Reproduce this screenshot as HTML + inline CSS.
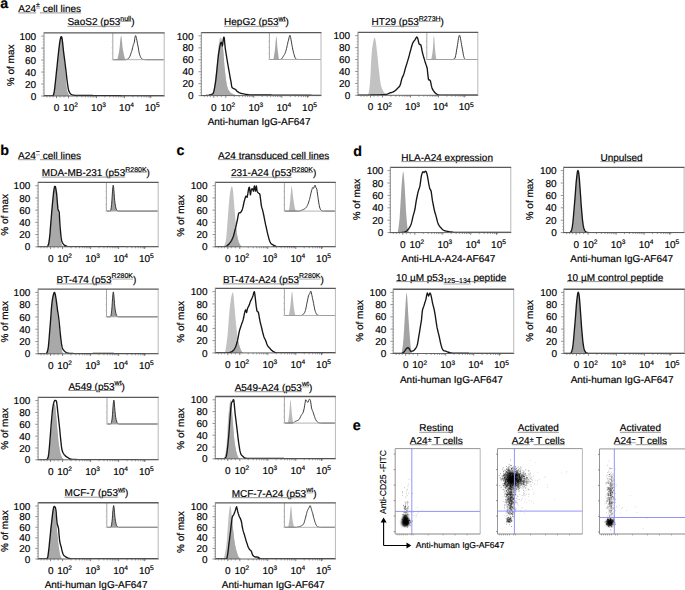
<!DOCTYPE html><html><head><meta charset="utf-8"><style>html,body{margin:0;padding:0;background:#fff;overflow:hidden}svg{display:block;} text{text-rendering:geometricPrecision;stroke:#000;stroke-width:0.18px}</style></head><body>
<svg width="685" height="590" viewBox="0 0 685 590" font-family='"Liberation Sans", sans-serif'>
<rect width="685" height="590" fill="#fff"/>
<line x1="41.20" y1="96.00" x2="44.00" y2="96.00" stroke="#777" stroke-width="0.8" />
<text x="36.20" y="99.60" font-size="10" text-anchor="end" font-weight="normal" fill="#000" >0</text>
<line x1="41.20" y1="84.02" x2="44.00" y2="84.02" stroke="#777" stroke-width="0.8" />
<text x="36.20" y="87.62" font-size="10" text-anchor="end" font-weight="normal" fill="#000" >20</text>
<line x1="41.20" y1="72.04" x2="44.00" y2="72.04" stroke="#777" stroke-width="0.8" />
<text x="36.20" y="75.64" font-size="10" text-anchor="end" font-weight="normal" fill="#000" >40</text>
<line x1="41.20" y1="60.06" x2="44.00" y2="60.06" stroke="#777" stroke-width="0.8" />
<text x="36.20" y="63.66" font-size="10" text-anchor="end" font-weight="normal" fill="#000" >60</text>
<line x1="41.20" y1="48.08" x2="44.00" y2="48.08" stroke="#777" stroke-width="0.8" />
<text x="36.20" y="51.68" font-size="10" text-anchor="end" font-weight="normal" fill="#000" >80</text>
<line x1="41.20" y1="36.10" x2="44.00" y2="36.10" stroke="#777" stroke-width="0.8" />
<text x="36.20" y="39.70" font-size="10" text-anchor="end" font-weight="normal" fill="#000" >100</text>
<line x1="42.50" y1="93.00" x2="44.00" y2="93.00" stroke="#999" stroke-width="0.6" />
<line x1="42.50" y1="90.01" x2="44.00" y2="90.01" stroke="#999" stroke-width="0.6" />
<line x1="42.50" y1="87.02" x2="44.00" y2="87.02" stroke="#999" stroke-width="0.6" />
<line x1="42.50" y1="81.03" x2="44.00" y2="81.03" stroke="#999" stroke-width="0.6" />
<line x1="42.50" y1="78.03" x2="44.00" y2="78.03" stroke="#999" stroke-width="0.6" />
<line x1="42.50" y1="75.03" x2="44.00" y2="75.03" stroke="#999" stroke-width="0.6" />
<line x1="42.50" y1="69.04" x2="44.00" y2="69.04" stroke="#999" stroke-width="0.6" />
<line x1="42.50" y1="66.05" x2="44.00" y2="66.05" stroke="#999" stroke-width="0.6" />
<line x1="42.50" y1="63.05" x2="44.00" y2="63.05" stroke="#999" stroke-width="0.6" />
<line x1="42.50" y1="57.06" x2="44.00" y2="57.06" stroke="#999" stroke-width="0.6" />
<line x1="42.50" y1="54.07" x2="44.00" y2="54.07" stroke="#999" stroke-width="0.6" />
<line x1="42.50" y1="51.08" x2="44.00" y2="51.08" stroke="#999" stroke-width="0.6" />
<line x1="42.50" y1="45.08" x2="44.00" y2="45.08" stroke="#999" stroke-width="0.6" />
<line x1="42.50" y1="42.09" x2="44.00" y2="42.09" stroke="#999" stroke-width="0.6" />
<line x1="42.50" y1="39.09" x2="44.00" y2="39.09" stroke="#999" stroke-width="0.6" />
<line x1="56.50" y1="96.00" x2="56.50" y2="98.20" stroke="#666" stroke-width="0.8" />
<line x1="68.50" y1="96.00" x2="68.50" y2="98.20" stroke="#666" stroke-width="0.8" />
<line x1="96.50" y1="96.00" x2="96.50" y2="98.20" stroke="#666" stroke-width="0.8" />
<line x1="124.50" y1="96.00" x2="124.50" y2="98.20" stroke="#666" stroke-width="0.8" />
<line x1="150.20" y1="96.00" x2="150.20" y2="98.20" stroke="#666" stroke-width="0.8" />
<line x1="76.93" y1="96.00" x2="76.93" y2="97.50" stroke="#666" stroke-width="0.6" />
<line x1="81.86" y1="96.00" x2="81.86" y2="97.50" stroke="#666" stroke-width="0.6" />
<line x1="85.36" y1="96.00" x2="85.36" y2="97.50" stroke="#666" stroke-width="0.6" />
<line x1="88.07" y1="96.00" x2="88.07" y2="97.50" stroke="#666" stroke-width="0.6" />
<line x1="90.29" y1="96.00" x2="90.29" y2="97.50" stroke="#666" stroke-width="0.6" />
<line x1="92.16" y1="96.00" x2="92.16" y2="97.50" stroke="#666" stroke-width="0.6" />
<line x1="93.79" y1="96.00" x2="93.79" y2="97.50" stroke="#666" stroke-width="0.6" />
<line x1="95.22" y1="96.00" x2="95.22" y2="97.50" stroke="#666" stroke-width="0.6" />
<line x1="104.93" y1="96.00" x2="104.93" y2="97.50" stroke="#666" stroke-width="0.6" />
<line x1="109.86" y1="96.00" x2="109.86" y2="97.50" stroke="#666" stroke-width="0.6" />
<line x1="113.36" y1="96.00" x2="113.36" y2="97.50" stroke="#666" stroke-width="0.6" />
<line x1="116.07" y1="96.00" x2="116.07" y2="97.50" stroke="#666" stroke-width="0.6" />
<line x1="118.29" y1="96.00" x2="118.29" y2="97.50" stroke="#666" stroke-width="0.6" />
<line x1="120.16" y1="96.00" x2="120.16" y2="97.50" stroke="#666" stroke-width="0.6" />
<line x1="121.79" y1="96.00" x2="121.79" y2="97.50" stroke="#666" stroke-width="0.6" />
<line x1="123.22" y1="96.00" x2="123.22" y2="97.50" stroke="#666" stroke-width="0.6" />
<line x1="132.93" y1="96.00" x2="132.93" y2="97.50" stroke="#666" stroke-width="0.6" />
<line x1="137.86" y1="96.00" x2="137.86" y2="97.50" stroke="#666" stroke-width="0.6" />
<line x1="141.36" y1="96.00" x2="141.36" y2="97.50" stroke="#666" stroke-width="0.6" />
<line x1="144.07" y1="96.00" x2="144.07" y2="97.50" stroke="#666" stroke-width="0.6" />
<line x1="146.29" y1="96.00" x2="146.29" y2="97.50" stroke="#666" stroke-width="0.6" />
<line x1="148.16" y1="96.00" x2="148.16" y2="97.50" stroke="#666" stroke-width="0.6" />
<line x1="149.79" y1="96.00" x2="149.79" y2="97.50" stroke="#666" stroke-width="0.6" />
<line x1="151.22" y1="96.00" x2="151.22" y2="97.50" stroke="#666" stroke-width="0.6" />
<line x1="47.00" y1="96.00" x2="47.00" y2="97.50" stroke="#666" stroke-width="0.6" />
<line x1="50.00" y1="96.00" x2="50.00" y2="97.50" stroke="#666" stroke-width="0.6" />
<line x1="53.00" y1="96.00" x2="53.00" y2="97.50" stroke="#666" stroke-width="0.6" />
<line x1="60.00" y1="96.00" x2="60.00" y2="97.50" stroke="#666" stroke-width="0.6" />
<line x1="64.00" y1="96.00" x2="64.00" y2="97.50" stroke="#666" stroke-width="0.6" />
<text x="56.60" y="110.90" font-size="10" text-anchor="middle" font-weight="normal" fill="#000" >0</text>
<text x="63.10" y="110.90" font-size="10" fill="#000">10<tspan font-size="6.6" dy="-3.6">2</tspan></text>
<text x="91.10" y="110.90" font-size="10" fill="#000">10<tspan font-size="6.6" dy="-3.6">3</tspan></text>
<text x="119.10" y="110.90" font-size="10" fill="#000">10<tspan font-size="6.6" dy="-3.6">4</tspan></text>
<text x="144.80" y="110.90" font-size="10" fill="#000">10<tspan font-size="6.6" dy="-3.6">5</tspan></text>
<clipPath id="ca1"><rect x="44" y="32.8" width="120.19999999999999" height="63.2"/></clipPath>
<g clip-path="url(#ca1)">
<polygon points="50,96 50,96 50.3,96 50.8,96 51.4,96 52,96 52.5,96 53.1,95.9 53.5,95.4 54.1,93.6 54.5,91 55,87 55.5,82.6 56,77.2 56.6,71.5 57.1,66 57.8,59.1 58.4,52.4 59,46.9 59.7,41.9 60.3,39.1 60.8,37.7 61.2,37.9 61.7,39.2 62.3,42.1 62.8,45.5 63.3,49.7 63.8,54.1 64.4,60.5 65,67.2 65.5,74.4 66,81 66.5,86.1 67,90 67.5,91.9 68,93.2 68.5,94.2 68.9,94.9 69.3,95.4 70,95.7 70.4,95.8 70.9,95.9 71.5,95.9 72.1,95.9 72.7,96 73.2,96 73.7,96 74,96 74,96" fill="#c2c2c2"/>
<polygon points="50,96 50,96 50.4,96 50.8,96 51.2,96 51.6,96 52,96 52.4,96 52.8,96 53.2,95.8 53.6,95.1 54,94 54.4,91.9 54.8,88.7 55.2,85.2 55.6,81.5 56,77.5 56.4,73.3 56.8,69.1 57.2,65.1 57.6,61.2 58,57.4 58.4,53.5 58.8,49.9 59.2,46.5 59.6,43.5 60,40.9 60.4,38.8 60.8,37.8 61.2,37.9 61.6,38.9 62,40.6 62.4,42.8 62.8,45.6 63.2,48.8 63.6,52.3 64,56.1 64.4,60.2 64.8,64.9 65.2,70 65.6,75.6 66,81 66.4,85.4 66.8,88.5 67.2,90.8 67.6,92.2 68,93.2 68.4,94 68.8,94.8 69.2,95.3 69.6,95.5 70,95.7 70.4,95.8 70.8,95.9 71.2,95.9 71.6,95.9 72,95.9 72.4,96 72.8,96 73.2,96 73.6,96 74,96 74,96" fill="#a9a9a9"/>
<polyline points="44,96 48,96 48.3,96 48.8,96 49.3,96 49.9,96 50.5,96 51.1,95.9 51.6,95.9 52.1,95.8 52.5,95.6 53.2,95.3 53.6,94.7 54,93 54.5,89.8 55,85.6 55.5,81 56,76.4 56.5,71.4 57.1,66 57.7,59.9 58.4,53.5 59,48.1 59.7,42.6 60.3,39.1 60.8,37.2 61.2,36.7 61.7,37 62.2,39.1 62.8,44.3 63.5,51.1 64.1,55.9 64.8,61 65.4,66 66,70.9 66.5,75.6 67,79.8 67.7,85 68.3,88.8 68.9,91.1 69.5,92.4 70,93.2 70.5,93.7 71,94.2 71.4,94.5 71.7,94.7 72.2,94.9 73,95.1 73.3,95.1 73.5,95.2 73.8,95.2 74,95.2 74.3,95.3 74.6,95.3 75,95.3 75.4,95.3 76.1,95.3 76.9,95.4 77.8,95.4 79,95.4 79.3,95.4 79.7,95.4 80,95.4 80.4,95.4 80.8,95.4 81.1,95.4 81.6,95.4 82,95.4 82.4,95.4 82.9,95.5 83.3,95.5 83.8,95.5 84.3,95.5 84.8,95.5 85.3,95.5 85.8,95.5 86.3,95.5 86.8,95.5 87.3,95.5 87.9,95.5 88.4,95.5 89,95.5 89.5,95.5 90.1,95.5 90.6,95.5 91.2,95.5 91.7,95.5 92.3,95.5 92.9,95.6 93.4,95.6 94,95.6 94.6,95.6 95.1,95.6 95.7,95.6 96.3,95.6 96.8,95.6 97.4,95.6 97.9,95.6 98.5,95.6 99,95.6 99.6,95.6 100.1,95.6 100.6,95.6 101.1,95.6 101.6,95.6 102.1,95.6 102.6,95.6 103.1,95.6 103.5,95.6 104,95.6 104.6,95.6 105.1,95.6 105.6,95.7 106.1,95.7 106.6,95.7 107.1,95.7 107.5,95.7 108,95.7 108.4,95.7 108.9,95.7 109.3,95.7 109.7,95.7 110.2,95.7 110.6,95.7 111,95.7 111.4,95.7 111.8,95.7 112.2,95.7 112.6,95.7 113.1,95.7 113.5,95.7 113.9,95.7 114.4,95.7 114.8,95.7 115.3,95.7 115.7,95.7 116.2,95.7 116.7,95.7 117.2,95.7 117.7,95.7 118.2,95.7 118.8,95.7 119.4,95.7 120,95.7 120.6,95.7 121.2,95.8 121.9,95.8 122.6,95.8 123.3,95.8 124,95.8 124.4,95.8 124.8,95.8 125.2,95.8 125.6,95.8 126,95.8 126.5,95.8 126.9,95.8 127.4,95.8 127.8,95.8 128.3,95.8 128.8,95.8 129.3,95.8 129.8,95.8 130.3,95.8 130.8,95.8 131.4,95.8 131.9,95.8 132.4,95.8 133,95.8 133.5,95.8 134.1,95.8 134.7,95.8 135.2,95.8 135.8,95.8 136.4,95.8 136.9,95.8 137.5,95.8 138.1,95.8 138.7,95.8 139.3,95.8 139.9,95.8 140.5,95.8 141.1,95.8 141.7,95.8 142.3,95.8 142.9,95.8 143.5,95.8 144.1,95.8 144.7,95.8 145.2,95.8 145.8,95.8 146.4,95.8 147,95.8 147.6,95.8 148.2,95.8 148.8,95.8 149.3,95.8 149.9,95.8 150.5,95.8 151.1,95.8 151.6,95.8 152.2,95.8 152.7,95.8 153.2,95.8 153.8,95.8 154.3,95.8 154.8,95.8 155.3,95.8 155.8,95.8 156.3,95.8 156.8,95.8 157.3,95.8 157.8,95.8 158.2,95.8 158.7,95.8 159.1,95.8 159.6,95.8 160,95.8 160.4,95.8 160.8,95.8 161.2,95.8 161.5,95.8 161.9,95.8 162.2,95.8 162.6,95.8 162.9,95.8 163.2,95.8 163.5,95.8 163.7,95.8 164,95.8 164.2,95.8" fill="none" stroke="#161616" stroke-width="1.35" stroke-linejoin="round"/>
</g>
<rect x="112.80" y="32.80" width="51.40" height="26.90" fill="white" stroke="none"/>
<polygon points="117.3,59.7 117.3,59.7 117.5,58.7 117.8,57.4 118.2,55.8 118.6,54 119,52.1 119.3,50.1 119.6,47.6 119.9,44.6 120.2,41.4 120.5,38.5 120.8,36.5 121.1,35.6 121.4,36.5 121.8,39 122.1,42.4 122.4,45.9 122.8,48.9 123.1,50.6 123.5,52.4 123.8,54.1 124.2,55.8 124.5,57.3 124.9,58.5 125.1,59.5 125.6,59.7 125.8,59.7 125.8,59.7" fill="#a6a6a6"/>
<polygon points="124.8,59.7 124.8,59.7 125.2,59.7 125.6,59.7 125.6,59.7" fill="#a0a0a0"/>
<polyline points="113.3,59.7 124.8,59.7 125,59.7 125.4,59.7 126,59.6 126.2,59.5 126.5,59.4 126.8,59.4 127.1,59.3 127.4,59.2 127.7,59.1 128.1,58.9 128.4,58.7 128.7,58.4 129,58 129.3,57.4 129.7,56.7 130,56 130.4,55.1 130.7,54.2 131,53.3 131.3,52.4 131.6,51.5 132,50.3 132.3,49 132.6,47.7 132.9,46.5 133.2,45.4 133.4,44.5 133.8,43.7 134.2,42.8 134.5,41 134.8,38.5 135.2,36.4 135.6,35.6 135.9,36.1 136.2,37.1 136.5,38.6 136.9,40.3 137.2,42 137.5,43.8 137.8,45.2 138.2,47.1 138.5,49.1 138.8,50.9 139.1,52.7 139.5,54.2 139.8,55.1 140.1,55.9 140.4,56.6 140.7,57.3 141,57.8 141.3,58.3 141.7,58.7 142,59 142.3,59.2 142.6,59.3 142.9,59.4 143.3,59.4 143.6,59.5 143.9,59.5 144.2,59.5 144.5,59.5 144.8,59.6 145.2,59.6 145.6,59.7 146,59.7 146.3,59.7 146.6,59.7 146.8,59.7 163.7,59.7" fill="none" stroke="#3a3a3a" stroke-width="1"/>
<line x1="112.80" y1="32.80" x2="112.80" y2="59.70" stroke="#8f8f8f" stroke-width="0.8" />
<line x1="112.80" y1="59.70" x2="164.20" y2="59.70" stroke="#aaaaaa" stroke-width="0.9" />
<line x1="111.60" y1="41.62" x2="112.80" y2="41.62" stroke="#aaa" stroke-width="0.5" />
<line x1="111.60" y1="47.65" x2="112.80" y2="47.65" stroke="#aaa" stroke-width="0.5" />
<line x1="111.60" y1="53.67" x2="112.80" y2="53.67" stroke="#aaa" stroke-width="0.5" />
<line x1="111.60" y1="59.70" x2="112.80" y2="59.70" stroke="#aaa" stroke-width="0.5" />
<line x1="164.20" y1="32.80" x2="164.20" y2="96.00" stroke="#b8b8b8" stroke-width="1" />
<line x1="44.00" y1="32.80" x2="164.60" y2="32.80" stroke="#5a5a5a" stroke-width="1.35" />
<line x1="44.00" y1="32.20" x2="44.00" y2="96.50" stroke="#858585" stroke-width="1" />
<line x1="43.50" y1="96.00" x2="164.70" y2="96.00" stroke="#555" stroke-width="0.9" />
<text x="13.70" y="65.40" font-size="10" text-anchor="middle" fill="#000" transform="rotate(-90 13.70 65.40)">% of max</text>
<line x1="198.50" y1="95.60" x2="201.30" y2="95.60" stroke="#777" stroke-width="0.8" />
<text x="193.50" y="99.20" font-size="10" text-anchor="end" font-weight="normal" fill="#000" >0</text>
<line x1="198.50" y1="83.66" x2="201.30" y2="83.66" stroke="#777" stroke-width="0.8" />
<text x="193.50" y="87.26" font-size="10" text-anchor="end" font-weight="normal" fill="#000" >20</text>
<line x1="198.50" y1="71.72" x2="201.30" y2="71.72" stroke="#777" stroke-width="0.8" />
<text x="193.50" y="75.32" font-size="10" text-anchor="end" font-weight="normal" fill="#000" >40</text>
<line x1="198.50" y1="59.78" x2="201.30" y2="59.78" stroke="#777" stroke-width="0.8" />
<text x="193.50" y="63.38" font-size="10" text-anchor="end" font-weight="normal" fill="#000" >60</text>
<line x1="198.50" y1="47.84" x2="201.30" y2="47.84" stroke="#777" stroke-width="0.8" />
<text x="193.50" y="51.44" font-size="10" text-anchor="end" font-weight="normal" fill="#000" >80</text>
<line x1="198.50" y1="35.90" x2="201.30" y2="35.90" stroke="#777" stroke-width="0.8" />
<text x="193.50" y="39.50" font-size="10" text-anchor="end" font-weight="normal" fill="#000" >100</text>
<line x1="199.80" y1="92.61" x2="201.30" y2="92.61" stroke="#999" stroke-width="0.6" />
<line x1="199.80" y1="89.63" x2="201.30" y2="89.63" stroke="#999" stroke-width="0.6" />
<line x1="199.80" y1="86.64" x2="201.30" y2="86.64" stroke="#999" stroke-width="0.6" />
<line x1="199.80" y1="80.67" x2="201.30" y2="80.67" stroke="#999" stroke-width="0.6" />
<line x1="199.80" y1="77.69" x2="201.30" y2="77.69" stroke="#999" stroke-width="0.6" />
<line x1="199.80" y1="74.70" x2="201.30" y2="74.70" stroke="#999" stroke-width="0.6" />
<line x1="199.80" y1="68.73" x2="201.30" y2="68.73" stroke="#999" stroke-width="0.6" />
<line x1="199.80" y1="65.75" x2="201.30" y2="65.75" stroke="#999" stroke-width="0.6" />
<line x1="199.80" y1="62.77" x2="201.30" y2="62.77" stroke="#999" stroke-width="0.6" />
<line x1="199.80" y1="56.80" x2="201.30" y2="56.80" stroke="#999" stroke-width="0.6" />
<line x1="199.80" y1="53.81" x2="201.30" y2="53.81" stroke="#999" stroke-width="0.6" />
<line x1="199.80" y1="50.82" x2="201.30" y2="50.82" stroke="#999" stroke-width="0.6" />
<line x1="199.80" y1="44.85" x2="201.30" y2="44.85" stroke="#999" stroke-width="0.6" />
<line x1="199.80" y1="41.87" x2="201.30" y2="41.87" stroke="#999" stroke-width="0.6" />
<line x1="199.80" y1="38.88" x2="201.30" y2="38.88" stroke="#999" stroke-width="0.6" />
<line x1="213.80" y1="95.60" x2="213.80" y2="97.80" stroke="#666" stroke-width="0.8" />
<line x1="225.80" y1="95.60" x2="225.80" y2="97.80" stroke="#666" stroke-width="0.8" />
<line x1="253.80" y1="95.60" x2="253.80" y2="97.80" stroke="#666" stroke-width="0.8" />
<line x1="281.80" y1="95.60" x2="281.80" y2="97.80" stroke="#666" stroke-width="0.8" />
<line x1="307.50" y1="95.60" x2="307.50" y2="97.80" stroke="#666" stroke-width="0.8" />
<line x1="234.23" y1="95.60" x2="234.23" y2="97.10" stroke="#666" stroke-width="0.6" />
<line x1="239.16" y1="95.60" x2="239.16" y2="97.10" stroke="#666" stroke-width="0.6" />
<line x1="242.66" y1="95.60" x2="242.66" y2="97.10" stroke="#666" stroke-width="0.6" />
<line x1="245.37" y1="95.60" x2="245.37" y2="97.10" stroke="#666" stroke-width="0.6" />
<line x1="247.59" y1="95.60" x2="247.59" y2="97.10" stroke="#666" stroke-width="0.6" />
<line x1="249.46" y1="95.60" x2="249.46" y2="97.10" stroke="#666" stroke-width="0.6" />
<line x1="251.09" y1="95.60" x2="251.09" y2="97.10" stroke="#666" stroke-width="0.6" />
<line x1="252.52" y1="95.60" x2="252.52" y2="97.10" stroke="#666" stroke-width="0.6" />
<line x1="262.23" y1="95.60" x2="262.23" y2="97.10" stroke="#666" stroke-width="0.6" />
<line x1="267.16" y1="95.60" x2="267.16" y2="97.10" stroke="#666" stroke-width="0.6" />
<line x1="270.66" y1="95.60" x2="270.66" y2="97.10" stroke="#666" stroke-width="0.6" />
<line x1="273.37" y1="95.60" x2="273.37" y2="97.10" stroke="#666" stroke-width="0.6" />
<line x1="275.59" y1="95.60" x2="275.59" y2="97.10" stroke="#666" stroke-width="0.6" />
<line x1="277.46" y1="95.60" x2="277.46" y2="97.10" stroke="#666" stroke-width="0.6" />
<line x1="279.09" y1="95.60" x2="279.09" y2="97.10" stroke="#666" stroke-width="0.6" />
<line x1="280.52" y1="95.60" x2="280.52" y2="97.10" stroke="#666" stroke-width="0.6" />
<line x1="290.23" y1="95.60" x2="290.23" y2="97.10" stroke="#666" stroke-width="0.6" />
<line x1="295.16" y1="95.60" x2="295.16" y2="97.10" stroke="#666" stroke-width="0.6" />
<line x1="298.66" y1="95.60" x2="298.66" y2="97.10" stroke="#666" stroke-width="0.6" />
<line x1="301.37" y1="95.60" x2="301.37" y2="97.10" stroke="#666" stroke-width="0.6" />
<line x1="303.59" y1="95.60" x2="303.59" y2="97.10" stroke="#666" stroke-width="0.6" />
<line x1="305.46" y1="95.60" x2="305.46" y2="97.10" stroke="#666" stroke-width="0.6" />
<line x1="307.09" y1="95.60" x2="307.09" y2="97.10" stroke="#666" stroke-width="0.6" />
<line x1="308.52" y1="95.60" x2="308.52" y2="97.10" stroke="#666" stroke-width="0.6" />
<line x1="204.30" y1="95.60" x2="204.30" y2="97.10" stroke="#666" stroke-width="0.6" />
<line x1="207.30" y1="95.60" x2="207.30" y2="97.10" stroke="#666" stroke-width="0.6" />
<line x1="210.30" y1="95.60" x2="210.30" y2="97.10" stroke="#666" stroke-width="0.6" />
<line x1="217.30" y1="95.60" x2="217.30" y2="97.10" stroke="#666" stroke-width="0.6" />
<line x1="221.30" y1="95.60" x2="221.30" y2="97.10" stroke="#666" stroke-width="0.6" />
<text x="213.90" y="110.50" font-size="10" text-anchor="middle" font-weight="normal" fill="#000" >0</text>
<text x="220.40" y="110.50" font-size="10" fill="#000">10<tspan font-size="6.6" dy="-3.6">2</tspan></text>
<text x="248.40" y="110.50" font-size="10" fill="#000">10<tspan font-size="6.6" dy="-3.6">3</tspan></text>
<text x="276.40" y="110.50" font-size="10" fill="#000">10<tspan font-size="6.6" dy="-3.6">4</tspan></text>
<text x="302.10" y="110.50" font-size="10" fill="#000">10<tspan font-size="6.6" dy="-3.6">5</tspan></text>
<clipPath id="ca2"><rect x="201.3" y="32.6" width="119.69999999999999" height="62.99999999999999"/></clipPath>
<g clip-path="url(#ca2)">
<polygon points="210.3,95.6 210.3,95.6 210.7,95.6 211.3,95.6 212,95.6 212.7,95.5 213.2,94.4 213.8,90.8 214.3,85.8 214.8,80.7 215.4,75.9 216.1,71 216.7,65.8 217.3,59.7 217.8,53.3 218.3,47.8 219,42.3 219.7,38.9 220.3,37.5 220.8,37.7 221.4,38.5 222.1,40.7 222.7,45 223.3,50.8 223.8,58 224.4,65.8 225,71.2 225.6,76.7 226.2,81.3 226.7,84.4 227.2,86.6 227.8,88.4 228.3,89.6 228.7,90.6 229.3,91.3 229.8,92 230.3,92.5 230.7,92.9 231.2,93.2 231.7,93.5 232.3,93.8 232.8,94 233.3,94.3 233.8,94.5 234.4,94.7 235,94.8 235.7,95 236.1,95.1 236.7,95.2 237.2,95.2 237.8,95.3 238.4,95.3 239,95.4 239.6,95.5 240.1,95.5 240.6,95.5 241,95.6 241.3,95.6 241.3,95.6" fill="#c2c2c2"/>
<polygon points="210.3,95.6 210.3,95.6 210.7,95.6 211.1,95.6 211.5,95.6 211.9,95.6 212.3,95.5 212.7,95.4 213.1,94.6 213.5,92.7 213.9,90.9 214.3,89.2 214.7,87.2 215.1,84.8 215.5,82.3 215.9,79.2 216.3,75.8 216.7,71.9 217.1,67.8 217.5,63.8 217.9,59.8 218.3,56.2 218.7,53.1 219.1,50.4 219.5,48.2 219.9,46.2 220.3,44.4 220.7,43.1 221.1,42.4 221.5,42.7 221.9,44.1 222.3,45.7 222.7,44.9 223.1,48.8 223.5,53.6 223.9,59.1 224.3,64.4 224.7,68.7 225.1,72.4 225.5,75.9 225.9,79 226.3,81.9 226.7,84.2 227.1,86 227.5,87.5 227.9,88.7 228.3,89.7 228.7,90.5 229.1,91.1 229.5,91.6 229.9,92.1 230.3,92.5 230.7,92.9 231.1,93.1 231.5,93.4 231.9,93.6 232.3,93.8 232.7,94 233.1,94.2 233.5,94.4 233.9,94.5 234.3,94.6 234.7,94.8 235.1,94.9 235.5,95 235.9,95 236.3,95.1 236.7,95.2 237.1,95.2 237.5,95.3 237.9,95.3 238.3,95.3 238.7,95.4 239.1,95.4 239.5,95.4 239.9,95.5 240.3,95.5 240.7,95.5 241.1,95.6 241.1,95.6" fill="#a9a9a9"/>
<polyline points="201.3,95.6 205.3,95.6 205.6,95.6 206.1,95.5 206.7,95.5 207.3,95.5 207.9,95.4 208.4,95.3 209,95.2 209.6,95 210.2,94.8 210.8,94.6 211.3,94.4 212,94.2 212.6,94 213.2,93.2 213.8,91.5 214.3,89.2 214.8,86.6 215.5,82.5 216.1,77.7 216.7,71.9 217.3,65.8 217.9,59.8 218.5,54.4 219.2,50.1 219.8,46.6 220.4,44 220.9,42.5 221.3,42.3 221.7,43.1 222.1,44.9 222.4,46 222.8,43.8 223.1,40.7 223.5,38.4 223.8,37.1 224.1,37.3 224.4,38.9 224.6,41.8 225,46 225.5,49.8 226.2,54.1 226.8,58 227.3,61.2 227.8,64.1 228.3,66.9 228.8,69.8 229.3,72.5 229.8,75.3 230.3,78.3 230.9,81.2 231.3,83.7 231.6,85.9 231.9,87.2 232.5,88 233.3,88.4 233.8,88.7 234.3,88.9 234.8,89 235.2,89.3 235.7,89.6 236.2,90.2 236.8,90.9 237.3,91.4 237.8,91.8 238.3,92 238.7,92.3 239.2,92.6 239.8,92.9 240.4,93.2 240.9,93.4 241.5,93.5 242.1,93.6 242.7,93.7 243.3,93.8 243.8,93.9 244.2,94 244.7,94.1 245.1,94.2 245.7,94.3 246.3,94.4 246.7,94.5 247.1,94.5 247.5,94.6 247.9,94.7 248.4,94.7 248.8,94.8 249.4,94.9 249.9,94.9 250.6,95 251.3,95 251.6,95 251.9,95 252.1,95 252.2,95 252.3,95 252.4,95 252.4,95 252.5,95 252.7,95 252.9,95 253.1,95 253.5,95 253.9,95 254.5,95 255.2,95 256,95 257,95 258.3,95 259.7,95 261.3,95 261.6,95 261.9,95 262.2,95 262.6,95 262.9,95 263.2,95 263.6,95 264,95 264.4,95 264.7,95 265.1,95 265.5,95 266,95 266.4,95 266.8,95 267.3,95 267.7,95 268.2,95 268.6,95 269.1,95 269.6,95 270.1,95 270.6,95 271.1,95 271.6,95.1 272.1,95.1 272.6,95.1 273.1,95.1 273.7,95.1 274.2,95.1 274.7,95.1 275.3,95.1 275.8,95.1 276.4,95.1 276.9,95.1 277.5,95.1 278.1,95.1 278.7,95.1 279.2,95.1 279.8,95.1 280.4,95.1 281,95.1 281.6,95.1 282.2,95.1 282.8,95.1 283.4,95.1 284,95.1 284.6,95.1 285.2,95.1 285.8,95.1 286.4,95.1 287,95.1 287.6,95.1 288.2,95.1 288.9,95.1 289.5,95.1 290.1,95.1 290.7,95.1 291.3,95.1 291.9,95.2 292.5,95.2 293.2,95.2 293.8,95.2 294.4,95.2 295,95.2 295.6,95.2 296.2,95.2 296.8,95.2 297.4,95.2 298,95.2 298.6,95.2 299.2,95.2 299.8,95.2 300.4,95.2 301,95.2 301.6,95.2 302.2,95.2 302.7,95.2 303.3,95.2 303.9,95.2 304.5,95.2 305,95.2 305.6,95.2 306.1,95.2 306.7,95.2 307.2,95.2 307.8,95.2 308.3,95.2 308.8,95.2 309.3,95.2 309.9,95.2 310.4,95.2 310.9,95.2 311.4,95.3 311.9,95.3 312.3,95.3 312.8,95.3 313.3,95.3 313.7,95.3 314.2,95.3 314.6,95.3 315.1,95.3 315.5,95.3 315.9,95.3 316.3,95.3 316.7,95.3 317.1,95.3 317.5,95.3 317.9,95.3 318.2,95.3 318.6,95.3 318.9,95.3 319.3,95.3 319.6,95.3 319.9,95.3 320.2,95.3 320.5,95.3 320.8,95.3 321,95.3 321.3,95.3 321,95.3" fill="none" stroke="#161616" stroke-width="1.35" stroke-linejoin="round"/>
</g>
<rect x="269.40" y="32.60" width="51.60" height="26.90" fill="white" stroke="none"/>
<polygon points="273.4,59.5 273.4,59.5 273.6,58.3 273.9,56.5 274.2,54.5 274.6,52.2 274.9,49.9 275.3,46.1 275.6,41.7 276,37.9 276.3,36.1 276.7,38 277,42.7 277.4,47.5 277.7,50 278,52.8 278.4,55.5 278.7,57.8 278.9,59.5 278.9,59.5" fill="#a6a6a6"/>
<polyline points="269.9,59.5 279.4,59.5 279.7,59.5 280.1,59.5 280.6,59.4 280.9,59.3 281.2,59.1 281.6,58.9 281.9,58.5 282.2,58.2 282.5,57.7 282.8,57.2 283.1,56.6 283.4,56.1 283.7,55.6 284.1,55.1 284.4,54.6 284.7,54.1 285,53.5 285.3,52.7 285.6,51.8 285.9,50.8 286.2,49.9 286.5,48.5 286.9,47.1 287.2,45.5 287.5,44.3 287.8,42.9 288.1,41.5 288.5,40.2 288.8,39 289.1,37.5 289.4,36.2 289.8,35.4 290.1,35.4 290.4,36.2 290.7,37.7 291,39.7 291.4,41.8 291.7,43.8 292,45.5 292.4,47.3 292.7,49 293.1,50.6 293.4,52.1 293.8,53.5 294.1,54.7 294.5,55.9 294.8,57 295.1,57.8 295.5,58.5 295.8,58.9 296.1,59.2 296.4,59.3 296.8,59.3 297.1,59.3 297.4,59.4 297.8,59.4 298.1,59.5 298.5,59.5 298.9,59.5 299.2,59.5 299.4,59.5 320.5,59.5" fill="none" stroke="#3a3a3a" stroke-width="1"/>
<line x1="269.40" y1="32.60" x2="269.40" y2="59.50" stroke="#8f8f8f" stroke-width="0.8" />
<line x1="269.40" y1="59.50" x2="321.00" y2="59.50" stroke="#aaaaaa" stroke-width="0.9" />
<line x1="268.20" y1="41.42" x2="269.40" y2="41.42" stroke="#aaa" stroke-width="0.5" />
<line x1="268.20" y1="47.45" x2="269.40" y2="47.45" stroke="#aaa" stroke-width="0.5" />
<line x1="268.20" y1="53.47" x2="269.40" y2="53.47" stroke="#aaa" stroke-width="0.5" />
<line x1="268.20" y1="59.50" x2="269.40" y2="59.50" stroke="#aaa" stroke-width="0.5" />
<line x1="321.00" y1="32.60" x2="321.00" y2="95.60" stroke="#b8b8b8" stroke-width="1" />
<line x1="201.30" y1="32.60" x2="321.40" y2="32.60" stroke="#5a5a5a" stroke-width="1.35" />
<line x1="201.30" y1="32.00" x2="201.30" y2="96.10" stroke="#858585" stroke-width="1" />
<line x1="200.80" y1="95.60" x2="321.50" y2="95.60" stroke="#555" stroke-width="0.9" />
<text x="259.05" y="125.00" font-size="10" text-anchor="middle" font-weight="normal" fill="#000" >Anti-human IgG-AF647</text>
<line x1="355.20" y1="95.30" x2="358.00" y2="95.30" stroke="#777" stroke-width="0.8" />
<text x="350.20" y="98.90" font-size="10" text-anchor="end" font-weight="normal" fill="#000" >0</text>
<line x1="355.20" y1="83.38" x2="358.00" y2="83.38" stroke="#777" stroke-width="0.8" />
<text x="350.20" y="86.98" font-size="10" text-anchor="end" font-weight="normal" fill="#000" >20</text>
<line x1="355.20" y1="71.46" x2="358.00" y2="71.46" stroke="#777" stroke-width="0.8" />
<text x="350.20" y="75.06" font-size="10" text-anchor="end" font-weight="normal" fill="#000" >40</text>
<line x1="355.20" y1="59.54" x2="358.00" y2="59.54" stroke="#777" stroke-width="0.8" />
<text x="350.20" y="63.14" font-size="10" text-anchor="end" font-weight="normal" fill="#000" >60</text>
<line x1="355.20" y1="47.62" x2="358.00" y2="47.62" stroke="#777" stroke-width="0.8" />
<text x="350.20" y="51.22" font-size="10" text-anchor="end" font-weight="normal" fill="#000" >80</text>
<line x1="355.20" y1="35.70" x2="358.00" y2="35.70" stroke="#777" stroke-width="0.8" />
<text x="350.20" y="39.30" font-size="10" text-anchor="end" font-weight="normal" fill="#000" >100</text>
<line x1="356.50" y1="92.32" x2="358.00" y2="92.32" stroke="#999" stroke-width="0.6" />
<line x1="356.50" y1="89.34" x2="358.00" y2="89.34" stroke="#999" stroke-width="0.6" />
<line x1="356.50" y1="86.36" x2="358.00" y2="86.36" stroke="#999" stroke-width="0.6" />
<line x1="356.50" y1="80.40" x2="358.00" y2="80.40" stroke="#999" stroke-width="0.6" />
<line x1="356.50" y1="77.42" x2="358.00" y2="77.42" stroke="#999" stroke-width="0.6" />
<line x1="356.50" y1="74.44" x2="358.00" y2="74.44" stroke="#999" stroke-width="0.6" />
<line x1="356.50" y1="68.48" x2="358.00" y2="68.48" stroke="#999" stroke-width="0.6" />
<line x1="356.50" y1="65.50" x2="358.00" y2="65.50" stroke="#999" stroke-width="0.6" />
<line x1="356.50" y1="62.52" x2="358.00" y2="62.52" stroke="#999" stroke-width="0.6" />
<line x1="356.50" y1="56.56" x2="358.00" y2="56.56" stroke="#999" stroke-width="0.6" />
<line x1="356.50" y1="53.58" x2="358.00" y2="53.58" stroke="#999" stroke-width="0.6" />
<line x1="356.50" y1="50.60" x2="358.00" y2="50.60" stroke="#999" stroke-width="0.6" />
<line x1="356.50" y1="44.64" x2="358.00" y2="44.64" stroke="#999" stroke-width="0.6" />
<line x1="356.50" y1="41.66" x2="358.00" y2="41.66" stroke="#999" stroke-width="0.6" />
<line x1="356.50" y1="38.68" x2="358.00" y2="38.68" stroke="#999" stroke-width="0.6" />
<line x1="370.50" y1="95.30" x2="370.50" y2="97.50" stroke="#666" stroke-width="0.8" />
<line x1="382.50" y1="95.30" x2="382.50" y2="97.50" stroke="#666" stroke-width="0.8" />
<line x1="410.50" y1="95.30" x2="410.50" y2="97.50" stroke="#666" stroke-width="0.8" />
<line x1="438.50" y1="95.30" x2="438.50" y2="97.50" stroke="#666" stroke-width="0.8" />
<line x1="464.20" y1="95.30" x2="464.20" y2="97.50" stroke="#666" stroke-width="0.8" />
<line x1="390.93" y1="95.30" x2="390.93" y2="96.80" stroke="#666" stroke-width="0.6" />
<line x1="395.86" y1="95.30" x2="395.86" y2="96.80" stroke="#666" stroke-width="0.6" />
<line x1="399.36" y1="95.30" x2="399.36" y2="96.80" stroke="#666" stroke-width="0.6" />
<line x1="402.07" y1="95.30" x2="402.07" y2="96.80" stroke="#666" stroke-width="0.6" />
<line x1="404.29" y1="95.30" x2="404.29" y2="96.80" stroke="#666" stroke-width="0.6" />
<line x1="406.16" y1="95.30" x2="406.16" y2="96.80" stroke="#666" stroke-width="0.6" />
<line x1="407.79" y1="95.30" x2="407.79" y2="96.80" stroke="#666" stroke-width="0.6" />
<line x1="409.22" y1="95.30" x2="409.22" y2="96.80" stroke="#666" stroke-width="0.6" />
<line x1="418.93" y1="95.30" x2="418.93" y2="96.80" stroke="#666" stroke-width="0.6" />
<line x1="423.86" y1="95.30" x2="423.86" y2="96.80" stroke="#666" stroke-width="0.6" />
<line x1="427.36" y1="95.30" x2="427.36" y2="96.80" stroke="#666" stroke-width="0.6" />
<line x1="430.07" y1="95.30" x2="430.07" y2="96.80" stroke="#666" stroke-width="0.6" />
<line x1="432.29" y1="95.30" x2="432.29" y2="96.80" stroke="#666" stroke-width="0.6" />
<line x1="434.16" y1="95.30" x2="434.16" y2="96.80" stroke="#666" stroke-width="0.6" />
<line x1="435.79" y1="95.30" x2="435.79" y2="96.80" stroke="#666" stroke-width="0.6" />
<line x1="437.22" y1="95.30" x2="437.22" y2="96.80" stroke="#666" stroke-width="0.6" />
<line x1="446.93" y1="95.30" x2="446.93" y2="96.80" stroke="#666" stroke-width="0.6" />
<line x1="451.86" y1="95.30" x2="451.86" y2="96.80" stroke="#666" stroke-width="0.6" />
<line x1="455.36" y1="95.30" x2="455.36" y2="96.80" stroke="#666" stroke-width="0.6" />
<line x1="458.07" y1="95.30" x2="458.07" y2="96.80" stroke="#666" stroke-width="0.6" />
<line x1="460.29" y1="95.30" x2="460.29" y2="96.80" stroke="#666" stroke-width="0.6" />
<line x1="462.16" y1="95.30" x2="462.16" y2="96.80" stroke="#666" stroke-width="0.6" />
<line x1="463.79" y1="95.30" x2="463.79" y2="96.80" stroke="#666" stroke-width="0.6" />
<line x1="465.22" y1="95.30" x2="465.22" y2="96.80" stroke="#666" stroke-width="0.6" />
<line x1="361.00" y1="95.30" x2="361.00" y2="96.80" stroke="#666" stroke-width="0.6" />
<line x1="364.00" y1="95.30" x2="364.00" y2="96.80" stroke="#666" stroke-width="0.6" />
<line x1="367.00" y1="95.30" x2="367.00" y2="96.80" stroke="#666" stroke-width="0.6" />
<line x1="374.00" y1="95.30" x2="374.00" y2="96.80" stroke="#666" stroke-width="0.6" />
<line x1="378.00" y1="95.30" x2="378.00" y2="96.80" stroke="#666" stroke-width="0.6" />
<text x="370.60" y="110.20" font-size="10" text-anchor="middle" font-weight="normal" fill="#000" >0</text>
<text x="377.10" y="110.20" font-size="10" fill="#000">10<tspan font-size="6.6" dy="-3.6">2</tspan></text>
<text x="405.10" y="110.20" font-size="10" fill="#000">10<tspan font-size="6.6" dy="-3.6">3</tspan></text>
<text x="433.10" y="110.20" font-size="10" fill="#000">10<tspan font-size="6.6" dy="-3.6">4</tspan></text>
<text x="458.80" y="110.20" font-size="10" fill="#000">10<tspan font-size="6.6" dy="-3.6">5</tspan></text>
<clipPath id="ca3"><rect x="358" y="32.4" width="119.80000000000001" height="62.9"/></clipPath>
<g clip-path="url(#ca3)">
<polygon points="366,95.3 366,95.3 366.4,95.3 366.9,95.3 367.5,95.3 368.1,94.7 368.7,92.4 369.3,88.9 369.9,83.4 370.5,74.4 371,63.4 371.6,54.2 372.2,48.1 372.9,43.7 373.5,40.5 374.1,37.9 374.6,37.5 375.2,38.8 375.8,41.7 376.4,45.9 377,51.8 377.6,57.1 378.2,63.3 378.8,69.1 379.4,74.3 380,79.3 380.6,83.4 381.1,85.7 381.6,87.6 382.2,89.1 382.9,90.5 383.3,91.3 383.8,92 384.4,92.7 384.9,93.3 385.4,93.9 386,94.3 386.5,94.7 387,95 387.6,95.2 388.2,95.2 388.8,95.3 389.3,95.3 389.7,95.3 390,95.3 390,95.3" fill="#c2c2c2"/>
<polygon points="368,95.3 368,95.3 368.4,95.1 368.8,95.1 369.2,95.1 369.6,95.1 370,95.1 370.4,95.1 370.8,95 371.2,95 371.6,95 372,95 372.4,95 372.8,95 373.2,95 373.6,95 374,95 374.4,94.9 374.8,94.9 375.2,94.9 375.6,94.9 376,94.9 376.4,94.9 376.8,94.9 377.2,94.9 377.6,94.8 378,94.8 378.4,94.8 378.8,94.8 379.2,94.8 379.6,94.8 380,94.8 380.4,94.7 380.8,94.7 381.2,94.7 381.6,94.7 382,94.7 382.4,94.7 382.8,94.7 383.2,94.7 383.6,94.6 384,94.6 384.4,94.6 384.8,94.5 385.2,94.5 385.6,94.5 386,94.4 386.4,94.6 386.8,94.9 387.2,95 387.6,95.1 388,95.2 388.4,95.3 388.8,95.3 389.2,95.3 389.6,95.3 390,95.3 390,95.3" fill="#a9a9a9"/>
<polyline points="358,95.1 368,95.1 368.3,95.1 368.6,95.1 369,95.1 369.4,95.1 369.8,95.1 370.3,95.1 370.8,95 371.4,95 371.9,95 372.5,95 373.1,95 373.7,95 374.2,94.9 374.8,94.9 375.4,94.9 376,94.9 376.5,94.9 377,94.9 377.5,94.8 378,94.8 378.6,94.8 379.1,94.8 379.7,94.8 380.2,94.8 380.8,94.7 381.3,94.7 381.9,94.7 382.4,94.7 382.9,94.7 383.4,94.6 383.9,94.6 384.3,94.6 384.8,94.6 385.2,94.5 385.6,94.5 386,94.4 386.7,94.3 387.3,94.1 387.8,93.9 388.3,93.7 388.7,93.5 389.1,93.3 389.5,93.1 390,92.9 390.5,92.7 391.1,92.6 391.6,92.5 392.1,92.3 392.6,92.2 393.1,92 393.6,91.7 394.1,91.4 394.6,91 395.2,90.6 395.7,90.2 396.2,89.7 396.7,89.2 397.2,88.7 397.8,88.1 398.5,87.5 399.1,86.8 399.6,86.1 400.1,85.2 400.8,83.1 401.3,80.7 401.9,78.6 402.5,77.1 403.1,75.9 403.7,74.4 404.3,72.5 404.9,70.2 405.5,67.9 406.1,66 406.7,64.1 407.3,62.1 407.9,60.1 408.5,58.1 409.1,56 409.6,53.9 410.2,51.8 410.8,49.6 411.4,47.3 412,45.2 412.6,43.4 413.2,42.2 413.8,41.3 414.4,40.6 415,39.9 415.7,38.6 416.3,37.5 416.8,36.9 417.4,37.6 418,39.3 418.5,41.8 419.1,44 419.8,44.6 420.4,44.6 420.6,44.5 420.9,45.2 421.4,47.4 422,50.5 422.7,53.6 423.2,55.4 423.7,57.3 424.3,59.1 424.8,60.9 425.3,62.5 426,64.6 426.6,66.3 427.2,68.5 427.8,74.1 428.4,79.2 429,80.1 429.6,79.9 430.2,80.4 430.8,82.5 431.3,85.4 432,87.9 432.4,88.9 432.9,89.8 433.4,90.7 434,91.5 434.5,92.2 435.1,92.8 435.6,93.3 436.1,93.7 436.6,94 437.1,94.3 437.7,94.6 438.2,94.8 438.8,95 439.1,95.1 439.1,95.2 439,95.2 438.9,95.2 439.1,95.2 439.8,95.1 441,95.1 443,95.1 443.3,95.1 443.6,95.1 443.9,95.1 444.3,95.1 444.6,95.1 445,95.1 445.4,95.1 445.8,95.1 446.2,95.1 446.7,95.1 447.1,95.1 447.6,95.1 448.1,95.1 448.6,95.1 449.1,95.1 449.6,95.1 450.1,95.1 450.7,95.1 451.2,95.1 451.8,95.1 452.3,95.1 452.9,95.1 453.5,95.1 454.1,95.1 454.7,95.1 455.3,95.2 455.9,95.2 456.5,95.2 457.1,95.2 457.7,95.2 458.3,95.2 458.9,95.2 459.5,95.2 460.1,95.2 460.8,95.2 461.4,95.2 462,95.2 462.6,95.2 463.2,95.2 463.8,95.2 464.4,95.2 465,95.2 465.6,95.2 466.2,95.2 466.8,95.2 467.4,95.2 468,95.2 468.5,95.2 469.1,95.2 469.7,95.2 470.2,95.2 470.7,95.2 471.2,95.2 471.8,95.2 472.3,95.2 472.7,95.2 473.2,95.2 473.7,95.2 474.1,95.2 474.6,95.2 475,95.2 475.4,95.2 475.8,95.2 476.2,95.2 476.5,95.2 476.8,95.2 477.2,95.2 477.5,95.2 477.7,95.2 478,95.2 477.8,95.2" fill="none" stroke="#161616" stroke-width="1.35" stroke-linejoin="round"/>
</g>
<rect x="426.80" y="32.40" width="51.00" height="27.10" fill="white" stroke="none"/>
<polygon points="431.3,59.5 431.3,59.5 431.5,58.3 431.8,56.5 432.2,54.5 432.5,52.2 432.8,49.8 433.2,44.2 433.5,38.2 433.9,35.2 434.3,37.7 434.6,43.3 435,48.6 435.3,51.7 435.7,54.9 436.1,57.6 436.3,59.5 436.3,59.5" fill="#b3b3b3"/>
<polyline points="427.3,59.5 451.8,59.5 452,59.5 452.3,59.5 452.6,59.5 452.9,59.5 453.3,59.4 453.6,59.2 453.9,59.1 454.3,58.9 454.6,58.6 455,58 455.3,57.1 455.6,55.7 456,54.1 456.3,52.1 456.6,50.1 457,48.1 457.3,46.1 457.6,44.4 457.9,42.4 458.2,40.3 458.5,38.4 458.9,36.7 459.2,35.6 459.5,35.2 459.8,35.6 460.2,36.7 460.5,38.4 460.8,40.3 461.2,42.4 461.5,44.4 461.8,46.1 462.2,48 462.5,49.9 462.9,51.9 463.2,53.7 463.5,55.3 463.8,56.6 464.1,57.7 464.4,58.3 464.7,58.7 465,59 465.3,59.3 465.6,59.5 466,59.5 466.3,59.5 466.6,59.5 466.8,59.5 477.3,59.5" fill="none" stroke="#3a3a3a" stroke-width="1"/>
<line x1="426.80" y1="32.40" x2="426.80" y2="59.50" stroke="#8f8f8f" stroke-width="0.8" />
<line x1="426.80" y1="59.50" x2="477.80" y2="59.50" stroke="#aaaaaa" stroke-width="0.9" />
<line x1="425.60" y1="41.27" x2="426.80" y2="41.27" stroke="#aaa" stroke-width="0.5" />
<line x1="425.60" y1="47.35" x2="426.80" y2="47.35" stroke="#aaa" stroke-width="0.5" />
<line x1="425.60" y1="53.42" x2="426.80" y2="53.42" stroke="#aaa" stroke-width="0.5" />
<line x1="425.60" y1="59.50" x2="426.80" y2="59.50" stroke="#aaa" stroke-width="0.5" />
<line x1="477.80" y1="32.40" x2="477.80" y2="95.30" stroke="#b8b8b8" stroke-width="1" />
<line x1="358.00" y1="32.40" x2="478.20" y2="32.40" stroke="#5a5a5a" stroke-width="1.35" />
<line x1="358.00" y1="31.80" x2="358.00" y2="95.80" stroke="#858585" stroke-width="1" />
<line x1="357.50" y1="95.30" x2="478.30" y2="95.30" stroke="#555" stroke-width="0.9" />
<line x1="35.30" y1="246.80" x2="38.10" y2="246.80" stroke="#777" stroke-width="0.8" />
<text x="30.30" y="250.40" font-size="10" text-anchor="end" font-weight="normal" fill="#000" >0</text>
<line x1="35.30" y1="234.58" x2="38.10" y2="234.58" stroke="#777" stroke-width="0.8" />
<text x="30.30" y="238.18" font-size="10" text-anchor="end" font-weight="normal" fill="#000" >20</text>
<line x1="35.30" y1="222.36" x2="38.10" y2="222.36" stroke="#777" stroke-width="0.8" />
<text x="30.30" y="225.96" font-size="10" text-anchor="end" font-weight="normal" fill="#000" >40</text>
<line x1="35.30" y1="210.14" x2="38.10" y2="210.14" stroke="#777" stroke-width="0.8" />
<text x="30.30" y="213.74" font-size="10" text-anchor="end" font-weight="normal" fill="#000" >60</text>
<line x1="35.30" y1="197.92" x2="38.10" y2="197.92" stroke="#777" stroke-width="0.8" />
<text x="30.30" y="201.52" font-size="10" text-anchor="end" font-weight="normal" fill="#000" >80</text>
<line x1="35.30" y1="185.70" x2="38.10" y2="185.70" stroke="#777" stroke-width="0.8" />
<text x="30.30" y="189.30" font-size="10" text-anchor="end" font-weight="normal" fill="#000" >100</text>
<line x1="36.60" y1="243.75" x2="38.10" y2="243.75" stroke="#999" stroke-width="0.6" />
<line x1="36.60" y1="240.69" x2="38.10" y2="240.69" stroke="#999" stroke-width="0.6" />
<line x1="36.60" y1="237.64" x2="38.10" y2="237.64" stroke="#999" stroke-width="0.6" />
<line x1="36.60" y1="231.53" x2="38.10" y2="231.53" stroke="#999" stroke-width="0.6" />
<line x1="36.60" y1="228.47" x2="38.10" y2="228.47" stroke="#999" stroke-width="0.6" />
<line x1="36.60" y1="225.42" x2="38.10" y2="225.42" stroke="#999" stroke-width="0.6" />
<line x1="36.60" y1="219.31" x2="38.10" y2="219.31" stroke="#999" stroke-width="0.6" />
<line x1="36.60" y1="216.25" x2="38.10" y2="216.25" stroke="#999" stroke-width="0.6" />
<line x1="36.60" y1="213.20" x2="38.10" y2="213.20" stroke="#999" stroke-width="0.6" />
<line x1="36.60" y1="207.09" x2="38.10" y2="207.09" stroke="#999" stroke-width="0.6" />
<line x1="36.60" y1="204.03" x2="38.10" y2="204.03" stroke="#999" stroke-width="0.6" />
<line x1="36.60" y1="200.98" x2="38.10" y2="200.98" stroke="#999" stroke-width="0.6" />
<line x1="36.60" y1="194.87" x2="38.10" y2="194.87" stroke="#999" stroke-width="0.6" />
<line x1="36.60" y1="191.81" x2="38.10" y2="191.81" stroke="#999" stroke-width="0.6" />
<line x1="36.60" y1="188.76" x2="38.10" y2="188.76" stroke="#999" stroke-width="0.6" />
<line x1="50.60" y1="246.80" x2="50.60" y2="249.00" stroke="#666" stroke-width="0.8" />
<line x1="62.60" y1="246.80" x2="62.60" y2="249.00" stroke="#666" stroke-width="0.8" />
<line x1="90.60" y1="246.80" x2="90.60" y2="249.00" stroke="#666" stroke-width="0.8" />
<line x1="118.60" y1="246.80" x2="118.60" y2="249.00" stroke="#666" stroke-width="0.8" />
<line x1="144.30" y1="246.80" x2="144.30" y2="249.00" stroke="#666" stroke-width="0.8" />
<line x1="71.03" y1="246.80" x2="71.03" y2="248.30" stroke="#666" stroke-width="0.6" />
<line x1="75.96" y1="246.80" x2="75.96" y2="248.30" stroke="#666" stroke-width="0.6" />
<line x1="79.46" y1="246.80" x2="79.46" y2="248.30" stroke="#666" stroke-width="0.6" />
<line x1="82.17" y1="246.80" x2="82.17" y2="248.30" stroke="#666" stroke-width="0.6" />
<line x1="84.39" y1="246.80" x2="84.39" y2="248.30" stroke="#666" stroke-width="0.6" />
<line x1="86.26" y1="246.80" x2="86.26" y2="248.30" stroke="#666" stroke-width="0.6" />
<line x1="87.89" y1="246.80" x2="87.89" y2="248.30" stroke="#666" stroke-width="0.6" />
<line x1="89.32" y1="246.80" x2="89.32" y2="248.30" stroke="#666" stroke-width="0.6" />
<line x1="99.03" y1="246.80" x2="99.03" y2="248.30" stroke="#666" stroke-width="0.6" />
<line x1="103.96" y1="246.80" x2="103.96" y2="248.30" stroke="#666" stroke-width="0.6" />
<line x1="107.46" y1="246.80" x2="107.46" y2="248.30" stroke="#666" stroke-width="0.6" />
<line x1="110.17" y1="246.80" x2="110.17" y2="248.30" stroke="#666" stroke-width="0.6" />
<line x1="112.39" y1="246.80" x2="112.39" y2="248.30" stroke="#666" stroke-width="0.6" />
<line x1="114.26" y1="246.80" x2="114.26" y2="248.30" stroke="#666" stroke-width="0.6" />
<line x1="115.89" y1="246.80" x2="115.89" y2="248.30" stroke="#666" stroke-width="0.6" />
<line x1="117.32" y1="246.80" x2="117.32" y2="248.30" stroke="#666" stroke-width="0.6" />
<line x1="127.03" y1="246.80" x2="127.03" y2="248.30" stroke="#666" stroke-width="0.6" />
<line x1="131.96" y1="246.80" x2="131.96" y2="248.30" stroke="#666" stroke-width="0.6" />
<line x1="135.46" y1="246.80" x2="135.46" y2="248.30" stroke="#666" stroke-width="0.6" />
<line x1="138.17" y1="246.80" x2="138.17" y2="248.30" stroke="#666" stroke-width="0.6" />
<line x1="140.39" y1="246.80" x2="140.39" y2="248.30" stroke="#666" stroke-width="0.6" />
<line x1="142.26" y1="246.80" x2="142.26" y2="248.30" stroke="#666" stroke-width="0.6" />
<line x1="143.89" y1="246.80" x2="143.89" y2="248.30" stroke="#666" stroke-width="0.6" />
<line x1="145.32" y1="246.80" x2="145.32" y2="248.30" stroke="#666" stroke-width="0.6" />
<line x1="41.10" y1="246.80" x2="41.10" y2="248.30" stroke="#666" stroke-width="0.6" />
<line x1="44.10" y1="246.80" x2="44.10" y2="248.30" stroke="#666" stroke-width="0.6" />
<line x1="47.10" y1="246.80" x2="47.10" y2="248.30" stroke="#666" stroke-width="0.6" />
<line x1="54.10" y1="246.80" x2="54.10" y2="248.30" stroke="#666" stroke-width="0.6" />
<line x1="58.10" y1="246.80" x2="58.10" y2="248.30" stroke="#666" stroke-width="0.6" />
<text x="50.70" y="261.70" font-size="10" text-anchor="middle" font-weight="normal" fill="#000" >0</text>
<text x="57.20" y="261.70" font-size="10" fill="#000">10<tspan font-size="6.6" dy="-3.6">2</tspan></text>
<text x="85.20" y="261.70" font-size="10" fill="#000">10<tspan font-size="6.6" dy="-3.6">3</tspan></text>
<text x="113.20" y="261.70" font-size="10" fill="#000">10<tspan font-size="6.6" dy="-3.6">4</tspan></text>
<text x="138.90" y="261.70" font-size="10" fill="#000">10<tspan font-size="6.6" dy="-3.6">5</tspan></text>
<clipPath id="cb0"><rect x="38.1" y="182.4" width="120.1" height="64.4"/></clipPath>
<g clip-path="url(#cb0)">
<polygon points="46.1,246.8 46.1,246.8 46.5,246.8 47,246.8 47.6,246.5 48.1,245.3 48.7,243.5 49.2,240.7 49.9,233.5 50.6,225.4 51.2,218.5 51.7,212 52.3,205.4 52.9,199.1 53.5,193.3 54.1,188.8 54.5,187.1 54.8,186.9 55.2,187.3 55.6,188.8 56.1,191.3 56.7,195.5 57.3,202.8 57.9,210.1 58.4,213.3 58.9,216.2 59.2,222.1 59.6,228.5 60.1,234.4 60.6,239.5 61.1,242.5 61.6,244.4 62,245.3 62.5,246 63.1,246.5 63.6,246.7 64.2,246.8 64.7,246.8 65.1,246.8 65.1,246.8" fill="#c2c2c2"/>
<polygon points="46.1,246.8 46.1,246.8 46.5,246.8 46.9,246.8 47.3,246.7 47.7,246.3 48.1,245.4 48.5,244.1 48.9,242.4 49.3,239.7 49.7,235.9 50.1,231.7 50.5,226.7 50.9,221.7 51.3,216.9 51.7,212 52.1,207.5 52.5,203.2 52.9,199.1 53.3,195.4 53.7,192 54.1,188.8 54.5,187.1 54.9,187 55.3,187.7 55.7,189.2 56.1,191.2 56.5,194 56.9,197.9 57.3,202.8 57.7,207.7 58.1,211.3 58.5,213.8 58.9,216.2 59.3,223 59.7,229.7 60.1,234.6 60.5,238.5 60.9,241.4 61.3,243.3 61.7,244.6 62.1,245.4 62.5,246 62.9,246.3 63.3,246.6 63.7,246.7 64.1,246.8 64.5,246.8 64.9,246.8 64.9,246.8" fill="#a9a9a9"/>
<polyline points="38.1,246.8 43.1,246.8 43.4,246.8 43.9,246.8 44.5,246.8 45.1,246.8 45.7,246.8 46.3,246.8 46.9,246.8 47.3,246.5 48.1,245.3 48.7,243.5 49.2,240.7 50,233.5 50.6,225.4 51.2,218.5 51.7,212 52.3,205.4 52.9,199.1 53.5,193.3 54.1,188.8 54.5,186.8 54.8,186.3 55.2,186.3 55.6,187.5 56.1,190.1 56.7,194.3 57.3,201.8 57.9,208.9 58.6,210.7 59.2,212 59.5,216.7 59.8,222.4 60.2,228 60.7,233.4 61.1,237.5 61.7,240.7 62.2,242.3 62.8,243.4 63.6,244.4 64,244.8 64.4,245.2 64.9,245.5 65.4,245.7 66,246 66.7,246.2 66.9,246.3 66.7,246.3 66.2,246.4 65.7,246.4 65.2,246.5 64.8,246.5 64.7,246.5 65,246.5 65.9,246.6 67.4,246.6 69.8,246.6 73.1,246.6 73.4,246.6 73.7,246.6 73.9,246.6 74.2,246.6 74.5,246.6 74.9,246.6 75.2,246.6 75.5,246.6 75.8,246.6 76.2,246.6 76.5,246.6 76.9,246.6 77.3,246.6 77.6,246.6 78,246.6 78.4,246.6 78.8,246.6 79.2,246.6 79.6,246.6 80,246.7 80.4,246.7 80.9,246.7 81.3,246.7 81.7,246.7 82.2,246.7 82.6,246.7 83.1,246.7 83.5,246.7 84,246.7 84.5,246.7 85,246.7 85.4,246.7 85.9,246.7 86.4,246.7 86.9,246.7 87.4,246.7 87.9,246.7 88.5,246.7 89,246.7 89.5,246.7 90,246.7 90.5,246.7 91.1,246.7 91.6,246.7 92.2,246.7 92.7,246.7 93.3,246.7 93.8,246.7 94.4,246.7 94.9,246.7 95.5,246.7 96.1,246.7 96.6,246.7 97.2,246.7 97.8,246.7 98.4,246.7 99,246.7 99.5,246.7 100.1,246.7 100.7,246.7 101.3,246.7 101.9,246.7 102.5,246.7 103.1,246.7 103.7,246.7 104.3,246.7 104.9,246.7 105.5,246.7 106.1,246.7 106.7,246.7 107.4,246.7 108,246.7 108.6,246.7 109.2,246.7 109.8,246.7 110.4,246.7 111,246.7 111.7,246.7 112.3,246.7 112.9,246.7 113.5,246.7 114.1,246.7 114.8,246.7 115.4,246.7 116,246.7 116.6,246.7 117.2,246.7 117.9,246.7 118.5,246.7 119.1,246.7 119.7,246.7 120.3,246.7 121,246.7 121.6,246.7 122.2,246.7 122.8,246.7 123.4,246.7 124,246.7 124.6,246.7 125.2,246.7 125.8,246.8 126.4,246.8 127.1,246.8 127.7,246.8 128.3,246.8 128.8,246.8 129.4,246.8 130,246.8 130.6,246.8 131.2,246.8 131.8,246.8 132.4,246.8 133,246.8 133.5,246.8 134.1,246.8 134.7,246.8 135.2,246.8 135.8,246.8 136.4,246.8 136.9,246.8 137.5,246.8 138,246.8 138.6,246.8 139.1,246.8 139.7,246.8 140.2,246.8 140.7,246.8 141.2,246.8 141.8,246.8 142.3,246.8 142.8,246.8 143.3,246.8 143.8,246.8 144.3,246.8 144.8,246.8 145.3,246.8 145.8,246.8 146.2,246.8 146.7,246.8 147.2,246.8 147.6,246.8 148.1,246.8 148.5,246.8 149,246.8 149.4,246.8 149.9,246.8 150.3,246.8 150.7,246.8 151.1,246.8 151.5,246.8 151.9,246.8 152.3,246.8 152.7,246.8 153.1,246.8 153.4,246.8 153.8,246.8 154.2,246.8 154.5,246.8 154.9,246.8 155.2,246.8 155.5,246.8 155.8,246.8 156.1,246.8 156.4,246.8 156.7,246.8 157,246.8 157.3,246.8 157.6,246.8 157.8,246.8 158.1,246.8 158.2,246.8" fill="none" stroke="#161616" stroke-width="1.35" stroke-linejoin="round"/>
</g>
<rect x="106.40" y="182.40" width="51.80" height="28.70" fill="white" stroke="none"/>
<polygon points="109.4,211.1 109.4,211.1 109.6,211.1 109.9,211.1 110.3,211.1 110.6,210.6 110.9,209.5 111.2,207.8 111.6,204.6 111.9,201 112.2,196.1 112.5,191.1 112.9,187.1 113.2,185.2 113.5,186.2 113.8,189.3 114.1,193.4 114.4,197.6 114.7,200.7 115.1,203.9 115.5,206.2 115.9,208 116.2,209 116.6,209.7 116.9,210.2 117.2,210.6 117.6,210.9 118,211 118.2,211.1 118.2,211.1" fill="#bababa"/>
<polygon points="109.4,211.1 109.4,211.1 109.8,211.1 110.2,211.1 110.6,210.6 111,209.1 111.4,206.3 111.8,202.1 112.2,196.2 112.6,190.4 113,186.4 113.4,185.8 113.8,189.1 114.2,194.5 114.6,199.6 115,203 115.4,205.6 115.8,207.5 116.2,208.9 116.6,209.8 117,210.3 117.4,210.8 117.8,211 117.8,211.1" fill="#a0a0a0"/>
<polyline points="106.9,211.1 109.4,211.1 109.6,211.1 109.9,211.1 110.3,211.1 110.6,210.6 110.9,209.5 111.2,207.8 111.6,204.6 111.9,201 112.2,196.1 112.5,191.1 112.9,187.1 113.2,185.2 113.5,186.2 113.8,189.3 114.1,193.4 114.4,197.6 114.7,200.7 115.1,203.9 115.5,206.2 115.9,208 116.2,209 116.6,209.7 116.9,210.2 117.2,210.6 117.6,210.9 118,211 118.2,211.1 157.7,211.1" fill="none" stroke="#3a3a3a" stroke-width="1"/>
<line x1="106.40" y1="182.40" x2="106.40" y2="211.10" stroke="#8f8f8f" stroke-width="0.8" />
<line x1="106.40" y1="211.10" x2="158.20" y2="211.10" stroke="#aaaaaa" stroke-width="0.9" />
<line x1="105.20" y1="191.68" x2="106.40" y2="191.68" stroke="#aaa" stroke-width="0.5" />
<line x1="105.20" y1="198.15" x2="106.40" y2="198.15" stroke="#aaa" stroke-width="0.5" />
<line x1="105.20" y1="204.62" x2="106.40" y2="204.62" stroke="#aaa" stroke-width="0.5" />
<line x1="105.20" y1="211.10" x2="106.40" y2="211.10" stroke="#aaa" stroke-width="0.5" />
<line x1="158.20" y1="182.40" x2="158.20" y2="246.80" stroke="#b8b8b8" stroke-width="1" />
<line x1="38.10" y1="182.40" x2="158.60" y2="182.40" stroke="#5a5a5a" stroke-width="1.35" />
<line x1="38.10" y1="181.80" x2="38.10" y2="247.30" stroke="#858585" stroke-width="1" />
<line x1="37.60" y1="246.80" x2="158.70" y2="246.80" stroke="#555" stroke-width="0.9" />
<text x="8.10" y="214.90" font-size="10" text-anchor="middle" fill="#000" transform="rotate(-90 8.10 214.90)">% of max</text>
<line x1="35.30" y1="353.80" x2="38.10" y2="353.80" stroke="#777" stroke-width="0.8" />
<text x="30.30" y="357.40" font-size="10" text-anchor="end" font-weight="normal" fill="#000" >0</text>
<line x1="35.30" y1="341.52" x2="38.10" y2="341.52" stroke="#777" stroke-width="0.8" />
<text x="30.30" y="345.12" font-size="10" text-anchor="end" font-weight="normal" fill="#000" >20</text>
<line x1="35.30" y1="329.24" x2="38.10" y2="329.24" stroke="#777" stroke-width="0.8" />
<text x="30.30" y="332.84" font-size="10" text-anchor="end" font-weight="normal" fill="#000" >40</text>
<line x1="35.30" y1="316.96" x2="38.10" y2="316.96" stroke="#777" stroke-width="0.8" />
<text x="30.30" y="320.56" font-size="10" text-anchor="end" font-weight="normal" fill="#000" >60</text>
<line x1="35.30" y1="304.68" x2="38.10" y2="304.68" stroke="#777" stroke-width="0.8" />
<text x="30.30" y="308.28" font-size="10" text-anchor="end" font-weight="normal" fill="#000" >80</text>
<line x1="35.30" y1="292.40" x2="38.10" y2="292.40" stroke="#777" stroke-width="0.8" />
<text x="30.30" y="296.00" font-size="10" text-anchor="end" font-weight="normal" fill="#000" >100</text>
<line x1="36.60" y1="350.73" x2="38.10" y2="350.73" stroke="#999" stroke-width="0.6" />
<line x1="36.60" y1="347.66" x2="38.10" y2="347.66" stroke="#999" stroke-width="0.6" />
<line x1="36.60" y1="344.59" x2="38.10" y2="344.59" stroke="#999" stroke-width="0.6" />
<line x1="36.60" y1="338.45" x2="38.10" y2="338.45" stroke="#999" stroke-width="0.6" />
<line x1="36.60" y1="335.38" x2="38.10" y2="335.38" stroke="#999" stroke-width="0.6" />
<line x1="36.60" y1="332.31" x2="38.10" y2="332.31" stroke="#999" stroke-width="0.6" />
<line x1="36.60" y1="326.17" x2="38.10" y2="326.17" stroke="#999" stroke-width="0.6" />
<line x1="36.60" y1="323.10" x2="38.10" y2="323.10" stroke="#999" stroke-width="0.6" />
<line x1="36.60" y1="320.03" x2="38.10" y2="320.03" stroke="#999" stroke-width="0.6" />
<line x1="36.60" y1="313.89" x2="38.10" y2="313.89" stroke="#999" stroke-width="0.6" />
<line x1="36.60" y1="310.82" x2="38.10" y2="310.82" stroke="#999" stroke-width="0.6" />
<line x1="36.60" y1="307.75" x2="38.10" y2="307.75" stroke="#999" stroke-width="0.6" />
<line x1="36.60" y1="301.61" x2="38.10" y2="301.61" stroke="#999" stroke-width="0.6" />
<line x1="36.60" y1="298.54" x2="38.10" y2="298.54" stroke="#999" stroke-width="0.6" />
<line x1="36.60" y1="295.47" x2="38.10" y2="295.47" stroke="#999" stroke-width="0.6" />
<line x1="50.60" y1="353.80" x2="50.60" y2="356.00" stroke="#666" stroke-width="0.8" />
<line x1="62.60" y1="353.80" x2="62.60" y2="356.00" stroke="#666" stroke-width="0.8" />
<line x1="90.60" y1="353.80" x2="90.60" y2="356.00" stroke="#666" stroke-width="0.8" />
<line x1="118.60" y1="353.80" x2="118.60" y2="356.00" stroke="#666" stroke-width="0.8" />
<line x1="144.30" y1="353.80" x2="144.30" y2="356.00" stroke="#666" stroke-width="0.8" />
<line x1="71.03" y1="353.80" x2="71.03" y2="355.30" stroke="#666" stroke-width="0.6" />
<line x1="75.96" y1="353.80" x2="75.96" y2="355.30" stroke="#666" stroke-width="0.6" />
<line x1="79.46" y1="353.80" x2="79.46" y2="355.30" stroke="#666" stroke-width="0.6" />
<line x1="82.17" y1="353.80" x2="82.17" y2="355.30" stroke="#666" stroke-width="0.6" />
<line x1="84.39" y1="353.80" x2="84.39" y2="355.30" stroke="#666" stroke-width="0.6" />
<line x1="86.26" y1="353.80" x2="86.26" y2="355.30" stroke="#666" stroke-width="0.6" />
<line x1="87.89" y1="353.80" x2="87.89" y2="355.30" stroke="#666" stroke-width="0.6" />
<line x1="89.32" y1="353.80" x2="89.32" y2="355.30" stroke="#666" stroke-width="0.6" />
<line x1="99.03" y1="353.80" x2="99.03" y2="355.30" stroke="#666" stroke-width="0.6" />
<line x1="103.96" y1="353.80" x2="103.96" y2="355.30" stroke="#666" stroke-width="0.6" />
<line x1="107.46" y1="353.80" x2="107.46" y2="355.30" stroke="#666" stroke-width="0.6" />
<line x1="110.17" y1="353.80" x2="110.17" y2="355.30" stroke="#666" stroke-width="0.6" />
<line x1="112.39" y1="353.80" x2="112.39" y2="355.30" stroke="#666" stroke-width="0.6" />
<line x1="114.26" y1="353.80" x2="114.26" y2="355.30" stroke="#666" stroke-width="0.6" />
<line x1="115.89" y1="353.80" x2="115.89" y2="355.30" stroke="#666" stroke-width="0.6" />
<line x1="117.32" y1="353.80" x2="117.32" y2="355.30" stroke="#666" stroke-width="0.6" />
<line x1="127.03" y1="353.80" x2="127.03" y2="355.30" stroke="#666" stroke-width="0.6" />
<line x1="131.96" y1="353.80" x2="131.96" y2="355.30" stroke="#666" stroke-width="0.6" />
<line x1="135.46" y1="353.80" x2="135.46" y2="355.30" stroke="#666" stroke-width="0.6" />
<line x1="138.17" y1="353.80" x2="138.17" y2="355.30" stroke="#666" stroke-width="0.6" />
<line x1="140.39" y1="353.80" x2="140.39" y2="355.30" stroke="#666" stroke-width="0.6" />
<line x1="142.26" y1="353.80" x2="142.26" y2="355.30" stroke="#666" stroke-width="0.6" />
<line x1="143.89" y1="353.80" x2="143.89" y2="355.30" stroke="#666" stroke-width="0.6" />
<line x1="145.32" y1="353.80" x2="145.32" y2="355.30" stroke="#666" stroke-width="0.6" />
<line x1="41.10" y1="353.80" x2="41.10" y2="355.30" stroke="#666" stroke-width="0.6" />
<line x1="44.10" y1="353.80" x2="44.10" y2="355.30" stroke="#666" stroke-width="0.6" />
<line x1="47.10" y1="353.80" x2="47.10" y2="355.30" stroke="#666" stroke-width="0.6" />
<line x1="54.10" y1="353.80" x2="54.10" y2="355.30" stroke="#666" stroke-width="0.6" />
<line x1="58.10" y1="353.80" x2="58.10" y2="355.30" stroke="#666" stroke-width="0.6" />
<text x="50.70" y="368.70" font-size="10" text-anchor="middle" font-weight="normal" fill="#000" >0</text>
<text x="57.20" y="368.70" font-size="10" fill="#000">10<tspan font-size="6.6" dy="-3.6">2</tspan></text>
<text x="85.20" y="368.70" font-size="10" fill="#000">10<tspan font-size="6.6" dy="-3.6">3</tspan></text>
<text x="113.20" y="368.70" font-size="10" fill="#000">10<tspan font-size="6.6" dy="-3.6">4</tspan></text>
<text x="138.90" y="368.70" font-size="10" fill="#000">10<tspan font-size="6.6" dy="-3.6">5</tspan></text>
<clipPath id="cb1"><rect x="38.1" y="289.1" width="120.1" height="64.69999999999999"/></clipPath>
<g clip-path="url(#cb1)">
<polygon points="45.1,353.8 45.1,353.8 45.5,353.8 46.1,353.8 46.7,353.5 47.3,352.1 47.9,349.9 48.5,347 49.1,340.9 49.6,333.5 50.3,325.2 50.9,317 51.4,310.2 51.9,304.7 52.3,301.1 52.7,298.5 53.2,296.1 53.7,294.2 54.2,293.1 54.6,293 55,294.3 55.5,296.7 56,300.2 56.5,304.7 57.1,310.2 57.6,315.7 58,319.5 58.4,323.1 59,327.5 59.6,332.3 60.1,337.6 60.6,342.7 61.1,346.9 61.7,350.1 62.3,352.1 63.1,353.2 63.6,353.5 64.2,353.7 64.7,353.7 65.1,353.8 65.1,353.8" fill="#c2c2c2"/>
<polygon points="45.1,353.8 45.1,353.8 45.5,353.8 45.9,353.8 46.3,353.7 46.7,353.5 47.1,352.6 47.5,351.4 47.9,350.1 48.3,348.1 48.7,344.9 49.1,340.7 49.5,335 49.9,329.7 50.3,324.6 50.7,319.5 51.1,314.4 51.5,309.4 51.9,304.7 52.3,301.1 52.7,298.5 53.1,296.6 53.5,295 53.9,293.8 54.3,293.1 54.7,293.3 55.1,294.6 55.5,296.7 55.9,299.6 56.3,302.9 56.7,306.7 57.1,310.6 57.5,314.7 57.9,318.6 58.3,322.2 58.7,325.4 59.1,328.4 59.5,331.5 59.9,335.5 60.3,339.6 60.7,343.5 61.1,346.7 61.5,349 61.9,350.7 62.3,351.9 62.7,352.6 63.1,353.2 63.5,353.5 63.9,353.6 64.3,353.7 64.7,353.7 65.1,353.8 65.1,353.8" fill="#a9a9a9"/>
<polyline points="38.1,353.8 43.1,353.8 43.5,353.8 44,353.8 44.7,353.8 45.4,353.8 46,353.8 46.5,353.5 47.3,351.9 47.9,349.6 48.4,346.4 49,340 49.6,332.3 50.3,323.9 50.9,315.7 51.4,308.9 51.9,303.5 52.3,300.2 52.7,297.9 53.2,295.5 53.7,293.6 54.2,292.6 54.6,292.4 55,293.4 55.5,295.5 56,298.5 56.5,302.2 57.1,306.6 57.6,310.8 58,313.2 58.4,315.7 59,320.5 59.6,326.2 60.2,332.7 60.9,339.1 61.5,343.9 62.2,347.7 62.6,348.7 63.1,349.6 63.6,350.2 64.1,350.8 64.7,351.3 65.1,351.7 65.5,352 65.9,352.3 66.3,352.6 66.9,352.8 67.5,353 68.4,353.2 68.8,353.2 69.1,353.3 69.5,353.3 69.9,353.4 70.3,353.4 70.7,353.4 71.1,353.5 71.5,353.5 72,353.5 72.5,353.5 73,353.5 73.5,353.6 74.1,353.6 74.7,353.6 75.3,353.6 75.9,353.6 76.6,353.6 77.3,353.6 78.1,353.6 78.5,353.6 78.9,353.6 79.3,353.6 79.7,353.6 80.2,353.6 80.6,353.6 81.1,353.6 81.6,353.6 82.1,353.6 82.6,353.6 83.1,353.6 83.7,353.6 84.2,353.6 84.7,353.6 85.3,353.6 85.8,353.6 86.4,353.6 87,353.6 87.5,353.6 88.1,353.6 88.6,353.6 89.2,353.6 89.8,353.6 90.3,353.6 90.9,353.6 91.4,353.6 92,353.6 92.5,353.6 93,353.5 93.6,353.5 94.1,353.5 94.6,353.5 95.1,353.5 95.5,353.5 96,353.5 96.5,353.5 96.9,353.5 97.3,353.5 97.7,353.5 98.1,353.5 98.8,353.5 99.5,353.5 100.1,353.5 100.7,353.5 101.3,353.4 101.8,353.4 102.3,353.4 102.8,353.4 103.3,353.4 103.7,353.4 104.2,353.4 104.6,353.4 105,353.3 105.4,353.3 105.8,353.3 106.3,353.3 106.7,353.3 107.1,353.3 107.6,353.3 108.1,353.3 108.6,353.3 109,353.3 109.3,353.3 109.6,353.3 109.9,353.4 110.2,353.4 110.4,353.4 110.7,353.4 110.9,353.4 111.2,353.4 111.6,353.5 111.9,353.5 112.4,353.5 112.9,353.5 113.5,353.5 114.2,353.6 115,353.6 115.9,353.6 116.9,353.6 118.1,353.6 118.4,353.6 118.8,353.6 119.1,353.6 119.5,353.6 119.8,353.6 120.2,353.6 120.6,353.6 121.1,353.6 121.5,353.6 121.9,353.6 122.4,353.6 122.9,353.7 123.3,353.7 123.8,353.7 124.3,353.7 124.8,353.7 125.3,353.7 125.9,353.7 126.4,353.7 126.9,353.7 127.5,353.7 128,353.7 128.6,353.7 129.2,353.7 129.7,353.7 130.3,353.7 130.9,353.7 131.5,353.7 132.1,353.7 132.7,353.7 133.3,353.7 133.9,353.7 134.5,353.7 135.1,353.7 135.7,353.7 136.3,353.7 136.9,353.7 137.5,353.7 138.1,353.7 138.7,353.7 139.3,353.7 139.9,353.7 140.5,353.7 141.2,353.7 141.8,353.7 142.4,353.7 142.9,353.7 143.5,353.7 144.1,353.7 144.7,353.7 145.3,353.8 145.9,353.8 146.4,353.8 147,353.8 147.5,353.8 148.1,353.8 148.6,353.8 149.2,353.8 149.7,353.8 150.2,353.8 150.7,353.8 151.2,353.8 151.7,353.8 152.2,353.8 152.6,353.8 153.1,353.8 153.5,353.8 154,353.8 154.4,353.8 154.8,353.8 155.2,353.8 155.6,353.8 156,353.8 156.3,353.8 156.6,353.8 157,353.8 157.3,353.8 157.6,353.8 157.8,353.8 158.1,353.8 158.2,353.8" fill="none" stroke="#161616" stroke-width="1.35" stroke-linejoin="round"/>
</g>
<rect x="106.50" y="289.10" width="51.70" height="27.70" fill="white" stroke="none"/>
<polygon points="109.5,316.8 109.5,316.8 109.7,316.8 110,316.8 110.4,316.8 110.7,316.3 111,315.3 111.3,313.6 111.7,310.6 112,307.1 112.3,302.4 112.6,297.6 113,293.7 113.3,291.9 113.6,292.9 113.9,295.8 114.2,299.8 114.5,303.8 114.8,306.8 115.2,309.9 115.6,312.1 116,313.8 116.3,314.8 116.7,315.5 117,315.9 117.3,316.3 117.7,316.6 118.1,316.7 118.3,316.8 118.3,316.8" fill="#bababa"/>
<polygon points="109.5,316.8 109.5,316.8 109.9,316.8 110.3,316.8 110.7,316.3 111.1,314.9 111.5,312.2 111.9,308.1 112.3,302.4 112.7,296.9 113.1,293 113.5,292.5 113.9,295.6 114.3,300.8 114.7,305.8 115.1,309 115.5,311.5 115.9,313.4 116.3,314.7 116.7,315.5 117.1,316.1 117.5,316.5 117.9,316.7 117.9,316.8" fill="#a0a0a0"/>
<polyline points="107,316.8 109.5,316.8 109.7,316.8 110,316.8 110.4,316.8 110.7,316.3 111,315.3 111.3,313.6 111.7,310.6 112,307.1 112.3,302.4 112.6,297.6 113,293.7 113.3,291.9 113.6,292.9 113.9,295.8 114.2,299.8 114.5,303.8 114.8,306.8 115.2,309.9 115.6,312.1 116,313.8 116.3,314.8 116.7,315.5 117,315.9 117.3,316.3 117.7,316.6 118.1,316.7 118.3,316.8 157.7,316.8" fill="none" stroke="#3a3a3a" stroke-width="1"/>
<line x1="106.50" y1="289.10" x2="106.50" y2="316.80" stroke="#8f8f8f" stroke-width="0.8" />
<line x1="106.50" y1="316.80" x2="158.20" y2="316.80" stroke="#aaaaaa" stroke-width="0.9" />
<line x1="105.30" y1="298.13" x2="106.50" y2="298.13" stroke="#aaa" stroke-width="0.5" />
<line x1="105.30" y1="304.35" x2="106.50" y2="304.35" stroke="#aaa" stroke-width="0.5" />
<line x1="105.30" y1="310.58" x2="106.50" y2="310.58" stroke="#aaa" stroke-width="0.5" />
<line x1="105.30" y1="316.80" x2="106.50" y2="316.80" stroke="#aaa" stroke-width="0.5" />
<line x1="158.20" y1="289.10" x2="158.20" y2="353.80" stroke="#b8b8b8" stroke-width="1" />
<line x1="38.10" y1="289.10" x2="158.60" y2="289.10" stroke="#5a5a5a" stroke-width="1.35" />
<line x1="38.10" y1="288.50" x2="38.10" y2="354.30" stroke="#858585" stroke-width="1" />
<line x1="37.60" y1="353.80" x2="158.70" y2="353.80" stroke="#555" stroke-width="0.9" />
<text x="8.10" y="321.75" font-size="10" text-anchor="middle" fill="#000" transform="rotate(-90 8.10 321.75)">% of max</text>
<line x1="35.30" y1="459.80" x2="38.10" y2="459.80" stroke="#777" stroke-width="0.8" />
<text x="30.30" y="463.40" font-size="10" text-anchor="end" font-weight="normal" fill="#000" >0</text>
<line x1="35.30" y1="447.96" x2="38.10" y2="447.96" stroke="#777" stroke-width="0.8" />
<text x="30.30" y="451.56" font-size="10" text-anchor="end" font-weight="normal" fill="#000" >20</text>
<line x1="35.30" y1="436.12" x2="38.10" y2="436.12" stroke="#777" stroke-width="0.8" />
<text x="30.30" y="439.72" font-size="10" text-anchor="end" font-weight="normal" fill="#000" >40</text>
<line x1="35.30" y1="424.28" x2="38.10" y2="424.28" stroke="#777" stroke-width="0.8" />
<text x="30.30" y="427.88" font-size="10" text-anchor="end" font-weight="normal" fill="#000" >60</text>
<line x1="35.30" y1="412.44" x2="38.10" y2="412.44" stroke="#777" stroke-width="0.8" />
<text x="30.30" y="416.04" font-size="10" text-anchor="end" font-weight="normal" fill="#000" >80</text>
<line x1="35.30" y1="400.60" x2="38.10" y2="400.60" stroke="#777" stroke-width="0.8" />
<text x="30.30" y="404.20" font-size="10" text-anchor="end" font-weight="normal" fill="#000" >100</text>
<line x1="36.60" y1="456.84" x2="38.10" y2="456.84" stroke="#999" stroke-width="0.6" />
<line x1="36.60" y1="453.88" x2="38.10" y2="453.88" stroke="#999" stroke-width="0.6" />
<line x1="36.60" y1="450.92" x2="38.10" y2="450.92" stroke="#999" stroke-width="0.6" />
<line x1="36.60" y1="445.00" x2="38.10" y2="445.00" stroke="#999" stroke-width="0.6" />
<line x1="36.60" y1="442.04" x2="38.10" y2="442.04" stroke="#999" stroke-width="0.6" />
<line x1="36.60" y1="439.08" x2="38.10" y2="439.08" stroke="#999" stroke-width="0.6" />
<line x1="36.60" y1="433.16" x2="38.10" y2="433.16" stroke="#999" stroke-width="0.6" />
<line x1="36.60" y1="430.20" x2="38.10" y2="430.20" stroke="#999" stroke-width="0.6" />
<line x1="36.60" y1="427.24" x2="38.10" y2="427.24" stroke="#999" stroke-width="0.6" />
<line x1="36.60" y1="421.32" x2="38.10" y2="421.32" stroke="#999" stroke-width="0.6" />
<line x1="36.60" y1="418.36" x2="38.10" y2="418.36" stroke="#999" stroke-width="0.6" />
<line x1="36.60" y1="415.40" x2="38.10" y2="415.40" stroke="#999" stroke-width="0.6" />
<line x1="36.60" y1="409.48" x2="38.10" y2="409.48" stroke="#999" stroke-width="0.6" />
<line x1="36.60" y1="406.52" x2="38.10" y2="406.52" stroke="#999" stroke-width="0.6" />
<line x1="36.60" y1="403.56" x2="38.10" y2="403.56" stroke="#999" stroke-width="0.6" />
<line x1="50.60" y1="459.80" x2="50.60" y2="462.00" stroke="#666" stroke-width="0.8" />
<line x1="62.60" y1="459.80" x2="62.60" y2="462.00" stroke="#666" stroke-width="0.8" />
<line x1="90.60" y1="459.80" x2="90.60" y2="462.00" stroke="#666" stroke-width="0.8" />
<line x1="118.60" y1="459.80" x2="118.60" y2="462.00" stroke="#666" stroke-width="0.8" />
<line x1="144.30" y1="459.80" x2="144.30" y2="462.00" stroke="#666" stroke-width="0.8" />
<line x1="71.03" y1="459.80" x2="71.03" y2="461.30" stroke="#666" stroke-width="0.6" />
<line x1="75.96" y1="459.80" x2="75.96" y2="461.30" stroke="#666" stroke-width="0.6" />
<line x1="79.46" y1="459.80" x2="79.46" y2="461.30" stroke="#666" stroke-width="0.6" />
<line x1="82.17" y1="459.80" x2="82.17" y2="461.30" stroke="#666" stroke-width="0.6" />
<line x1="84.39" y1="459.80" x2="84.39" y2="461.30" stroke="#666" stroke-width="0.6" />
<line x1="86.26" y1="459.80" x2="86.26" y2="461.30" stroke="#666" stroke-width="0.6" />
<line x1="87.89" y1="459.80" x2="87.89" y2="461.30" stroke="#666" stroke-width="0.6" />
<line x1="89.32" y1="459.80" x2="89.32" y2="461.30" stroke="#666" stroke-width="0.6" />
<line x1="99.03" y1="459.80" x2="99.03" y2="461.30" stroke="#666" stroke-width="0.6" />
<line x1="103.96" y1="459.80" x2="103.96" y2="461.30" stroke="#666" stroke-width="0.6" />
<line x1="107.46" y1="459.80" x2="107.46" y2="461.30" stroke="#666" stroke-width="0.6" />
<line x1="110.17" y1="459.80" x2="110.17" y2="461.30" stroke="#666" stroke-width="0.6" />
<line x1="112.39" y1="459.80" x2="112.39" y2="461.30" stroke="#666" stroke-width="0.6" />
<line x1="114.26" y1="459.80" x2="114.26" y2="461.30" stroke="#666" stroke-width="0.6" />
<line x1="115.89" y1="459.80" x2="115.89" y2="461.30" stroke="#666" stroke-width="0.6" />
<line x1="117.32" y1="459.80" x2="117.32" y2="461.30" stroke="#666" stroke-width="0.6" />
<line x1="127.03" y1="459.80" x2="127.03" y2="461.30" stroke="#666" stroke-width="0.6" />
<line x1="131.96" y1="459.80" x2="131.96" y2="461.30" stroke="#666" stroke-width="0.6" />
<line x1="135.46" y1="459.80" x2="135.46" y2="461.30" stroke="#666" stroke-width="0.6" />
<line x1="138.17" y1="459.80" x2="138.17" y2="461.30" stroke="#666" stroke-width="0.6" />
<line x1="140.39" y1="459.80" x2="140.39" y2="461.30" stroke="#666" stroke-width="0.6" />
<line x1="142.26" y1="459.80" x2="142.26" y2="461.30" stroke="#666" stroke-width="0.6" />
<line x1="143.89" y1="459.80" x2="143.89" y2="461.30" stroke="#666" stroke-width="0.6" />
<line x1="145.32" y1="459.80" x2="145.32" y2="461.30" stroke="#666" stroke-width="0.6" />
<line x1="41.10" y1="459.80" x2="41.10" y2="461.30" stroke="#666" stroke-width="0.6" />
<line x1="44.10" y1="459.80" x2="44.10" y2="461.30" stroke="#666" stroke-width="0.6" />
<line x1="47.10" y1="459.80" x2="47.10" y2="461.30" stroke="#666" stroke-width="0.6" />
<line x1="54.10" y1="459.80" x2="54.10" y2="461.30" stroke="#666" stroke-width="0.6" />
<line x1="58.10" y1="459.80" x2="58.10" y2="461.30" stroke="#666" stroke-width="0.6" />
<text x="50.70" y="474.70" font-size="10" text-anchor="middle" font-weight="normal" fill="#000" >0</text>
<text x="57.20" y="474.70" font-size="10" fill="#000">10<tspan font-size="6.6" dy="-3.6">2</tspan></text>
<text x="85.20" y="474.70" font-size="10" fill="#000">10<tspan font-size="6.6" dy="-3.6">3</tspan></text>
<text x="113.20" y="474.70" font-size="10" fill="#000">10<tspan font-size="6.6" dy="-3.6">4</tspan></text>
<text x="138.90" y="474.70" font-size="10" fill="#000">10<tspan font-size="6.6" dy="-3.6">5</tspan></text>
<clipPath id="cb2"><rect x="38.1" y="397.3" width="120.1" height="62.5"/></clipPath>
<g clip-path="url(#cb2)">
<polygon points="46.1,459.8 46.1,459.8 46.5,459.8 47,459.8 47.5,459.8 48.1,458.6 48.7,455.2 49.3,450.6 49.9,445 50.5,439.1 51,433.6 51.6,427.3 52.1,420.8 52.6,415 53,410.7 53.7,406 54.2,404.7 54.6,403.7 54.9,404.2 55.2,406.1 55.6,409.5 56,414.1 56.6,420.7 57.2,427.3 57.8,434.9 58.5,441.4 59.1,446.1 59.7,449.8 60.3,452.7 60.9,454.9 61.5,456.3 62.1,457.4 62.7,458.4 63.3,459 63.9,459.5 64.6,459.8 65.1,459.8 65.1,459.8" fill="#c2c2c2"/>
<polygon points="46.1,459.8 46.1,459.8 46.5,459.8 46.9,459.8 47.3,459.8 47.7,459.4 48.1,458.6 48.5,456.2 48.9,453.4 49.3,450.3 49.7,446.7 50.1,442.9 50.5,439.1 50.9,434.8 51.3,430.3 51.7,425.5 52.1,420.7 52.5,416 52.9,411.7 53.3,408.7 53.7,406 54.1,405 54.5,404 54.9,404.2 55.3,406.7 55.7,410.6 56.1,415 56.5,419.6 56.9,424.2 57.3,428.8 57.7,433.3 58.1,437.5 58.5,441.4 58.9,444.5 59.3,447.3 59.7,449.8 60.1,451.7 60.5,453.4 60.9,454.9 61.3,455.8 61.7,456.7 62.1,457.4 62.5,458 62.9,458.6 63.3,459 63.7,459.3 64.1,459.6 64.5,459.7 64.9,459.8 64.9,459.8" fill="#a9a9a9"/>
<polyline points="38.1,459.8 43.1,459.8 43.5,459.8 44,459.8 44.6,459.8 45.2,459.8 45.8,459.8 46.4,459.8 46.9,459.5 47.6,458.6 48.2,457.1 48.7,453.9 49.3,448.2 49.9,440.8 50.5,433.2 51.1,425.3 51.8,417.2 52.4,410.7 53,406.3 53.6,403.4 54.2,401.5 54.8,400.4 55.4,400.6 56,400.4 56.6,401.8 57.2,406.5 57.9,413 58.5,418.1 59.1,423.8 59.7,429 60.3,435.7 60.9,441.4 61.4,446.4 62.1,450.3 62.5,451.6 63,452.6 63.5,453.5 64,454.3 64.6,455.1 65.1,455.6 65.5,456.1 66,456.4 66.5,456.8 67.1,457.1 67.6,457.4 68.1,457.7 68.5,458 69,458.3 69.5,458.6 70,458.8 70.6,459 71.3,459.2 71.5,459.3 71.4,459.3 71.2,459.4 70.8,459.4 70.4,459.5 70,459.5 69.9,459.5 70,459.5 70.5,459.5 71.5,459.5 73,459.5 75.2,459.5 78.1,459.6 78.4,459.6 78.7,459.6 79,459.6 79.3,459.6 79.6,459.6 79.9,459.6 80.2,459.6 80.5,459.6 80.9,459.6 81.2,459.6 81.6,459.6 82,459.6 82.3,459.6 82.7,459.6 83.1,459.6 83.5,459.6 83.9,459.6 84.3,459.6 84.7,459.6 85.1,459.6 85.6,459.6 86,459.6 86.5,459.6 86.9,459.6 87.4,459.6 87.8,459.6 88.3,459.6 88.8,459.6 89.2,459.6 89.7,459.6 90.2,459.6 90.7,459.6 91.2,459.6 91.7,459.6 92.2,459.6 92.7,459.6 93.2,459.6 93.8,459.6 94.3,459.6 94.8,459.6 95.4,459.6 95.9,459.6 96.5,459.6 97,459.6 97.6,459.6 98.1,459.6 98.7,459.6 99.2,459.7 99.8,459.7 100.4,459.7 101,459.7 101.5,459.7 102.1,459.7 102.7,459.7 103.3,459.7 103.9,459.7 104.5,459.7 105.1,459.7 105.7,459.7 106.3,459.7 106.9,459.7 107.5,459.7 108.1,459.7 108.7,459.7 109.3,459.7 109.9,459.7 110.5,459.7 111.1,459.7 111.7,459.7 112.3,459.7 113,459.7 113.6,459.7 114.2,459.7 114.8,459.7 115.4,459.7 116,459.7 116.7,459.7 117.3,459.7 117.9,459.7 118.5,459.7 119.1,459.7 119.8,459.7 120.4,459.7 121,459.7 121.6,459.7 122.2,459.7 122.9,459.7 123.5,459.7 124.1,459.7 124.7,459.7 125.3,459.7 125.9,459.7 126.5,459.7 127.1,459.7 127.7,459.7 128.3,459.7 128.9,459.7 129.5,459.7 130.1,459.7 130.7,459.7 131.3,459.7 131.9,459.7 132.5,459.7 133.1,459.7 133.7,459.7 134.3,459.7 134.8,459.7 135.4,459.7 136,459.7 136.6,459.7 137.1,459.7 137.7,459.8 138.2,459.8 138.8,459.8 139.3,459.8 139.9,459.8 140.4,459.8 141,459.8 141.5,459.8 142,459.8 142.5,459.8 143,459.8 143.6,459.8 144.1,459.8 144.6,459.8 145.1,459.8 145.6,459.8 146,459.8 146.5,459.8 147,459.8 147.5,459.8 147.9,459.8 148.4,459.8 148.8,459.8 149.3,459.8 149.7,459.8 150.2,459.8 150.6,459.8 151,459.8 151.4,459.8 151.8,459.8 152.2,459.8 152.6,459.8 153,459.8 153.4,459.8 153.8,459.8 154.1,459.8 154.5,459.8 154.8,459.8 155.2,459.8 155.5,459.8 155.8,459.8 156.1,459.8 156.4,459.8 156.7,459.8 157,459.8 157.3,459.8 157.6,459.8 157.8,459.8 158.1,459.8 158.2,459.8" fill="none" stroke="#161616" stroke-width="1.35" stroke-linejoin="round"/>
</g>
<rect x="107.00" y="397.30" width="51.20" height="26.70" fill="white" stroke="none"/>
<polygon points="110,424 110,424 110.2,424 110.5,424 110.9,424 111.2,423.5 111.5,422.5 111.8,421 112.2,418 112.5,414.7 112.8,410.2 113.1,405.5 113.5,401.8 113.8,400.1 114.1,401 114.4,403.9 114.7,407.7 115,411.5 115.3,414.4 115.7,417.4 116.1,419.5 116.5,421.1 116.8,422.1 117.2,422.7 117.5,423.2 117.8,423.5 118.2,423.8 118.6,423.9 118.8,424 118.8,424" fill="#bababa"/>
<polygon points="110,424 110,424 110.4,424 110.8,424 111.2,423.5 111.6,422.1 112,419.6 112.4,415.7 112.8,410.2 113.2,404.9 113.6,401.2 114,400.7 114.4,403.7 114.8,408.7 115.2,413.4 115.6,416.6 116,418.9 116.4,420.7 116.8,422 117.2,422.8 117.6,423.3 118,423.7 118.4,423.9 118.4,424" fill="#a0a0a0"/>
<polyline points="107.5,424 110,424 110.2,424 110.5,424 110.9,424 111.2,423.5 111.5,422.5 111.8,421 112.2,418 112.5,414.7 112.8,410.2 113.1,405.5 113.5,401.8 113.8,400.1 114.1,401 114.4,403.9 114.7,407.7 115,411.5 115.3,414.4 115.7,417.4 116.1,419.5 116.5,421.1 116.8,422.1 117.2,422.7 117.5,423.2 117.8,423.5 118.2,423.8 118.6,423.9 118.8,424 157.7,424" fill="none" stroke="#3a3a3a" stroke-width="1"/>
<line x1="107.00" y1="397.30" x2="107.00" y2="424.00" stroke="#8f8f8f" stroke-width="0.8" />
<line x1="107.00" y1="424.00" x2="158.20" y2="424.00" stroke="#aaaaaa" stroke-width="0.9" />
<line x1="105.80" y1="406.08" x2="107.00" y2="406.08" stroke="#aaa" stroke-width="0.5" />
<line x1="105.80" y1="412.05" x2="107.00" y2="412.05" stroke="#aaa" stroke-width="0.5" />
<line x1="105.80" y1="418.03" x2="107.00" y2="418.03" stroke="#aaa" stroke-width="0.5" />
<line x1="105.80" y1="424.00" x2="107.00" y2="424.00" stroke="#aaa" stroke-width="0.5" />
<line x1="158.20" y1="397.30" x2="158.20" y2="459.80" stroke="#b8b8b8" stroke-width="1" />
<line x1="38.10" y1="397.30" x2="158.60" y2="397.30" stroke="#5a5a5a" stroke-width="1.35" />
<line x1="38.10" y1="396.70" x2="38.10" y2="460.30" stroke="#858585" stroke-width="1" />
<line x1="37.60" y1="459.80" x2="158.70" y2="459.80" stroke="#555" stroke-width="0.9" />
<text x="8.10" y="428.85" font-size="10" text-anchor="middle" fill="#000" transform="rotate(-90 8.10 428.85)">% of max</text>
<line x1="35.30" y1="559.00" x2="38.10" y2="559.00" stroke="#777" stroke-width="0.8" />
<text x="30.30" y="562.60" font-size="10" text-anchor="end" font-weight="normal" fill="#000" >0</text>
<line x1="35.30" y1="548.40" x2="38.10" y2="548.40" stroke="#777" stroke-width="0.8" />
<text x="30.30" y="552.00" font-size="10" text-anchor="end" font-weight="normal" fill="#000" >20</text>
<line x1="35.30" y1="537.80" x2="38.10" y2="537.80" stroke="#777" stroke-width="0.8" />
<text x="30.30" y="541.40" font-size="10" text-anchor="end" font-weight="normal" fill="#000" >40</text>
<line x1="35.30" y1="527.20" x2="38.10" y2="527.20" stroke="#777" stroke-width="0.8" />
<text x="30.30" y="530.80" font-size="10" text-anchor="end" font-weight="normal" fill="#000" >60</text>
<line x1="35.30" y1="516.60" x2="38.10" y2="516.60" stroke="#777" stroke-width="0.8" />
<text x="30.30" y="520.20" font-size="10" text-anchor="end" font-weight="normal" fill="#000" >80</text>
<line x1="35.30" y1="506.00" x2="38.10" y2="506.00" stroke="#777" stroke-width="0.8" />
<text x="30.30" y="509.60" font-size="10" text-anchor="end" font-weight="normal" fill="#000" >100</text>
<line x1="36.60" y1="556.35" x2="38.10" y2="556.35" stroke="#999" stroke-width="0.6" />
<line x1="36.60" y1="553.70" x2="38.10" y2="553.70" stroke="#999" stroke-width="0.6" />
<line x1="36.60" y1="551.05" x2="38.10" y2="551.05" stroke="#999" stroke-width="0.6" />
<line x1="36.60" y1="545.75" x2="38.10" y2="545.75" stroke="#999" stroke-width="0.6" />
<line x1="36.60" y1="543.10" x2="38.10" y2="543.10" stroke="#999" stroke-width="0.6" />
<line x1="36.60" y1="540.45" x2="38.10" y2="540.45" stroke="#999" stroke-width="0.6" />
<line x1="36.60" y1="535.15" x2="38.10" y2="535.15" stroke="#999" stroke-width="0.6" />
<line x1="36.60" y1="532.50" x2="38.10" y2="532.50" stroke="#999" stroke-width="0.6" />
<line x1="36.60" y1="529.85" x2="38.10" y2="529.85" stroke="#999" stroke-width="0.6" />
<line x1="36.60" y1="524.55" x2="38.10" y2="524.55" stroke="#999" stroke-width="0.6" />
<line x1="36.60" y1="521.90" x2="38.10" y2="521.90" stroke="#999" stroke-width="0.6" />
<line x1="36.60" y1="519.25" x2="38.10" y2="519.25" stroke="#999" stroke-width="0.6" />
<line x1="36.60" y1="513.95" x2="38.10" y2="513.95" stroke="#999" stroke-width="0.6" />
<line x1="36.60" y1="511.30" x2="38.10" y2="511.30" stroke="#999" stroke-width="0.6" />
<line x1="36.60" y1="508.65" x2="38.10" y2="508.65" stroke="#999" stroke-width="0.6" />
<line x1="50.60" y1="559.00" x2="50.60" y2="561.20" stroke="#666" stroke-width="0.8" />
<line x1="62.60" y1="559.00" x2="62.60" y2="561.20" stroke="#666" stroke-width="0.8" />
<line x1="90.60" y1="559.00" x2="90.60" y2="561.20" stroke="#666" stroke-width="0.8" />
<line x1="118.60" y1="559.00" x2="118.60" y2="561.20" stroke="#666" stroke-width="0.8" />
<line x1="144.30" y1="559.00" x2="144.30" y2="561.20" stroke="#666" stroke-width="0.8" />
<line x1="71.03" y1="559.00" x2="71.03" y2="560.50" stroke="#666" stroke-width="0.6" />
<line x1="75.96" y1="559.00" x2="75.96" y2="560.50" stroke="#666" stroke-width="0.6" />
<line x1="79.46" y1="559.00" x2="79.46" y2="560.50" stroke="#666" stroke-width="0.6" />
<line x1="82.17" y1="559.00" x2="82.17" y2="560.50" stroke="#666" stroke-width="0.6" />
<line x1="84.39" y1="559.00" x2="84.39" y2="560.50" stroke="#666" stroke-width="0.6" />
<line x1="86.26" y1="559.00" x2="86.26" y2="560.50" stroke="#666" stroke-width="0.6" />
<line x1="87.89" y1="559.00" x2="87.89" y2="560.50" stroke="#666" stroke-width="0.6" />
<line x1="89.32" y1="559.00" x2="89.32" y2="560.50" stroke="#666" stroke-width="0.6" />
<line x1="99.03" y1="559.00" x2="99.03" y2="560.50" stroke="#666" stroke-width="0.6" />
<line x1="103.96" y1="559.00" x2="103.96" y2="560.50" stroke="#666" stroke-width="0.6" />
<line x1="107.46" y1="559.00" x2="107.46" y2="560.50" stroke="#666" stroke-width="0.6" />
<line x1="110.17" y1="559.00" x2="110.17" y2="560.50" stroke="#666" stroke-width="0.6" />
<line x1="112.39" y1="559.00" x2="112.39" y2="560.50" stroke="#666" stroke-width="0.6" />
<line x1="114.26" y1="559.00" x2="114.26" y2="560.50" stroke="#666" stroke-width="0.6" />
<line x1="115.89" y1="559.00" x2="115.89" y2="560.50" stroke="#666" stroke-width="0.6" />
<line x1="117.32" y1="559.00" x2="117.32" y2="560.50" stroke="#666" stroke-width="0.6" />
<line x1="127.03" y1="559.00" x2="127.03" y2="560.50" stroke="#666" stroke-width="0.6" />
<line x1="131.96" y1="559.00" x2="131.96" y2="560.50" stroke="#666" stroke-width="0.6" />
<line x1="135.46" y1="559.00" x2="135.46" y2="560.50" stroke="#666" stroke-width="0.6" />
<line x1="138.17" y1="559.00" x2="138.17" y2="560.50" stroke="#666" stroke-width="0.6" />
<line x1="140.39" y1="559.00" x2="140.39" y2="560.50" stroke="#666" stroke-width="0.6" />
<line x1="142.26" y1="559.00" x2="142.26" y2="560.50" stroke="#666" stroke-width="0.6" />
<line x1="143.89" y1="559.00" x2="143.89" y2="560.50" stroke="#666" stroke-width="0.6" />
<line x1="145.32" y1="559.00" x2="145.32" y2="560.50" stroke="#666" stroke-width="0.6" />
<line x1="41.10" y1="559.00" x2="41.10" y2="560.50" stroke="#666" stroke-width="0.6" />
<line x1="44.10" y1="559.00" x2="44.10" y2="560.50" stroke="#666" stroke-width="0.6" />
<line x1="47.10" y1="559.00" x2="47.10" y2="560.50" stroke="#666" stroke-width="0.6" />
<line x1="54.10" y1="559.00" x2="54.10" y2="560.50" stroke="#666" stroke-width="0.6" />
<line x1="58.10" y1="559.00" x2="58.10" y2="560.50" stroke="#666" stroke-width="0.6" />
<text x="50.70" y="573.90" font-size="10" text-anchor="middle" font-weight="normal" fill="#000" >0</text>
<text x="57.20" y="573.90" font-size="10" fill="#000">10<tspan font-size="6.6" dy="-3.6">2</tspan></text>
<text x="85.20" y="573.90" font-size="10" fill="#000">10<tspan font-size="6.6" dy="-3.6">3</tspan></text>
<text x="113.20" y="573.90" font-size="10" fill="#000">10<tspan font-size="6.6" dy="-3.6">4</tspan></text>
<text x="138.90" y="573.90" font-size="10" fill="#000">10<tspan font-size="6.6" dy="-3.6">5</tspan></text>
<clipPath id="cb3"><rect x="38.1" y="502.7" width="120.1" height="56.30000000000001"/></clipPath>
<g clip-path="url(#cb3)">
<polygon points="46.1,559 46.1,559 46.6,559 47.3,558.7 47.9,556.1 48.6,551 49.1,545.3 49.5,538.2 50.1,531.4 50.6,526.9 51.2,522.5 51.8,518.4 52.3,515 52.9,511.1 53.5,508.2 54,507.1 54.6,508.3 55.2,511.4 55.7,515 56.2,521.1 56.8,528.3 57.3,533.9 57.9,539.9 58.5,545.2 59.1,549.3 59.6,552.7 60.2,555.3 60.8,557 61.3,558.1 61.8,558.7 62.5,559 63.1,559 63.1,559" fill="#c2c2c2"/>
<polygon points="46.1,559 46.1,559 46.5,559 46.9,558.9 47.3,558.7 47.7,557.1 48.1,555 48.5,552.1 48.9,548.4 49.3,544.5 49.7,540.7 50.1,536.8 50.5,532.9 50.9,529 51.3,525.2 51.7,521.5 52.1,517.9 52.5,514.5 52.9,511.3 53.3,509 53.7,507.7 54.1,507.3 54.5,508.1 54.9,509.9 55.3,512.2 55.7,515 56.1,519.4 56.5,524.3 56.9,529.3 57.3,533.7 57.7,537.8 58.1,541.6 58.5,545.2 58.9,548.1 59.3,550.7 59.7,553 60.1,554.8 60.5,556.2 60.9,557.3 61.3,558.1 61.7,558.6 62.1,558.8 62.5,559 62.9,559 62.9,559" fill="#a9a9a9"/>
<polyline points="38.1,559 43.1,559 43.5,559 44,559 44.5,559 45.2,559 45.7,559 46.2,558.8 46.9,558.6 47.4,558.1 47.9,556.4 48.4,552.7 49,547.8 49.5,542.6 50.1,537.2 50.6,531.6 51.2,526.1 51.8,520.7 52.4,515.4 52.9,511.3 53.5,507.9 54,506.5 54.7,506.5 55.4,507.6 55.8,509.3 56.2,512.4 56.6,517.9 57.1,523.5 57.8,525.8 58.5,528.3 59,534.2 59.6,540.5 60.1,543.1 60.7,545.3 61.3,547.3 61.8,549.7 62.4,552 63,554 63.5,554.8 64,555.5 64.5,556 65.2,556.4 65.8,556.9 66.3,557.2 66.7,557.5 67.2,557.7 67.7,557.9 68.2,558.1 68.9,558.3 69.7,558.5 70,558.5 70,558.6 70,558.6 69.8,558.7 69.6,558.7 69.4,558.7 69.2,558.7 69.1,558.7 69.2,558.8 69.5,558.8 70,558.8 70.9,558.8 72,558.8 73.6,558.8 75.6,558.8 78.1,558.8 78.4,558.8 78.7,558.8 79,558.8 79.3,558.8 79.6,558.8 79.9,558.9 80.2,558.9 80.6,558.9 80.9,558.9 81.3,558.9 81.6,558.9 82,558.9 82.4,558.9 82.8,558.9 83.2,558.9 83.6,558.9 84,558.9 84.4,558.9 84.8,558.9 85.2,558.9 85.7,558.9 86.1,558.9 86.5,558.9 87,558.9 87.4,558.9 87.9,558.9 88.4,558.9 88.8,558.9 89.3,558.9 89.8,558.9 90.3,558.9 90.8,558.9 91.3,558.9 91.8,558.9 92.3,558.9 92.8,558.9 93.4,558.9 93.9,558.9 94.4,558.9 94.9,558.9 95.5,558.9 96,558.9 96.6,558.9 97.1,558.9 97.7,558.9 98.2,558.9 98.8,558.9 99.4,558.9 99.9,558.9 100.5,558.9 101.1,558.9 101.7,558.9 102.2,558.9 102.8,558.9 103.4,558.9 104,558.9 104.6,558.9 105.2,558.9 105.8,558.9 106.4,558.9 107,558.9 107.6,558.9 108.2,558.9 108.8,558.9 109.4,558.9 110,558.9 110.6,558.9 111.2,558.9 111.8,558.9 112.5,558.9 113.1,558.9 113.7,558.9 114.3,558.9 114.9,558.9 115.5,558.9 116.2,558.9 116.8,558.9 117.4,558.9 118,558.9 118.6,558.9 119.2,558.9 119.9,558.9 120.5,558.9 121.1,558.9 121.7,558.9 122.3,558.9 122.9,559 123.6,559 124.2,559 124.8,559 125.4,559 126,559 126.6,559 127.2,559 127.8,559 128.4,559 129,559 129.6,559 130.2,559 130.8,559 131.4,559 132,559 132.6,559 133.2,559 133.7,559 134.3,559 134.9,559 135.5,559 136,559 136.6,559 137.2,559 137.7,559 138.3,559 138.8,559 139.4,559 139.9,559 140.5,559 141,559 141.5,559 142,559 142.6,559 143.1,559 143.6,559 144.1,559 144.6,559 145.1,559 145.6,559 146.1,559 146.6,559 147,559 147.5,559 148,559 148.4,559 148.9,559 149.3,559 149.8,559 150.2,559 150.6,559 151,559 151.4,559 151.8,559 152.2,559 152.6,559 153,559 153.4,559 153.8,559 154.1,559 154.5,559 154.8,559 155.2,559 155.5,559 155.8,559 156.1,559 156.4,559 156.7,559 157,559 157.3,559 157.6,559 157.8,559 158.1,559 158.2,559" fill="none" stroke="#161616" stroke-width="1.35" stroke-linejoin="round"/>
</g>
<rect x="106.80" y="502.70" width="51.40" height="24.60" fill="white" stroke="none"/>
<polygon points="109.8,527.3 109.8,527.3 110,527.3 110.3,527.3 110.7,527.3 111,526.9 111.3,526 111.6,524.5 112,521.8 112.3,518.8 112.6,514.7 112.9,510.5 113.3,507.1 113.6,505.5 113.9,506.3 114.2,508.9 114.5,512.4 114.8,515.9 115.1,518.6 115.5,521.3 115.9,523.2 116.3,524.7 116.6,525.5 117,526.1 117.3,526.5 117.6,526.9 118,527.2 118.4,527.3 118.6,527.3 118.6,527.3" fill="#bababa"/>
<polygon points="109.8,527.3 109.8,527.3 110.2,527.3 110.6,527.3 111,526.9 111.4,525.6 111.8,523.3 112.2,519.7 112.6,514.7 113,509.8 113.4,506.5 113.8,506 114.2,508.8 114.6,513.3 115,517.6 115.4,520.5 115.8,522.7 116.2,524.3 116.6,525.5 117,526.2 117.4,526.6 117.8,527 118.2,527.2 118.2,527.3" fill="#a0a0a0"/>
<polyline points="107.3,527.3 109.8,527.3 110,527.3 110.3,527.3 110.7,527.3 111,526.9 111.3,526 111.6,524.5 112,521.8 112.3,518.8 112.6,514.7 112.9,510.5 113.3,507.1 113.6,505.5 113.9,506.3 114.2,508.9 114.5,512.4 114.8,515.9 115.1,518.6 115.5,521.3 115.9,523.2 116.3,524.7 116.6,525.5 117,526.1 117.3,526.5 117.6,526.9 118,527.2 118.4,527.3 118.6,527.3 157.7,527.3" fill="none" stroke="#3a3a3a" stroke-width="1"/>
<line x1="106.80" y1="502.70" x2="106.80" y2="527.30" stroke="#8f8f8f" stroke-width="0.8" />
<line x1="106.80" y1="527.30" x2="158.20" y2="527.30" stroke="#aaaaaa" stroke-width="0.9" />
<line x1="105.60" y1="510.95" x2="106.80" y2="510.95" stroke="#aaa" stroke-width="0.5" />
<line x1="105.60" y1="516.40" x2="106.80" y2="516.40" stroke="#aaa" stroke-width="0.5" />
<line x1="105.60" y1="521.85" x2="106.80" y2="521.85" stroke="#aaa" stroke-width="0.5" />
<line x1="105.60" y1="527.30" x2="106.80" y2="527.30" stroke="#aaa" stroke-width="0.5" />
<line x1="158.20" y1="502.70" x2="158.20" y2="559.00" stroke="#b8b8b8" stroke-width="1" />
<line x1="38.10" y1="502.70" x2="158.60" y2="502.70" stroke="#5a5a5a" stroke-width="1.35" />
<line x1="38.10" y1="502.10" x2="38.10" y2="559.50" stroke="#858585" stroke-width="1" />
<line x1="37.60" y1="559.00" x2="158.70" y2="559.00" stroke="#555" stroke-width="0.9" />
<text x="8.10" y="531.15" font-size="10" text-anchor="middle" fill="#000" transform="rotate(-90 8.10 531.15)">% of max</text>
<text x="96.05" y="588.40" font-size="10" text-anchor="middle" font-weight="normal" fill="#000" >Anti-human IgG-AF647</text>
<line x1="212.50" y1="246.80" x2="215.30" y2="246.80" stroke="#777" stroke-width="0.8" />
<text x="207.50" y="250.40" font-size="10" text-anchor="end" font-weight="normal" fill="#000" >0</text>
<line x1="212.50" y1="234.58" x2="215.30" y2="234.58" stroke="#777" stroke-width="0.8" />
<text x="207.50" y="238.18" font-size="10" text-anchor="end" font-weight="normal" fill="#000" >20</text>
<line x1="212.50" y1="222.36" x2="215.30" y2="222.36" stroke="#777" stroke-width="0.8" />
<text x="207.50" y="225.96" font-size="10" text-anchor="end" font-weight="normal" fill="#000" >40</text>
<line x1="212.50" y1="210.14" x2="215.30" y2="210.14" stroke="#777" stroke-width="0.8" />
<text x="207.50" y="213.74" font-size="10" text-anchor="end" font-weight="normal" fill="#000" >60</text>
<line x1="212.50" y1="197.92" x2="215.30" y2="197.92" stroke="#777" stroke-width="0.8" />
<text x="207.50" y="201.52" font-size="10" text-anchor="end" font-weight="normal" fill="#000" >80</text>
<line x1="212.50" y1="185.70" x2="215.30" y2="185.70" stroke="#777" stroke-width="0.8" />
<text x="207.50" y="189.30" font-size="10" text-anchor="end" font-weight="normal" fill="#000" >100</text>
<line x1="213.80" y1="243.75" x2="215.30" y2="243.75" stroke="#999" stroke-width="0.6" />
<line x1="213.80" y1="240.69" x2="215.30" y2="240.69" stroke="#999" stroke-width="0.6" />
<line x1="213.80" y1="237.64" x2="215.30" y2="237.64" stroke="#999" stroke-width="0.6" />
<line x1="213.80" y1="231.53" x2="215.30" y2="231.53" stroke="#999" stroke-width="0.6" />
<line x1="213.80" y1="228.47" x2="215.30" y2="228.47" stroke="#999" stroke-width="0.6" />
<line x1="213.80" y1="225.42" x2="215.30" y2="225.42" stroke="#999" stroke-width="0.6" />
<line x1="213.80" y1="219.31" x2="215.30" y2="219.31" stroke="#999" stroke-width="0.6" />
<line x1="213.80" y1="216.25" x2="215.30" y2="216.25" stroke="#999" stroke-width="0.6" />
<line x1="213.80" y1="213.20" x2="215.30" y2="213.20" stroke="#999" stroke-width="0.6" />
<line x1="213.80" y1="207.09" x2="215.30" y2="207.09" stroke="#999" stroke-width="0.6" />
<line x1="213.80" y1="204.03" x2="215.30" y2="204.03" stroke="#999" stroke-width="0.6" />
<line x1="213.80" y1="200.98" x2="215.30" y2="200.98" stroke="#999" stroke-width="0.6" />
<line x1="213.80" y1="194.87" x2="215.30" y2="194.87" stroke="#999" stroke-width="0.6" />
<line x1="213.80" y1="191.81" x2="215.30" y2="191.81" stroke="#999" stroke-width="0.6" />
<line x1="213.80" y1="188.76" x2="215.30" y2="188.76" stroke="#999" stroke-width="0.6" />
<line x1="227.80" y1="246.80" x2="227.80" y2="249.00" stroke="#666" stroke-width="0.8" />
<line x1="239.80" y1="246.80" x2="239.80" y2="249.00" stroke="#666" stroke-width="0.8" />
<line x1="267.80" y1="246.80" x2="267.80" y2="249.00" stroke="#666" stroke-width="0.8" />
<line x1="295.80" y1="246.80" x2="295.80" y2="249.00" stroke="#666" stroke-width="0.8" />
<line x1="321.50" y1="246.80" x2="321.50" y2="249.00" stroke="#666" stroke-width="0.8" />
<line x1="248.23" y1="246.80" x2="248.23" y2="248.30" stroke="#666" stroke-width="0.6" />
<line x1="253.16" y1="246.80" x2="253.16" y2="248.30" stroke="#666" stroke-width="0.6" />
<line x1="256.66" y1="246.80" x2="256.66" y2="248.30" stroke="#666" stroke-width="0.6" />
<line x1="259.37" y1="246.80" x2="259.37" y2="248.30" stroke="#666" stroke-width="0.6" />
<line x1="261.59" y1="246.80" x2="261.59" y2="248.30" stroke="#666" stroke-width="0.6" />
<line x1="263.46" y1="246.80" x2="263.46" y2="248.30" stroke="#666" stroke-width="0.6" />
<line x1="265.09" y1="246.80" x2="265.09" y2="248.30" stroke="#666" stroke-width="0.6" />
<line x1="266.52" y1="246.80" x2="266.52" y2="248.30" stroke="#666" stroke-width="0.6" />
<line x1="276.23" y1="246.80" x2="276.23" y2="248.30" stroke="#666" stroke-width="0.6" />
<line x1="281.16" y1="246.80" x2="281.16" y2="248.30" stroke="#666" stroke-width="0.6" />
<line x1="284.66" y1="246.80" x2="284.66" y2="248.30" stroke="#666" stroke-width="0.6" />
<line x1="287.37" y1="246.80" x2="287.37" y2="248.30" stroke="#666" stroke-width="0.6" />
<line x1="289.59" y1="246.80" x2="289.59" y2="248.30" stroke="#666" stroke-width="0.6" />
<line x1="291.46" y1="246.80" x2="291.46" y2="248.30" stroke="#666" stroke-width="0.6" />
<line x1="293.09" y1="246.80" x2="293.09" y2="248.30" stroke="#666" stroke-width="0.6" />
<line x1="294.52" y1="246.80" x2="294.52" y2="248.30" stroke="#666" stroke-width="0.6" />
<line x1="304.23" y1="246.80" x2="304.23" y2="248.30" stroke="#666" stroke-width="0.6" />
<line x1="309.16" y1="246.80" x2="309.16" y2="248.30" stroke="#666" stroke-width="0.6" />
<line x1="312.66" y1="246.80" x2="312.66" y2="248.30" stroke="#666" stroke-width="0.6" />
<line x1="315.37" y1="246.80" x2="315.37" y2="248.30" stroke="#666" stroke-width="0.6" />
<line x1="317.59" y1="246.80" x2="317.59" y2="248.30" stroke="#666" stroke-width="0.6" />
<line x1="319.46" y1="246.80" x2="319.46" y2="248.30" stroke="#666" stroke-width="0.6" />
<line x1="321.09" y1="246.80" x2="321.09" y2="248.30" stroke="#666" stroke-width="0.6" />
<line x1="322.52" y1="246.80" x2="322.52" y2="248.30" stroke="#666" stroke-width="0.6" />
<line x1="218.30" y1="246.80" x2="218.30" y2="248.30" stroke="#666" stroke-width="0.6" />
<line x1="221.30" y1="246.80" x2="221.30" y2="248.30" stroke="#666" stroke-width="0.6" />
<line x1="224.30" y1="246.80" x2="224.30" y2="248.30" stroke="#666" stroke-width="0.6" />
<line x1="231.30" y1="246.80" x2="231.30" y2="248.30" stroke="#666" stroke-width="0.6" />
<line x1="235.30" y1="246.80" x2="235.30" y2="248.30" stroke="#666" stroke-width="0.6" />
<text x="227.90" y="261.70" font-size="10" text-anchor="middle" font-weight="normal" fill="#000" >0</text>
<text x="234.40" y="261.70" font-size="10" fill="#000">10<tspan font-size="6.6" dy="-3.6">2</tspan></text>
<text x="262.40" y="261.70" font-size="10" fill="#000">10<tspan font-size="6.6" dy="-3.6">3</tspan></text>
<text x="290.40" y="261.70" font-size="10" fill="#000">10<tspan font-size="6.6" dy="-3.6">4</tspan></text>
<text x="316.10" y="261.70" font-size="10" fill="#000">10<tspan font-size="6.6" dy="-3.6">5</tspan></text>
<clipPath id="cc0"><rect x="215.3" y="182.4" width="120.09999999999997" height="64.4"/></clipPath>
<g clip-path="url(#cc0)">
<polygon points="222.3,246.8 222.3,246.8 222.8,246.8 223.7,246.5 224.1,245.6 224.7,244.5 225.2,243 225.7,241 226.2,238.2 226.8,231.5 227.4,223.2 228,215 228.6,207.2 229.3,199.7 229.9,193.6 230.6,189.7 231.2,187.3 231.8,186.3 232.5,187.3 233.1,191.2 233.7,198.2 234.3,206.5 235,214.3 235.6,221.7 236.2,228 236.8,233.4 237.4,236.6 238,239.5 238.7,241.9 239.4,243.6 240,244.7 240.6,245.6 241.3,246.4 241.8,246.8 241.8,246.8" fill="#c2c2c2"/>
<polygon points="222.3,246.8 222.3,246.8 222.7,246.8 223.1,246.8 223.5,246.8 223.9,246.8 224.3,246.8 224.7,246.8 225.1,246.7 225.5,246.7 225.9,246.6 226.3,246.5 226.7,246.2 227.1,245.9 227.5,245.5 227.9,245.1 228.3,244.7 228.7,244.3 229.1,243.8 229.5,243.4 229.9,242.9 230.3,242.3 230.7,241.8 231.1,241.1 231.5,240.5 231.9,239.8 232.3,239 232.7,238.1 233.1,237 233.5,235.8 233.9,234.4 234.3,233 234.7,231.5 235.1,229.9 235.5,228.3 235.9,226.6 236.3,229.1 236.7,232.5 237.1,235 237.5,237.1 237.9,238.9 238.3,240.5 238.7,241.9 239.1,242.9 239.5,243.8 239.9,244.5 240.3,245.1 240.7,245.7 241.1,246.2 241.5,246.6 241.5,246.8" fill="#a9a9a9"/>
<polyline points="215.3,246.8 220.3,246.8 220.6,246.8 221.1,246.8 221.6,246.8 222.2,246.8 222.8,246.8 223.4,246.8 224,246.8 224.6,246.8 225.1,246.7 225.5,246.7 226.3,246.5 226.8,246.2 227.4,245.6 227.9,245.1 228.4,244.6 229,244 229.5,243.3 230.1,242.6 230.6,241.9 231.1,241.1 231.7,240.3 232.1,239.3 232.6,238.3 233.1,237 233.6,235.5 234.1,233.6 234.6,231.7 235.1,229.7 235.6,227.9 236.3,224.9 236.9,222 237.5,219.3 238.1,215.8 238.7,213.2 239.3,212.7 239.9,212.8 240.6,212.6 241.2,211.7 241.9,210.6 242.5,208.9 243.1,206.5 243.7,203.6 244.3,201 244.9,198.9 245.4,197.2 245.9,196.1 246.5,196.9 247.1,197.3 247.8,193.9 248.4,190 248.9,187.7 249.4,187.2 249.9,191.2 250.4,194.9 250.8,193 251.2,190 251.8,188.9 252.5,188.8 253,190.2 253.4,191.2 253.9,188.4 254.4,185.9 254.9,188.6 255.4,191.2 255.9,188.6 256.3,185.9 256.7,188.1 257.1,191.2 257.7,192.3 258.4,193 258.9,193.3 259.5,193.6 260,194.9 260.6,199.7 261.3,205.3 261.9,207.9 262.6,210.1 263.2,212.6 263.8,215.5 264.4,218.7 265,221.7 265.6,224.7 266.3,227.5 266.9,230.3 267.5,233.1 268.2,235.8 268.8,238.2 269.4,240.2 270,241.8 270.7,243.1 271.2,243.7 271.7,244.1 272.2,244.4 272.7,244.7 273.2,245 273.7,245.3 274.2,245.5 274.7,245.8 275.2,246 275.7,246.2 275.3,246.3 274.1,246.5 273.3,246.5 274.2,246.6 278.2,246.7 278.5,246.7 278.7,246.7 279,246.7 279.3,246.7 279.7,246.7 280,246.7 280.3,246.7 280.7,246.7 281,246.7 281.4,246.7 281.8,246.7 282.2,246.7 282.6,246.7 283,246.7 283.4,246.7 283.9,246.7 284.3,246.7 284.8,246.7 285.2,246.7 285.7,246.7 286.2,246.7 286.6,246.7 287.1,246.7 287.6,246.7 288.1,246.7 288.7,246.7 289.2,246.7 289.7,246.7 290.2,246.7 290.8,246.7 291.3,246.7 291.9,246.7 292.4,246.7 293,246.7 293.6,246.7 294.1,246.7 294.7,246.7 295.3,246.8 295.9,246.8 296.5,246.8 297.1,246.8 297.7,246.8 298.3,246.8 298.9,246.8 299.5,246.8 300.1,246.8 300.7,246.8 301.3,246.8 301.9,246.8 302.6,246.8 303.2,246.8 303.8,246.8 304.4,246.8 305,246.8 305.7,246.8 306.3,246.8 306.9,246.8 307.5,246.8 308.2,246.8 308.8,246.8 309.4,246.8 310,246.8 310.6,246.8 311.3,246.8 311.9,246.8 312.5,246.8 313.1,246.8 313.7,246.8 314.3,246.8 314.9,246.8 315.5,246.8 316.1,246.8 316.7,246.8 317.3,246.8 317.9,246.8 318.5,246.8 319.1,246.8 319.6,246.8 320.2,246.8 320.8,246.8 321.3,246.8 321.9,246.8 322.4,246.8 323,246.8 323.5,246.8 324,246.8 324.5,246.8 325.1,246.8 325.6,246.8 326.1,246.8 326.6,246.8 327,246.8 327.5,246.8 328,246.8 328.5,246.8 328.9,246.8 329.4,246.8 329.8,246.8 330.2,246.8 330.6,246.8 331,246.8 331.4,246.8 331.8,246.8 332.2,246.8 332.5,246.8 332.9,246.8 333.2,246.8 333.6,246.8 333.9,246.8 334.2,246.8 334.5,246.8 334.8,246.8 335,246.8 335.3,246.8 335.4,246.8" fill="none" stroke="#161616" stroke-width="1.35" stroke-linejoin="round"/>
</g>
<rect x="284.40" y="182.40" width="51.00" height="28.70" fill="white" stroke="none"/>
<polygon points="288.9,211.1 288.9,211.1 289.1,209.3 289.5,206.9 289.8,203.9 290.2,200.7 290.5,196.7 290.9,192 291.3,187.8 291.6,185.7 291.9,186.4 292.2,189.1 292.6,192.5 292.9,195.6 293.2,197.7 293.5,199.9 293.8,202.1 294.1,204.2 294.4,205.9 294.8,207.7 295.2,209.2 295.6,210.3 295.8,211.1 295.8,211.1" fill="#bababa"/>
<polyline points="284.9,211.1 298.4,211.1 298.6,211.1 298.8,211.1 299.1,211.1 299.5,211 300.1,210.8 300.3,210.8 300.6,210.7 300.9,210.5 301.2,210.4 301.5,210.3 301.8,210.2 302.2,210 302.5,209.9 302.9,209.7 303.2,209.5 303.6,209.4 303.9,209.2 304.3,209 304.6,208.8 304.9,208.6 305.2,208.4 305.4,208.3 305.9,207.8 306.3,207.4 306.6,206.9 306.9,206.4 307.2,205.9 307.5,205.3 307.7,204.7 308,204.1 308.4,203.1 308.8,201.9 309.1,200.7 309.5,199.5 309.8,198.2 310.2,196.7 310.5,195.2 310.9,193.6 311.2,192.1 311.5,190.9 311.9,189.7 312.2,188.7 312.5,188 312.8,187.5 313.1,187.6 313.4,188.2 313.7,188.3 314,187.7 314.3,186.7 314.7,185.7 315,185.2 315.5,186.1 315.9,187.5 316.3,188.1 316.8,189.1 317.2,191.7 317.7,195.3 318,197.4 318.3,199.8 318.7,202.1 319,204.1 319.3,205.7 319.6,207 319.9,208.1 320.3,209 320.6,209.6 320.9,210.1 321.3,210.4 321.6,210.6 322,210.8 322.3,211 322.7,211 323.1,211.1 323.5,211.1 323.9,211.1 324.2,211.1 324.4,211.1 334.9,211.1" fill="none" stroke="#3a3a3a" stroke-width="1"/>
<line x1="284.40" y1="182.40" x2="284.40" y2="211.10" stroke="#8f8f8f" stroke-width="0.8" />
<line x1="284.40" y1="211.10" x2="335.40" y2="211.10" stroke="#aaaaaa" stroke-width="0.9" />
<line x1="283.20" y1="191.68" x2="284.40" y2="191.68" stroke="#aaa" stroke-width="0.5" />
<line x1="283.20" y1="198.15" x2="284.40" y2="198.15" stroke="#aaa" stroke-width="0.5" />
<line x1="283.20" y1="204.62" x2="284.40" y2="204.62" stroke="#aaa" stroke-width="0.5" />
<line x1="283.20" y1="211.10" x2="284.40" y2="211.10" stroke="#aaa" stroke-width="0.5" />
<line x1="335.40" y1="182.40" x2="335.40" y2="246.80" stroke="#b8b8b8" stroke-width="1" />
<line x1="215.30" y1="182.40" x2="335.80" y2="182.40" stroke="#5a5a5a" stroke-width="1.35" />
<line x1="215.30" y1="181.80" x2="215.30" y2="247.30" stroke="#858585" stroke-width="1" />
<line x1="214.80" y1="246.80" x2="335.90" y2="246.80" stroke="#555" stroke-width="0.9" />
<text x="184.10" y="215.80" font-size="10" text-anchor="middle" fill="#000" transform="rotate(-90 184.10 215.80)">% of max</text>
<line x1="212.50" y1="352.90" x2="215.30" y2="352.90" stroke="#777" stroke-width="0.8" />
<text x="207.50" y="356.50" font-size="10" text-anchor="end" font-weight="normal" fill="#000" >0</text>
<line x1="212.50" y1="340.66" x2="215.30" y2="340.66" stroke="#777" stroke-width="0.8" />
<text x="207.50" y="344.26" font-size="10" text-anchor="end" font-weight="normal" fill="#000" >20</text>
<line x1="212.50" y1="328.42" x2="215.30" y2="328.42" stroke="#777" stroke-width="0.8" />
<text x="207.50" y="332.02" font-size="10" text-anchor="end" font-weight="normal" fill="#000" >40</text>
<line x1="212.50" y1="316.18" x2="215.30" y2="316.18" stroke="#777" stroke-width="0.8" />
<text x="207.50" y="319.78" font-size="10" text-anchor="end" font-weight="normal" fill="#000" >60</text>
<line x1="212.50" y1="303.94" x2="215.30" y2="303.94" stroke="#777" stroke-width="0.8" />
<text x="207.50" y="307.54" font-size="10" text-anchor="end" font-weight="normal" fill="#000" >80</text>
<line x1="212.50" y1="291.70" x2="215.30" y2="291.70" stroke="#777" stroke-width="0.8" />
<text x="207.50" y="295.30" font-size="10" text-anchor="end" font-weight="normal" fill="#000" >100</text>
<line x1="213.80" y1="349.84" x2="215.30" y2="349.84" stroke="#999" stroke-width="0.6" />
<line x1="213.80" y1="346.78" x2="215.30" y2="346.78" stroke="#999" stroke-width="0.6" />
<line x1="213.80" y1="343.72" x2="215.30" y2="343.72" stroke="#999" stroke-width="0.6" />
<line x1="213.80" y1="337.60" x2="215.30" y2="337.60" stroke="#999" stroke-width="0.6" />
<line x1="213.80" y1="334.54" x2="215.30" y2="334.54" stroke="#999" stroke-width="0.6" />
<line x1="213.80" y1="331.48" x2="215.30" y2="331.48" stroke="#999" stroke-width="0.6" />
<line x1="213.80" y1="325.36" x2="215.30" y2="325.36" stroke="#999" stroke-width="0.6" />
<line x1="213.80" y1="322.30" x2="215.30" y2="322.30" stroke="#999" stroke-width="0.6" />
<line x1="213.80" y1="319.24" x2="215.30" y2="319.24" stroke="#999" stroke-width="0.6" />
<line x1="213.80" y1="313.12" x2="215.30" y2="313.12" stroke="#999" stroke-width="0.6" />
<line x1="213.80" y1="310.06" x2="215.30" y2="310.06" stroke="#999" stroke-width="0.6" />
<line x1="213.80" y1="307.00" x2="215.30" y2="307.00" stroke="#999" stroke-width="0.6" />
<line x1="213.80" y1="300.88" x2="215.30" y2="300.88" stroke="#999" stroke-width="0.6" />
<line x1="213.80" y1="297.82" x2="215.30" y2="297.82" stroke="#999" stroke-width="0.6" />
<line x1="213.80" y1="294.76" x2="215.30" y2="294.76" stroke="#999" stroke-width="0.6" />
<line x1="227.80" y1="352.90" x2="227.80" y2="355.10" stroke="#666" stroke-width="0.8" />
<line x1="239.80" y1="352.90" x2="239.80" y2="355.10" stroke="#666" stroke-width="0.8" />
<line x1="267.80" y1="352.90" x2="267.80" y2="355.10" stroke="#666" stroke-width="0.8" />
<line x1="295.80" y1="352.90" x2="295.80" y2="355.10" stroke="#666" stroke-width="0.8" />
<line x1="321.50" y1="352.90" x2="321.50" y2="355.10" stroke="#666" stroke-width="0.8" />
<line x1="248.23" y1="352.90" x2="248.23" y2="354.40" stroke="#666" stroke-width="0.6" />
<line x1="253.16" y1="352.90" x2="253.16" y2="354.40" stroke="#666" stroke-width="0.6" />
<line x1="256.66" y1="352.90" x2="256.66" y2="354.40" stroke="#666" stroke-width="0.6" />
<line x1="259.37" y1="352.90" x2="259.37" y2="354.40" stroke="#666" stroke-width="0.6" />
<line x1="261.59" y1="352.90" x2="261.59" y2="354.40" stroke="#666" stroke-width="0.6" />
<line x1="263.46" y1="352.90" x2="263.46" y2="354.40" stroke="#666" stroke-width="0.6" />
<line x1="265.09" y1="352.90" x2="265.09" y2="354.40" stroke="#666" stroke-width="0.6" />
<line x1="266.52" y1="352.90" x2="266.52" y2="354.40" stroke="#666" stroke-width="0.6" />
<line x1="276.23" y1="352.90" x2="276.23" y2="354.40" stroke="#666" stroke-width="0.6" />
<line x1="281.16" y1="352.90" x2="281.16" y2="354.40" stroke="#666" stroke-width="0.6" />
<line x1="284.66" y1="352.90" x2="284.66" y2="354.40" stroke="#666" stroke-width="0.6" />
<line x1="287.37" y1="352.90" x2="287.37" y2="354.40" stroke="#666" stroke-width="0.6" />
<line x1="289.59" y1="352.90" x2="289.59" y2="354.40" stroke="#666" stroke-width="0.6" />
<line x1="291.46" y1="352.90" x2="291.46" y2="354.40" stroke="#666" stroke-width="0.6" />
<line x1="293.09" y1="352.90" x2="293.09" y2="354.40" stroke="#666" stroke-width="0.6" />
<line x1="294.52" y1="352.90" x2="294.52" y2="354.40" stroke="#666" stroke-width="0.6" />
<line x1="304.23" y1="352.90" x2="304.23" y2="354.40" stroke="#666" stroke-width="0.6" />
<line x1="309.16" y1="352.90" x2="309.16" y2="354.40" stroke="#666" stroke-width="0.6" />
<line x1="312.66" y1="352.90" x2="312.66" y2="354.40" stroke="#666" stroke-width="0.6" />
<line x1="315.37" y1="352.90" x2="315.37" y2="354.40" stroke="#666" stroke-width="0.6" />
<line x1="317.59" y1="352.90" x2="317.59" y2="354.40" stroke="#666" stroke-width="0.6" />
<line x1="319.46" y1="352.90" x2="319.46" y2="354.40" stroke="#666" stroke-width="0.6" />
<line x1="321.09" y1="352.90" x2="321.09" y2="354.40" stroke="#666" stroke-width="0.6" />
<line x1="322.52" y1="352.90" x2="322.52" y2="354.40" stroke="#666" stroke-width="0.6" />
<line x1="218.30" y1="352.90" x2="218.30" y2="354.40" stroke="#666" stroke-width="0.6" />
<line x1="221.30" y1="352.90" x2="221.30" y2="354.40" stroke="#666" stroke-width="0.6" />
<line x1="224.30" y1="352.90" x2="224.30" y2="354.40" stroke="#666" stroke-width="0.6" />
<line x1="231.30" y1="352.90" x2="231.30" y2="354.40" stroke="#666" stroke-width="0.6" />
<line x1="235.30" y1="352.90" x2="235.30" y2="354.40" stroke="#666" stroke-width="0.6" />
<text x="227.90" y="367.80" font-size="10" text-anchor="middle" font-weight="normal" fill="#000" >0</text>
<text x="234.40" y="367.80" font-size="10" fill="#000">10<tspan font-size="6.6" dy="-3.6">2</tspan></text>
<text x="262.40" y="367.80" font-size="10" fill="#000">10<tspan font-size="6.6" dy="-3.6">3</tspan></text>
<text x="290.40" y="367.80" font-size="10" fill="#000">10<tspan font-size="6.6" dy="-3.6">4</tspan></text>
<text x="316.10" y="367.80" font-size="10" fill="#000">10<tspan font-size="6.6" dy="-3.6">5</tspan></text>
<clipPath id="cc1"><rect x="215.3" y="288.4" width="120.09999999999997" height="64.5"/></clipPath>
<g clip-path="url(#cc1)">
<polygon points="223.3,352.9 223.3,352.9 223.7,352.9 224.2,352.9 224.9,352.6 225.4,350.5 225.9,347.6 226.4,344.2 226.9,340.4 227.4,336.4 228.1,328.7 228.7,320.1 229.3,312.5 229.9,306.4 230.6,301.2 231.2,297.2 231.9,294.3 232.5,292.5 233.1,292.6 233.7,297 234.3,304.6 234.9,311 235.5,318.5 236.2,325.4 236.8,331.1 237.4,336.3 238.1,340.7 238.6,342.9 239.1,344.8 239.6,346.5 240.1,348 240.6,349.2 241.3,350.8 242,351.9 242.5,352.6 243,352.9 243.3,352.9 243.3,352.9" fill="#c2c2c2"/>
<polygon points="223.3,352.9 223.3,352.9 223.7,352.9 224.1,352.9 224.5,352.9 224.9,352.9 225.3,352.9 225.7,352.9 226.1,352.9 226.5,352.9 226.9,352.9 227.3,352.8 227.7,352.8 228.1,352.8 228.5,352.7 228.9,352.6 229.3,352.6 229.7,352.5 230.1,352.4 230.5,352.3 230.9,352.2 231.3,352 231.7,351.7 232.1,351.5 232.5,351.1 232.9,350.8 233.3,350.4 233.7,350 234.1,349.5 234.5,348.9 234.9,348.2 235.3,347.4 235.7,346.4 236.1,345.4 236.5,344.2 236.9,342.8 237.3,341.4 237.7,339.7 238.1,340.7 238.5,342.6 238.9,344.1 239.3,345.5 239.7,346.7 240.1,347.9 240.5,349 240.9,349.9 241.3,350.8 241.7,351.5 242.1,352.1 242.5,352.6 242.9,352.8 243.3,352.9 243.3,352.9" fill="#a9a9a9"/>
<polyline points="215.3,352.9 223.3,352.9 223.6,352.9 224,352.9 224.6,352.9 225.1,352.9 225.7,352.9 226.3,352.9 226.9,352.9 227.5,352.8 228,352.8 228.6,352.7 229.2,352.6 229.7,352.5 230.3,352.4 230.8,352.2 231.3,352 231.8,351.7 232.4,351.3 232.9,350.8 233.5,350.2 234,349.6 234.5,348.9 235,348 235.6,346.8 236.1,345.4 236.6,343.9 237.1,342.3 237.5,340.7 238.1,337.6 238.7,334.4 239.3,331.5 239.9,329.2 240.6,327.2 241.2,325.4 241.8,323.6 242.5,321.9 243.1,319.9 243.8,317 244.4,313.7 245,311.3 245.5,310 245.9,310.1 246.2,311.5 246.6,312.5 247,310.9 247.5,308.5 248.1,307.2 248.8,305.9 249.4,304.6 250,302.6 250.6,300.9 251.3,299.6 251.9,298.4 252.4,297.3 252.9,296 253.4,294.2 253.9,292.2 254.4,291.7 255,295.4 255.6,300.9 256.2,306.2 256.9,310.7 257.4,311.6 257.9,311.7 258.4,312.5 258.9,314.9 259.4,318 260,321.1 260.6,323.8 261.3,326.4 261.9,329 262.5,331.6 263.2,334.2 263.8,336.4 264.4,338 265.1,339.3 265.7,340.7 266.3,342.3 266.8,344 267.5,345.6 268,346.3 268.5,346.9 269,347.5 269.6,348.1 270.1,348.6 270.6,349.2 271.1,349.7 271.6,350.2 272.1,350.6 272.6,351.1 273.1,351.4 273.5,351.7 274,352 274.5,352.2 275.1,352.4 275.7,352.6 275.9,352.7 275.7,352.8 275.3,352.8 274.9,352.8 274.7,352.9 275,352.9 275.9,352.9 277.6,352.9 280.3,352.9 280.6,352.9 280.9,352.9 281.2,352.9 281.5,352.9 281.8,352.9 282.1,352.9 282.5,352.9 282.9,352.9 283.2,352.9 283.6,352.9 284,352.9 284.4,352.9 284.8,352.9 285.2,352.9 285.7,352.9 286.1,352.9 286.6,352.9 287,352.9 287.5,352.9 288,352.9 288.5,352.9 289,352.9 289.5,352.9 290,352.9 290.5,352.9 291,352.9 291.5,352.9 292.1,352.9 292.6,352.9 293.2,352.9 293.7,352.9 294.3,352.9 294.8,352.9 295.4,352.9 296,352.9 296.5,352.9 297.1,352.9 297.7,352.9 298.3,352.9 298.9,352.9 299.5,352.9 300.1,352.9 300.7,352.9 301.3,352.9 301.9,352.9 302.5,352.9 303.1,352.9 303.8,352.9 304.4,352.9 305,352.9 305.6,352.9 306.2,352.9 306.8,352.9 307.5,352.9 308.1,352.9 308.7,352.9 309.3,352.9 309.9,352.9 310.6,352.9 311.2,352.9 311.8,352.9 312.4,352.9 313,352.9 313.6,352.9 314.2,352.9 314.8,352.9 315.4,352.9 316,352.9 316.6,352.9 317.2,352.9 317.8,352.9 318.4,352.9 319,352.9 319.6,352.9 320.1,352.9 320.7,352.9 321.3,352.9 321.8,352.9 322.4,352.9 322.9,352.9 323.4,352.9 324,352.9 324.5,352.9 325,352.9 325.5,352.9 326,352.9 326.5,352.9 327,352.9 327.5,352.9 328,352.9 328.4,352.9 328.9,352.9 329.3,352.9 329.8,352.9 330.2,352.9 330.6,352.9 331,352.9 331.4,352.9 331.8,352.9 332.2,352.9 332.5,352.9 332.9,352.9 333.2,352.9 333.6,352.9 333.9,352.9 334.2,352.9 334.5,352.9 334.8,352.9 335,352.9 335.3,352.9 335.4,352.9" fill="none" stroke="#161616" stroke-width="1.35" stroke-linejoin="round"/>
</g>
<rect x="284.40" y="288.40" width="51.00" height="27.10" fill="white" stroke="none"/>
<polygon points="288.9,315.5 288.9,315.5 289.1,314.3 289.4,312.5 289.7,310.5 290.1,308.2 290.4,305.8 290.7,302.7 291.1,298.9 291.4,295.2 291.8,292.3 292.1,291.2 292.5,292.9 292.8,297 293.2,301.8 293.6,305.8 294,308.2 294.3,310.5 294.7,312.5 295.1,314.3 295.3,315.5 295.3,315.5" fill="#bababa"/>
<polyline points="284.9,315.5 300.4,315.5 300.6,315.5 300.9,315.5 301.2,315.5 301.5,315.4 301.9,315.3 302.2,315.1 302.5,314.9 302.9,314.6 303.3,314.3 303.6,313.9 303.9,313.6 304.2,313.1 304.5,312.7 304.8,312.1 305.1,311.4 305.4,310.4 305.7,309.3 306,307.9 306.3,306.3 306.6,304.7 306.9,303.2 307.2,301.9 307.6,300.1 307.9,298.5 308.2,297 308.5,295.8 308.8,294.9 309.2,294.4 309.5,293.9 309.8,293.4 310.1,292.4 310.5,291.4 310.8,291.2 311.1,291.8 311.4,293 311.7,294.4 312,295.8 312.3,297.2 312.6,298.6 312.9,300.2 313.3,301.9 313.6,303.5 313.9,305.3 314.3,307.2 314.6,308.9 315,310.4 315.4,311.6 315.7,312.5 316.1,313.3 316.4,314 316.8,314.5 317.1,314.9 317.5,315.1 317.8,315.2 318.1,315.3 318.5,315.4 318.8,315.4 319.2,315.5 319.6,315.5 319.9,315.5 320.2,315.5 320.4,315.5 334.9,315.5" fill="none" stroke="#3a3a3a" stroke-width="1"/>
<line x1="284.40" y1="288.40" x2="284.40" y2="315.50" stroke="#8f8f8f" stroke-width="0.8" />
<line x1="284.40" y1="315.50" x2="335.40" y2="315.50" stroke="#aaaaaa" stroke-width="0.9" />
<line x1="283.20" y1="297.27" x2="284.40" y2="297.27" stroke="#aaa" stroke-width="0.5" />
<line x1="283.20" y1="303.35" x2="284.40" y2="303.35" stroke="#aaa" stroke-width="0.5" />
<line x1="283.20" y1="309.43" x2="284.40" y2="309.43" stroke="#aaa" stroke-width="0.5" />
<line x1="283.20" y1="315.50" x2="284.40" y2="315.50" stroke="#aaa" stroke-width="0.5" />
<line x1="335.40" y1="288.40" x2="335.40" y2="352.90" stroke="#b8b8b8" stroke-width="1" />
<line x1="215.30" y1="288.40" x2="335.80" y2="288.40" stroke="#5a5a5a" stroke-width="1.35" />
<line x1="215.30" y1="287.80" x2="215.30" y2="353.40" stroke="#858585" stroke-width="1" />
<line x1="214.80" y1="352.90" x2="335.90" y2="352.90" stroke="#555" stroke-width="0.9" />
<text x="184.10" y="321.85" font-size="10" text-anchor="middle" fill="#000" transform="rotate(-90 184.10 321.85)">% of max</text>
<line x1="212.50" y1="458.80" x2="215.30" y2="458.80" stroke="#777" stroke-width="0.8" />
<text x="207.50" y="462.40" font-size="10" text-anchor="end" font-weight="normal" fill="#000" >0</text>
<line x1="212.50" y1="447.00" x2="215.30" y2="447.00" stroke="#777" stroke-width="0.8" />
<text x="207.50" y="450.60" font-size="10" text-anchor="end" font-weight="normal" fill="#000" >20</text>
<line x1="212.50" y1="435.20" x2="215.30" y2="435.20" stroke="#777" stroke-width="0.8" />
<text x="207.50" y="438.80" font-size="10" text-anchor="end" font-weight="normal" fill="#000" >40</text>
<line x1="212.50" y1="423.40" x2="215.30" y2="423.40" stroke="#777" stroke-width="0.8" />
<text x="207.50" y="427.00" font-size="10" text-anchor="end" font-weight="normal" fill="#000" >60</text>
<line x1="212.50" y1="411.60" x2="215.30" y2="411.60" stroke="#777" stroke-width="0.8" />
<text x="207.50" y="415.20" font-size="10" text-anchor="end" font-weight="normal" fill="#000" >80</text>
<line x1="212.50" y1="399.80" x2="215.30" y2="399.80" stroke="#777" stroke-width="0.8" />
<text x="207.50" y="403.40" font-size="10" text-anchor="end" font-weight="normal" fill="#000" >100</text>
<line x1="213.80" y1="455.85" x2="215.30" y2="455.85" stroke="#999" stroke-width="0.6" />
<line x1="213.80" y1="452.90" x2="215.30" y2="452.90" stroke="#999" stroke-width="0.6" />
<line x1="213.80" y1="449.95" x2="215.30" y2="449.95" stroke="#999" stroke-width="0.6" />
<line x1="213.80" y1="444.05" x2="215.30" y2="444.05" stroke="#999" stroke-width="0.6" />
<line x1="213.80" y1="441.10" x2="215.30" y2="441.10" stroke="#999" stroke-width="0.6" />
<line x1="213.80" y1="438.15" x2="215.30" y2="438.15" stroke="#999" stroke-width="0.6" />
<line x1="213.80" y1="432.25" x2="215.30" y2="432.25" stroke="#999" stroke-width="0.6" />
<line x1="213.80" y1="429.30" x2="215.30" y2="429.30" stroke="#999" stroke-width="0.6" />
<line x1="213.80" y1="426.35" x2="215.30" y2="426.35" stroke="#999" stroke-width="0.6" />
<line x1="213.80" y1="420.45" x2="215.30" y2="420.45" stroke="#999" stroke-width="0.6" />
<line x1="213.80" y1="417.50" x2="215.30" y2="417.50" stroke="#999" stroke-width="0.6" />
<line x1="213.80" y1="414.55" x2="215.30" y2="414.55" stroke="#999" stroke-width="0.6" />
<line x1="213.80" y1="408.65" x2="215.30" y2="408.65" stroke="#999" stroke-width="0.6" />
<line x1="213.80" y1="405.70" x2="215.30" y2="405.70" stroke="#999" stroke-width="0.6" />
<line x1="213.80" y1="402.75" x2="215.30" y2="402.75" stroke="#999" stroke-width="0.6" />
<line x1="227.80" y1="458.80" x2="227.80" y2="461.00" stroke="#666" stroke-width="0.8" />
<line x1="239.80" y1="458.80" x2="239.80" y2="461.00" stroke="#666" stroke-width="0.8" />
<line x1="267.80" y1="458.80" x2="267.80" y2="461.00" stroke="#666" stroke-width="0.8" />
<line x1="295.80" y1="458.80" x2="295.80" y2="461.00" stroke="#666" stroke-width="0.8" />
<line x1="321.50" y1="458.80" x2="321.50" y2="461.00" stroke="#666" stroke-width="0.8" />
<line x1="248.23" y1="458.80" x2="248.23" y2="460.30" stroke="#666" stroke-width="0.6" />
<line x1="253.16" y1="458.80" x2="253.16" y2="460.30" stroke="#666" stroke-width="0.6" />
<line x1="256.66" y1="458.80" x2="256.66" y2="460.30" stroke="#666" stroke-width="0.6" />
<line x1="259.37" y1="458.80" x2="259.37" y2="460.30" stroke="#666" stroke-width="0.6" />
<line x1="261.59" y1="458.80" x2="261.59" y2="460.30" stroke="#666" stroke-width="0.6" />
<line x1="263.46" y1="458.80" x2="263.46" y2="460.30" stroke="#666" stroke-width="0.6" />
<line x1="265.09" y1="458.80" x2="265.09" y2="460.30" stroke="#666" stroke-width="0.6" />
<line x1="266.52" y1="458.80" x2="266.52" y2="460.30" stroke="#666" stroke-width="0.6" />
<line x1="276.23" y1="458.80" x2="276.23" y2="460.30" stroke="#666" stroke-width="0.6" />
<line x1="281.16" y1="458.80" x2="281.16" y2="460.30" stroke="#666" stroke-width="0.6" />
<line x1="284.66" y1="458.80" x2="284.66" y2="460.30" stroke="#666" stroke-width="0.6" />
<line x1="287.37" y1="458.80" x2="287.37" y2="460.30" stroke="#666" stroke-width="0.6" />
<line x1="289.59" y1="458.80" x2="289.59" y2="460.30" stroke="#666" stroke-width="0.6" />
<line x1="291.46" y1="458.80" x2="291.46" y2="460.30" stroke="#666" stroke-width="0.6" />
<line x1="293.09" y1="458.80" x2="293.09" y2="460.30" stroke="#666" stroke-width="0.6" />
<line x1="294.52" y1="458.80" x2="294.52" y2="460.30" stroke="#666" stroke-width="0.6" />
<line x1="304.23" y1="458.80" x2="304.23" y2="460.30" stroke="#666" stroke-width="0.6" />
<line x1="309.16" y1="458.80" x2="309.16" y2="460.30" stroke="#666" stroke-width="0.6" />
<line x1="312.66" y1="458.80" x2="312.66" y2="460.30" stroke="#666" stroke-width="0.6" />
<line x1="315.37" y1="458.80" x2="315.37" y2="460.30" stroke="#666" stroke-width="0.6" />
<line x1="317.59" y1="458.80" x2="317.59" y2="460.30" stroke="#666" stroke-width="0.6" />
<line x1="319.46" y1="458.80" x2="319.46" y2="460.30" stroke="#666" stroke-width="0.6" />
<line x1="321.09" y1="458.80" x2="321.09" y2="460.30" stroke="#666" stroke-width="0.6" />
<line x1="322.52" y1="458.80" x2="322.52" y2="460.30" stroke="#666" stroke-width="0.6" />
<line x1="218.30" y1="458.80" x2="218.30" y2="460.30" stroke="#666" stroke-width="0.6" />
<line x1="221.30" y1="458.80" x2="221.30" y2="460.30" stroke="#666" stroke-width="0.6" />
<line x1="224.30" y1="458.80" x2="224.30" y2="460.30" stroke="#666" stroke-width="0.6" />
<line x1="231.30" y1="458.80" x2="231.30" y2="460.30" stroke="#666" stroke-width="0.6" />
<line x1="235.30" y1="458.80" x2="235.30" y2="460.30" stroke="#666" stroke-width="0.6" />
<text x="227.90" y="473.70" font-size="10" text-anchor="middle" font-weight="normal" fill="#000" >0</text>
<text x="234.40" y="473.70" font-size="10" fill="#000">10<tspan font-size="6.6" dy="-3.6">2</tspan></text>
<text x="262.40" y="473.70" font-size="10" fill="#000">10<tspan font-size="6.6" dy="-3.6">3</tspan></text>
<text x="290.40" y="473.70" font-size="10" fill="#000">10<tspan font-size="6.6" dy="-3.6">4</tspan></text>
<text x="316.10" y="473.70" font-size="10" fill="#000">10<tspan font-size="6.6" dy="-3.6">5</tspan></text>
<clipPath id="cc2"><rect x="215.3" y="396.5" width="120.09999999999997" height="62.30000000000001"/></clipPath>
<g clip-path="url(#cc2)">
<polygon points="222.3,458.8 222.3,458.8 222.7,458.8 223.4,458.8 224.1,458.5 224.7,456.5 225.3,453.7 225.9,450 226.5,445.2 227.1,436.1 227.7,425.1 228.3,415.7 229,408.9 229.6,403.6 230.2,400.4 230.8,399.9 231.4,403.3 232,410.2 232.6,419.3 233.2,426.3 233.8,434 234.4,440.5 235,445.2 235.7,448.8 236.3,451.7 236.9,454.1 237.5,455.8 238.1,457 238.8,458.1 239.3,458.5 239.9,458.7 240.3,458.8 240.3,458.8" fill="#c2c2c2"/>
<polygon points="222.3,458.8 222.3,458.8 222.7,458.8 223.1,458.8 223.5,458.8 223.9,458.7 224.3,458.6 224.7,458.4 225.1,458.1 225.5,457.8 225.9,457.1 226.3,455.9 226.7,454.1 227.1,451.8 227.5,448.4 227.9,444.7 228.3,440.5 228.7,435.6 229.1,430.5 229.5,425 229.9,419.7 230.3,414.5 230.7,409.8 231.1,405.9 231.5,404.6 231.9,409.4 232.3,415 232.7,420.5 233.1,425.7 233.5,430.6 233.9,435.3 234.3,439.5 234.7,442.7 235.1,445.6 235.5,447.8 235.9,449.9 236.3,451.7 236.7,453.2 237.1,454.5 237.5,455.6 237.9,456.6 238.3,457.4 238.7,458 239.1,458.4 239.5,458.6 239.9,458.7 240.3,458.8 240.3,458.8" fill="#a9a9a9"/>
<polyline points="215.3,458.8 220.3,458.8 220.7,458.8 221.1,458.8 221.7,458.8 222.4,458.8 223,458.8 223.6,458.8 224.1,458.7 224.8,458.3 225.4,457.9 226,457 226.5,455.3 227.1,451.6 227.7,446.6 228.3,440.5 229,432.5 229.6,423.4 230.2,415.7 230.8,408.1 231.4,403.3 232,401.8 232.6,401.6 233.2,399.7 233.8,399.8 234.4,405.6 235.1,413.4 235.7,418.2 236.3,423.2 236.9,428.1 237.5,433.2 238.1,438.3 238.7,442.9 239.3,446.8 239.8,450.2 240.5,452.9 240.9,454.1 241.4,454.9 241.9,455.5 242.5,455.9 243,456.4 243.4,456.9 243.8,457.2 244.2,457.5 244.7,457.8 245.2,458 246,458.2 246.2,458.3 246.2,458.3 245.9,458.4 245.6,458.4 245.2,458.4 244.9,458.4 244.7,458.4 244.7,458.4 245,458.4 245.6,458.4 246.7,458.4 248.3,458.4 250.5,458.4 253.3,458.4 253.6,458.4 253.9,458.4 254.2,458.5 254.5,458.5 254.8,458.5 255.1,458.5 255.4,458.5 255.7,458.5 256.1,458.5 256.4,458.5 256.8,458.5 257.2,458.5 257.5,458.5 257.9,458.5 258.3,458.5 258.7,458.5 259.1,458.5 259.5,458.5 259.9,458.5 260.3,458.5 260.7,458.5 261.2,458.5 261.6,458.5 262.1,458.5 262.5,458.5 263,458.5 263.4,458.5 263.9,458.5 264.4,458.5 264.9,458.5 265.3,458.5 265.8,458.5 266.3,458.5 266.8,458.5 267.3,458.5 267.8,458.5 268.4,458.5 268.9,458.5 269.4,458.5 269.9,458.5 270.5,458.5 271,458.5 271.5,458.5 272.1,458.5 272.6,458.5 273.2,458.5 273.8,458.5 274.3,458.5 274.9,458.5 275.4,458.5 276,458.5 276.6,458.5 277.2,458.5 277.7,458.5 278.3,458.5 278.9,458.5 279.5,458.5 280.1,458.5 280.7,458.5 281.3,458.5 281.9,458.5 282.5,458.5 283.1,458.5 283.7,458.5 284.3,458.6 284.9,458.6 285.5,458.6 286.1,458.6 286.7,458.6 287.3,458.6 288,458.6 288.6,458.6 289.2,458.6 289.8,458.6 290.4,458.6 291,458.6 291.7,458.6 292.3,458.6 292.9,458.6 293.5,458.6 294.1,458.6 294.8,458.6 295.4,458.6 296,458.6 296.6,458.6 297.2,458.6 297.8,458.6 298.5,458.6 299.1,458.6 299.7,458.6 300.3,458.6 300.9,458.6 301.5,458.6 302.1,458.6 302.8,458.6 303.4,458.6 304,458.6 304.6,458.6 305.2,458.6 305.8,458.6 306.4,458.6 307,458.6 307.6,458.6 308.2,458.6 308.8,458.6 309.3,458.6 309.9,458.6 310.5,458.6 311.1,458.6 311.7,458.6 312.2,458.6 312.8,458.6 313.4,458.6 313.9,458.6 314.5,458.6 315,458.6 315.6,458.6 316.1,458.6 316.7,458.6 317.2,458.6 317.8,458.6 318.3,458.6 318.8,458.6 319.3,458.6 319.9,458.6 320.4,458.6 320.9,458.6 321.4,458.6 321.9,458.6 322.4,458.6 322.9,458.6 323.3,458.7 323.8,458.7 324.3,458.7 324.8,458.7 325.2,458.7 325.7,458.7 326.1,458.7 326.6,458.7 327,458.7 327.4,458.7 327.8,458.7 328.3,458.7 328.7,458.7 329.1,458.7 329.5,458.7 329.9,458.7 330.2,458.7 330.6,458.7 331,458.7 331.3,458.7 331.7,458.7 332,458.7 332.4,458.7 332.7,458.7 333,458.7 333.3,458.7 333.6,458.7 333.9,458.7 334.2,458.7 334.5,458.7 334.8,458.7 335,458.7 335.3,458.7 335.4,458.7" fill="none" stroke="#161616" stroke-width="1.35" stroke-linejoin="round"/>
</g>
<rect x="284.40" y="396.50" width="51.00" height="26.60" fill="white" stroke="none"/>
<polygon points="287.9,423.1 287.9,423.1 288.2,421.5 288.5,419.2 288.9,416.5 289.3,413.6 289.7,408.1 290.1,402.1 290.5,399.3 290.8,401 291.1,405 291.5,409.7 291.8,413.6 292.2,416.5 292.5,419.2 292.9,421.5 293.1,423.1 293.1,423.1" fill="#bababa"/>
<polygon points="292.4,423.1 292.4,423.1 292.8,423 292.8,423.1" fill="#a0a0a0"/>
<polyline points="284.9,423.1 292.4,423.1 292.6,423.1 293.1,422.9 293.3,422.7 293.6,422.5 293.9,422.3 294.3,422.1 294.6,421.8 295,421.6 295.3,421.4 295.6,421.3 295.9,421.1 296.3,421 296.6,420.9 296.9,420.8 297.2,420.6 297.5,420.5 297.8,420.3 298.1,420.2 298.4,420.1 298.7,419.9 299,419.6 299.3,419.3 299.6,418.7 300,418 300.3,417.2 300.7,416.4 301,415.7 301.4,415.2 301.7,414.7 302.1,414.2 302.5,413.7 302.8,413.1 303.2,412.2 303.5,411.1 303.8,410 304.1,408.8 304.4,407.1 304.7,405.3 305,403.6 305.3,401.3 305.6,399.8 305.9,399.8 306.3,400.4 306.7,401 307.1,401.6 307.5,402.2 307.9,402.4 308.3,401.7 308.6,400.6 308.9,399.8 309.4,399.2 309.8,399.3 310.1,399.8 310.4,400.7 310.7,401.9 311.1,404.8 311.5,407.9 311.8,408.9 312.1,409.7 312.4,410.5 312.8,411.4 313.1,412.2 313.4,413.1 313.7,414.1 314,415 314.3,415.9 314.6,416.7 314.9,417.7 315.2,418.5 315.6,419.3 315.9,420 316.2,420.5 316.6,421 317,421.4 317.3,421.8 317.7,422.1 318,422.4 318.4,422.6 318.7,422.8 319,422.9 319.4,423 319.7,423 320.1,423.1 320.5,423.1 320.9,423.1 321.2,423.1 321.4,423.1 334.9,423.1" fill="none" stroke="#3a3a3a" stroke-width="1"/>
<line x1="284.40" y1="396.50" x2="284.40" y2="423.10" stroke="#8f8f8f" stroke-width="0.8" />
<line x1="284.40" y1="423.10" x2="335.40" y2="423.10" stroke="#aaaaaa" stroke-width="0.9" />
<line x1="283.20" y1="405.25" x2="284.40" y2="405.25" stroke="#aaa" stroke-width="0.5" />
<line x1="283.20" y1="411.20" x2="284.40" y2="411.20" stroke="#aaa" stroke-width="0.5" />
<line x1="283.20" y1="417.15" x2="284.40" y2="417.15" stroke="#aaa" stroke-width="0.5" />
<line x1="283.20" y1="423.10" x2="284.40" y2="423.10" stroke="#aaa" stroke-width="0.5" />
<line x1="335.40" y1="396.50" x2="335.40" y2="458.80" stroke="#b8b8b8" stroke-width="1" />
<line x1="215.30" y1="396.50" x2="335.80" y2="396.50" stroke="#5a5a5a" stroke-width="1.35" />
<line x1="215.30" y1="395.90" x2="215.30" y2="459.30" stroke="#858585" stroke-width="1" />
<line x1="214.80" y1="458.80" x2="335.90" y2="458.80" stroke="#555" stroke-width="0.9" />
<text x="184.10" y="428.85" font-size="10" text-anchor="middle" fill="#000" transform="rotate(-90 184.10 428.85)">% of max</text>
<line x1="212.50" y1="559.00" x2="215.30" y2="559.00" stroke="#777" stroke-width="0.8" />
<text x="207.50" y="562.60" font-size="10" text-anchor="end" font-weight="normal" fill="#000" >0</text>
<line x1="212.50" y1="548.44" x2="215.30" y2="548.44" stroke="#777" stroke-width="0.8" />
<text x="207.50" y="552.04" font-size="10" text-anchor="end" font-weight="normal" fill="#000" >20</text>
<line x1="212.50" y1="537.88" x2="215.30" y2="537.88" stroke="#777" stroke-width="0.8" />
<text x="207.50" y="541.48" font-size="10" text-anchor="end" font-weight="normal" fill="#000" >40</text>
<line x1="212.50" y1="527.32" x2="215.30" y2="527.32" stroke="#777" stroke-width="0.8" />
<text x="207.50" y="530.92" font-size="10" text-anchor="end" font-weight="normal" fill="#000" >60</text>
<line x1="212.50" y1="516.76" x2="215.30" y2="516.76" stroke="#777" stroke-width="0.8" />
<text x="207.50" y="520.36" font-size="10" text-anchor="end" font-weight="normal" fill="#000" >80</text>
<line x1="212.50" y1="506.20" x2="215.30" y2="506.20" stroke="#777" stroke-width="0.8" />
<text x="207.50" y="509.80" font-size="10" text-anchor="end" font-weight="normal" fill="#000" >100</text>
<line x1="213.80" y1="556.36" x2="215.30" y2="556.36" stroke="#999" stroke-width="0.6" />
<line x1="213.80" y1="553.72" x2="215.30" y2="553.72" stroke="#999" stroke-width="0.6" />
<line x1="213.80" y1="551.08" x2="215.30" y2="551.08" stroke="#999" stroke-width="0.6" />
<line x1="213.80" y1="545.80" x2="215.30" y2="545.80" stroke="#999" stroke-width="0.6" />
<line x1="213.80" y1="543.16" x2="215.30" y2="543.16" stroke="#999" stroke-width="0.6" />
<line x1="213.80" y1="540.52" x2="215.30" y2="540.52" stroke="#999" stroke-width="0.6" />
<line x1="213.80" y1="535.24" x2="215.30" y2="535.24" stroke="#999" stroke-width="0.6" />
<line x1="213.80" y1="532.60" x2="215.30" y2="532.60" stroke="#999" stroke-width="0.6" />
<line x1="213.80" y1="529.96" x2="215.30" y2="529.96" stroke="#999" stroke-width="0.6" />
<line x1="213.80" y1="524.68" x2="215.30" y2="524.68" stroke="#999" stroke-width="0.6" />
<line x1="213.80" y1="522.04" x2="215.30" y2="522.04" stroke="#999" stroke-width="0.6" />
<line x1="213.80" y1="519.40" x2="215.30" y2="519.40" stroke="#999" stroke-width="0.6" />
<line x1="213.80" y1="514.12" x2="215.30" y2="514.12" stroke="#999" stroke-width="0.6" />
<line x1="213.80" y1="511.48" x2="215.30" y2="511.48" stroke="#999" stroke-width="0.6" />
<line x1="213.80" y1="508.84" x2="215.30" y2="508.84" stroke="#999" stroke-width="0.6" />
<line x1="227.80" y1="559.00" x2="227.80" y2="561.20" stroke="#666" stroke-width="0.8" />
<line x1="239.80" y1="559.00" x2="239.80" y2="561.20" stroke="#666" stroke-width="0.8" />
<line x1="267.80" y1="559.00" x2="267.80" y2="561.20" stroke="#666" stroke-width="0.8" />
<line x1="295.80" y1="559.00" x2="295.80" y2="561.20" stroke="#666" stroke-width="0.8" />
<line x1="321.50" y1="559.00" x2="321.50" y2="561.20" stroke="#666" stroke-width="0.8" />
<line x1="248.23" y1="559.00" x2="248.23" y2="560.50" stroke="#666" stroke-width="0.6" />
<line x1="253.16" y1="559.00" x2="253.16" y2="560.50" stroke="#666" stroke-width="0.6" />
<line x1="256.66" y1="559.00" x2="256.66" y2="560.50" stroke="#666" stroke-width="0.6" />
<line x1="259.37" y1="559.00" x2="259.37" y2="560.50" stroke="#666" stroke-width="0.6" />
<line x1="261.59" y1="559.00" x2="261.59" y2="560.50" stroke="#666" stroke-width="0.6" />
<line x1="263.46" y1="559.00" x2="263.46" y2="560.50" stroke="#666" stroke-width="0.6" />
<line x1="265.09" y1="559.00" x2="265.09" y2="560.50" stroke="#666" stroke-width="0.6" />
<line x1="266.52" y1="559.00" x2="266.52" y2="560.50" stroke="#666" stroke-width="0.6" />
<line x1="276.23" y1="559.00" x2="276.23" y2="560.50" stroke="#666" stroke-width="0.6" />
<line x1="281.16" y1="559.00" x2="281.16" y2="560.50" stroke="#666" stroke-width="0.6" />
<line x1="284.66" y1="559.00" x2="284.66" y2="560.50" stroke="#666" stroke-width="0.6" />
<line x1="287.37" y1="559.00" x2="287.37" y2="560.50" stroke="#666" stroke-width="0.6" />
<line x1="289.59" y1="559.00" x2="289.59" y2="560.50" stroke="#666" stroke-width="0.6" />
<line x1="291.46" y1="559.00" x2="291.46" y2="560.50" stroke="#666" stroke-width="0.6" />
<line x1="293.09" y1="559.00" x2="293.09" y2="560.50" stroke="#666" stroke-width="0.6" />
<line x1="294.52" y1="559.00" x2="294.52" y2="560.50" stroke="#666" stroke-width="0.6" />
<line x1="304.23" y1="559.00" x2="304.23" y2="560.50" stroke="#666" stroke-width="0.6" />
<line x1="309.16" y1="559.00" x2="309.16" y2="560.50" stroke="#666" stroke-width="0.6" />
<line x1="312.66" y1="559.00" x2="312.66" y2="560.50" stroke="#666" stroke-width="0.6" />
<line x1="315.37" y1="559.00" x2="315.37" y2="560.50" stroke="#666" stroke-width="0.6" />
<line x1="317.59" y1="559.00" x2="317.59" y2="560.50" stroke="#666" stroke-width="0.6" />
<line x1="319.46" y1="559.00" x2="319.46" y2="560.50" stroke="#666" stroke-width="0.6" />
<line x1="321.09" y1="559.00" x2="321.09" y2="560.50" stroke="#666" stroke-width="0.6" />
<line x1="322.52" y1="559.00" x2="322.52" y2="560.50" stroke="#666" stroke-width="0.6" />
<line x1="218.30" y1="559.00" x2="218.30" y2="560.50" stroke="#666" stroke-width="0.6" />
<line x1="221.30" y1="559.00" x2="221.30" y2="560.50" stroke="#666" stroke-width="0.6" />
<line x1="224.30" y1="559.00" x2="224.30" y2="560.50" stroke="#666" stroke-width="0.6" />
<line x1="231.30" y1="559.00" x2="231.30" y2="560.50" stroke="#666" stroke-width="0.6" />
<line x1="235.30" y1="559.00" x2="235.30" y2="560.50" stroke="#666" stroke-width="0.6" />
<text x="227.90" y="573.90" font-size="10" text-anchor="middle" font-weight="normal" fill="#000" >0</text>
<text x="234.40" y="573.90" font-size="10" fill="#000">10<tspan font-size="6.6" dy="-3.6">2</tspan></text>
<text x="262.40" y="573.90" font-size="10" fill="#000">10<tspan font-size="6.6" dy="-3.6">3</tspan></text>
<text x="290.40" y="573.90" font-size="10" fill="#000">10<tspan font-size="6.6" dy="-3.6">4</tspan></text>
<text x="316.10" y="573.90" font-size="10" fill="#000">10<tspan font-size="6.6" dy="-3.6">5</tspan></text>
<clipPath id="cc3"><rect x="215.3" y="502.9" width="120.09999999999997" height="56.10000000000002"/></clipPath>
<g clip-path="url(#cc3)">
<polygon points="222.3,559 222.3,559 222.8,559 223.7,558.5 224.2,556.7 224.8,554.4 225.4,551.6 226,548.4 226.5,544.7 227.1,537.1 227.7,528.2 228.2,520.5 228.8,514.3 229.4,509.3 229.9,506.2 230.5,505.7 231,508.8 231.5,513.5 232.1,519.7 232.7,525.7 233.3,531 233.8,536.1 234.4,540.5 234.9,544 235.5,546.9 236.1,549.5 236.6,551.5 237.2,553.3 237.7,555 238.3,556.4 238.9,557.3 239.5,558 240,558.4 240.5,558.7 241,559 241.3,559 241.3,559" fill="#c2c2c2"/>
<polygon points="222.3,559 222.3,559 222.7,559 223.1,559 223.5,559 223.9,559 224.3,558.9 224.7,558.9 225.1,558.9 225.5,558.9 225.9,558.9 226.3,558.7 226.7,558.3 227.1,557.4 227.5,555.3 227.9,552.7 228.3,549.2 228.7,545.6 229.1,542.5 229.5,539.4 229.9,536.3 230.3,533.1 230.7,529.7 231.1,526 231.5,522.2 231.9,519.2 232.3,521.7 232.7,525.7 233.1,529.5 233.5,533.1 233.9,536.6 234.3,539.7 234.7,542.4 235.1,544.8 235.5,546.9 235.9,548.6 236.3,550.3 236.7,551.8 237.1,553.1 237.5,554.3 237.9,555.4 238.3,556.4 238.7,557 239.1,557.5 239.5,558 239.9,558.3 240.3,558.6 240.7,558.8 241.1,559 241.1,559" fill="#a9a9a9"/>
<polyline points="215.3,559 220.3,559 220.6,559 221,559 221.6,559 222.1,559 222.7,559 223.3,559 223.8,559 224.3,558.9 225,558.9 225.6,558.9 226.1,558.9 226.6,558.5 227.1,557.4 227.7,554 228.3,549.4 228.8,544.7 229.4,540.4 229.9,536 230.5,531.5 231,526.6 231.6,521.6 232.1,517.8 232.7,516 233.2,515.4 233.8,514.6 234.4,513.1 235,511.4 235.5,509.9 236.1,507.7 236.6,506.7 237.1,508.6 237.7,511.5 238.2,513.3 238.8,515.1 239.4,516.8 240,517.9 240.5,518.9 241.1,520.5 241.7,523.2 242.2,526.5 242.8,529.4 243.3,531.4 243.8,532.9 244.4,534.7 244.9,536.6 245.5,538.6 246.1,540.7 246.7,542.6 247.3,544.3 247.8,545.9 248.3,547.3 248.9,548.4 249.5,549.3 250.1,549.9 250.7,550.4 251.2,551.1 251.8,552.5 252.2,554 252.8,555.3 253.3,555.9 253.9,556.3 254.5,556.6 255.1,556.9 255.6,557 256.2,557 256.8,557 257.4,557.1 257.9,557.2 258.4,557.4 258.9,557.8 259.4,558.2 260.1,558.5 260.1,558.6 259.7,558.6 259,558.7 258.3,558.7 257.9,558.8 258.1,558.8 259.1,558.8 261.2,558.9 264.6,558.9 264.9,558.9 265.2,558.9 265.4,558.9 265.7,558.9 266.1,558.9 266.4,558.9 266.7,558.9 267,558.9 267.4,558.9 267.8,558.9 268.1,558.9 268.5,558.9 268.9,558.9 269.3,558.9 269.7,558.9 270.1,558.9 270.5,558.9 270.9,558.9 271.3,558.9 271.8,558.9 272.2,558.9 272.7,558.9 273.1,558.9 273.6,558.9 274.1,558.9 274.6,558.9 275,558.9 275.5,558.9 276,558.9 276.5,558.9 277,558.9 277.6,558.9 278.1,558.9 278.6,558.9 279.1,558.9 279.7,558.9 280.2,558.9 280.8,558.9 281.3,558.9 281.9,559 282.4,559 283,559 283.6,559 284.1,559 284.7,559 285.3,559 285.9,559 286.5,559 287.1,559 287.7,559 288.2,559 288.8,559 289.4,559 290,559 290.7,559 291.3,559 291.9,559 292.5,559 293.1,559 293.7,559 294.3,559 294.9,559 295.6,559 296.2,559 296.8,559 297.4,559 298.1,559 298.7,559 299.3,559 299.9,559 300.5,559 301.2,559 301.8,559 302.4,559 303,559 303.7,559 304.3,559 304.9,559 305.5,559 306.1,559 306.7,559 307.3,559 308,559 308.6,559 309.2,559 309.8,559 310.4,559 311,559 311.6,559 312.2,559 312.8,559 313.4,559 313.9,559 314.5,559 315.1,559 315.7,559 316.2,559 316.8,559 317.4,559 317.9,559 318.5,559 319,559 319.6,559 320.1,559 320.6,559 321.2,559 321.7,559 322.2,559 322.7,559 323.2,559 323.7,559 324.2,559 324.7,559 325.2,559 325.7,559 326.2,559 326.6,559 327.1,559 327.5,559 328,559 328.4,559 328.8,559 329.2,559 329.6,559 330.1,559 330.4,559 330.8,559 331.2,559 331.6,559 331.9,559 332.3,559 332.6,559 333,559 333.3,559 333.6,559 333.9,559 334.2,559 334.5,559 334.8,559 335,559 335.3,559 335.4,559" fill="none" stroke="#161616" stroke-width="1.35" stroke-linejoin="round"/>
</g>
<rect x="284.40" y="502.90" width="51.00" height="24.40" fill="white" stroke="none"/>
<polygon points="288.2,527.3 288.2,527.3 288.5,525.8 288.8,523.8 289.2,521.3 289.6,518.7 289.9,515.1 290.3,510.8 290.6,507.2 291,505.7 291.3,507.2 291.7,510.8 292,515.1 292.4,518.7 292.7,520.8 293.1,522.8 293.5,524.7 293.8,526.2 294,527.3 294,527.3" fill="#bababa"/>
<polyline points="284.9,527.3 296.4,527.3 296.6,527.3 296.9,527.2 297.5,527.1 297.7,527 298,527 298.3,526.9 298.6,526.8 299,526.7 299.3,526.6 299.7,526.5 300,526.4 300.4,526.3 300.7,526.1 301,526 301.4,525.8 301.7,525.6 302.1,525.4 302.4,525.2 302.7,525 303,524.7 303.3,524.3 303.6,523.8 303.9,523.1 304.3,522.3 304.5,521.3 304.8,520.3 305.1,519.3 305.4,518.2 305.7,517.1 306,515.9 306.3,514.6 306.6,513.4 306.9,512.3 307.2,511.3 307.6,510.4 307.9,509.6 308.3,509 308.6,508.4 308.9,507.9 309.3,507.1 309.6,506.3 309.9,505.8 310.2,505.7 310.5,506.2 310.8,507.2 311.2,508.4 311.5,509.6 311.8,510.6 312.1,511.6 312.4,512.6 312.8,513.9 313.1,514.9 313.3,516.1 313.6,517.3 314,518.5 314.3,519.7 314.6,520.8 314.9,521.7 315.2,522.5 315.5,523.4 315.8,524.2 316.2,524.9 316.5,525.5 316.8,526 317.1,526.4 317.5,526.6 317.8,526.8 318.1,526.9 318.4,527 318.7,527 319,527.1 319.4,527.2 319.8,527.3 320.2,527.3 320.4,527.3 334.9,527.3" fill="none" stroke="#3a3a3a" stroke-width="1"/>
<line x1="284.40" y1="502.90" x2="284.40" y2="527.30" stroke="#8f8f8f" stroke-width="0.8" />
<line x1="284.40" y1="527.30" x2="335.40" y2="527.30" stroke="#aaaaaa" stroke-width="0.9" />
<line x1="283.20" y1="511.10" x2="284.40" y2="511.10" stroke="#aaa" stroke-width="0.5" />
<line x1="283.20" y1="516.50" x2="284.40" y2="516.50" stroke="#aaa" stroke-width="0.5" />
<line x1="283.20" y1="521.90" x2="284.40" y2="521.90" stroke="#aaa" stroke-width="0.5" />
<line x1="283.20" y1="527.30" x2="284.40" y2="527.30" stroke="#aaa" stroke-width="0.5" />
<line x1="335.40" y1="502.90" x2="335.40" y2="559.00" stroke="#b8b8b8" stroke-width="1" />
<line x1="215.30" y1="502.90" x2="335.80" y2="502.90" stroke="#5a5a5a" stroke-width="1.35" />
<line x1="215.30" y1="502.30" x2="215.30" y2="559.50" stroke="#858585" stroke-width="1" />
<line x1="214.80" y1="559.00" x2="335.90" y2="559.00" stroke="#555" stroke-width="0.9" />
<text x="184.10" y="532.15" font-size="10" text-anchor="middle" fill="#000" transform="rotate(-90 184.10 532.15)">% of max</text>
<text x="273.25" y="588.40" font-size="10" text-anchor="middle" font-weight="normal" fill="#000" >Anti-human IgG-AF647</text>
<line x1="387.50" y1="232.60" x2="390.30" y2="232.60" stroke="#777" stroke-width="0.8" />
<text x="383.40" y="236.20" font-size="10" text-anchor="end" font-weight="normal" fill="#000" >0</text>
<line x1="387.50" y1="220.20" x2="390.30" y2="220.20" stroke="#777" stroke-width="0.8" />
<text x="383.40" y="223.80" font-size="10" text-anchor="end" font-weight="normal" fill="#000" >20</text>
<line x1="387.50" y1="207.80" x2="390.30" y2="207.80" stroke="#777" stroke-width="0.8" />
<text x="383.40" y="211.40" font-size="10" text-anchor="end" font-weight="normal" fill="#000" >40</text>
<line x1="387.50" y1="195.40" x2="390.30" y2="195.40" stroke="#777" stroke-width="0.8" />
<text x="383.40" y="199.00" font-size="10" text-anchor="end" font-weight="normal" fill="#000" >60</text>
<line x1="387.50" y1="183.00" x2="390.30" y2="183.00" stroke="#777" stroke-width="0.8" />
<text x="383.40" y="186.60" font-size="10" text-anchor="end" font-weight="normal" fill="#000" >80</text>
<line x1="387.50" y1="170.60" x2="390.30" y2="170.60" stroke="#777" stroke-width="0.8" />
<text x="383.40" y="174.20" font-size="10" text-anchor="end" font-weight="normal" fill="#000" >100</text>
<line x1="388.80" y1="229.50" x2="390.30" y2="229.50" stroke="#999" stroke-width="0.6" />
<line x1="388.80" y1="226.40" x2="390.30" y2="226.40" stroke="#999" stroke-width="0.6" />
<line x1="388.80" y1="223.30" x2="390.30" y2="223.30" stroke="#999" stroke-width="0.6" />
<line x1="388.80" y1="217.10" x2="390.30" y2="217.10" stroke="#999" stroke-width="0.6" />
<line x1="388.80" y1="214.00" x2="390.30" y2="214.00" stroke="#999" stroke-width="0.6" />
<line x1="388.80" y1="210.90" x2="390.30" y2="210.90" stroke="#999" stroke-width="0.6" />
<line x1="388.80" y1="204.70" x2="390.30" y2="204.70" stroke="#999" stroke-width="0.6" />
<line x1="388.80" y1="201.60" x2="390.30" y2="201.60" stroke="#999" stroke-width="0.6" />
<line x1="388.80" y1="198.50" x2="390.30" y2="198.50" stroke="#999" stroke-width="0.6" />
<line x1="388.80" y1="192.30" x2="390.30" y2="192.30" stroke="#999" stroke-width="0.6" />
<line x1="388.80" y1="189.20" x2="390.30" y2="189.20" stroke="#999" stroke-width="0.6" />
<line x1="388.80" y1="186.10" x2="390.30" y2="186.10" stroke="#999" stroke-width="0.6" />
<line x1="388.80" y1="179.90" x2="390.30" y2="179.90" stroke="#999" stroke-width="0.6" />
<line x1="388.80" y1="176.80" x2="390.30" y2="176.80" stroke="#999" stroke-width="0.6" />
<line x1="388.80" y1="173.70" x2="390.30" y2="173.70" stroke="#999" stroke-width="0.6" />
<line x1="402.80" y1="232.60" x2="402.80" y2="234.80" stroke="#666" stroke-width="0.8" />
<line x1="414.80" y1="232.60" x2="414.80" y2="234.80" stroke="#666" stroke-width="0.8" />
<line x1="442.80" y1="232.60" x2="442.80" y2="234.80" stroke="#666" stroke-width="0.8" />
<line x1="470.80" y1="232.60" x2="470.80" y2="234.80" stroke="#666" stroke-width="0.8" />
<line x1="496.50" y1="232.60" x2="496.50" y2="234.80" stroke="#666" stroke-width="0.8" />
<line x1="423.23" y1="232.60" x2="423.23" y2="234.10" stroke="#666" stroke-width="0.6" />
<line x1="428.16" y1="232.60" x2="428.16" y2="234.10" stroke="#666" stroke-width="0.6" />
<line x1="431.66" y1="232.60" x2="431.66" y2="234.10" stroke="#666" stroke-width="0.6" />
<line x1="434.37" y1="232.60" x2="434.37" y2="234.10" stroke="#666" stroke-width="0.6" />
<line x1="436.59" y1="232.60" x2="436.59" y2="234.10" stroke="#666" stroke-width="0.6" />
<line x1="438.46" y1="232.60" x2="438.46" y2="234.10" stroke="#666" stroke-width="0.6" />
<line x1="440.09" y1="232.60" x2="440.09" y2="234.10" stroke="#666" stroke-width="0.6" />
<line x1="441.52" y1="232.60" x2="441.52" y2="234.10" stroke="#666" stroke-width="0.6" />
<line x1="451.23" y1="232.60" x2="451.23" y2="234.10" stroke="#666" stroke-width="0.6" />
<line x1="456.16" y1="232.60" x2="456.16" y2="234.10" stroke="#666" stroke-width="0.6" />
<line x1="459.66" y1="232.60" x2="459.66" y2="234.10" stroke="#666" stroke-width="0.6" />
<line x1="462.37" y1="232.60" x2="462.37" y2="234.10" stroke="#666" stroke-width="0.6" />
<line x1="464.59" y1="232.60" x2="464.59" y2="234.10" stroke="#666" stroke-width="0.6" />
<line x1="466.46" y1="232.60" x2="466.46" y2="234.10" stroke="#666" stroke-width="0.6" />
<line x1="468.09" y1="232.60" x2="468.09" y2="234.10" stroke="#666" stroke-width="0.6" />
<line x1="469.52" y1="232.60" x2="469.52" y2="234.10" stroke="#666" stroke-width="0.6" />
<line x1="479.23" y1="232.60" x2="479.23" y2="234.10" stroke="#666" stroke-width="0.6" />
<line x1="484.16" y1="232.60" x2="484.16" y2="234.10" stroke="#666" stroke-width="0.6" />
<line x1="487.66" y1="232.60" x2="487.66" y2="234.10" stroke="#666" stroke-width="0.6" />
<line x1="490.37" y1="232.60" x2="490.37" y2="234.10" stroke="#666" stroke-width="0.6" />
<line x1="492.59" y1="232.60" x2="492.59" y2="234.10" stroke="#666" stroke-width="0.6" />
<line x1="494.46" y1="232.60" x2="494.46" y2="234.10" stroke="#666" stroke-width="0.6" />
<line x1="496.09" y1="232.60" x2="496.09" y2="234.10" stroke="#666" stroke-width="0.6" />
<line x1="497.52" y1="232.60" x2="497.52" y2="234.10" stroke="#666" stroke-width="0.6" />
<line x1="393.30" y1="232.60" x2="393.30" y2="234.10" stroke="#666" stroke-width="0.6" />
<line x1="396.30" y1="232.60" x2="396.30" y2="234.10" stroke="#666" stroke-width="0.6" />
<line x1="399.30" y1="232.60" x2="399.30" y2="234.10" stroke="#666" stroke-width="0.6" />
<line x1="406.30" y1="232.60" x2="406.30" y2="234.10" stroke="#666" stroke-width="0.6" />
<line x1="410.30" y1="232.60" x2="410.30" y2="234.10" stroke="#666" stroke-width="0.6" />
<text x="402.90" y="247.50" font-size="10" text-anchor="middle" font-weight="normal" fill="#000" >0</text>
<text x="409.40" y="247.50" font-size="10" fill="#000">10<tspan font-size="6.6" dy="-3.6">2</tspan></text>
<text x="437.40" y="247.50" font-size="10" fill="#000">10<tspan font-size="6.6" dy="-3.6">3</tspan></text>
<text x="465.40" y="247.50" font-size="10" fill="#000">10<tspan font-size="6.6" dy="-3.6">4</tspan></text>
<text x="491.10" y="247.50" font-size="10" fill="#000">10<tspan font-size="6.6" dy="-3.6">5</tspan></text>
<clipPath id="cd1"><rect x="390.3" y="167.4" width="120.5" height="65.19999999999999"/></clipPath>
<g clip-path="url(#cd1)">
<polygon points="396.3,232.6 396.3,232.6 396.9,232.6 397.7,232.3 398.3,229.3 398.9,224.8 399.6,218.3 400.2,208.5 400.9,196.7 401.5,186.7 402.1,179.2 402.7,173.5 403.2,171.2 403.7,173.8 404.2,179.8 404.7,186.7 405.4,198.8 406,210.9 406.7,219.8 407.3,226.4 408,230.3 408.6,232.3 409,232.6 409.3,232.6 409.3,232.6" fill="#a3a3a3"/>
<polygon points="396.3,232.6 396.3,232.6 396.7,232.6 397.1,232.6 397.5,232.6 397.9,232.6 398.3,232.6 398.7,232.6 399.1,232.6 399.5,232.6 399.9,232.6 400.3,232.6 400.7,232.6 401.1,232.6 401.5,232.5 401.9,232.5 402.3,232.5 402.7,232.4 403.1,232.3 403.5,232.3 403.9,232.2 404.3,232.1 404.7,232 405.1,231.8 405.5,231.6 405.9,231.4 406.3,231.2 406.7,230.9 407.1,230.6 407.5,230.2 407.9,229.8 408.3,231.3 408.7,232.4 409.1,232.6 409.1,232.6" fill="#a3a3a3"/>
<polyline points="390.3,232.6 395.3,232.6 395.6,232.6 396,232.6 396.5,232.6 397,232.6 397.6,232.6 398.2,232.6 398.8,232.6 399.5,232.6 400.1,232.6 400.7,232.6 401.2,232.6 401.8,232.5 402.2,232.5 402.9,232.4 403.5,232.3 404.1,232.1 404.6,232 405.1,231.8 405.5,231.6 406,231.4 406.6,231 407.1,230.6 407.6,230.1 408.1,229.6 408.6,228.9 409.1,228.1 409.7,227.2 410.2,226.2 410.7,225.2 411.2,223.9 411.9,221.4 412.5,218.6 413.1,215.9 413.8,213.6 414.4,211.4 415,209 415.6,204.9 416.3,200.4 416.8,198 417.3,195.5 417.8,193.1 418.3,191.1 418.9,189.2 419.4,187.9 419.9,186.1 420.6,181.4 421.2,176.8 421.7,174.6 422.3,172.9 422.8,171.8 423.4,171.9 424,172.5 424.5,172 425.1,171.4 425.6,171.2 426.2,171.8 426.9,173.7 427.5,176.4 428.1,179.9 428.6,183 429.2,186.2 429.8,188.6 430.4,189.6 431.1,191.1 431.7,195.2 432.4,200.4 432.9,202.9 433.4,205.5 433.9,208 434.4,210.3 435,212.8 435.7,214.9 436.3,217.1 436.9,219.5 437.5,221.9 438.2,223.9 438.7,224.9 439.2,225.7 439.7,226.4 440.3,227 440.8,227.6 441.3,228.2 441.8,228.8 442.3,229.3 442.8,229.7 443.4,230.1 443.9,230.4 444.4,230.6 444.9,230.8 445.4,230.9 446,231.1 446.6,231.2 447.2,231.4 447.6,231.5 448.1,231.5 448.5,231.6 449,231.7 449.5,231.8 450,231.9 450.5,231.9 451.1,232 451.7,232 452.3,232.1 452.6,232.1 452.9,232.2 453,232.2 453.1,232.2 453.2,232.2 453.2,232.3 453.3,232.3 453.5,232.3 453.7,232.3 454.1,232.3 454.6,232.4 455.3,232.4 456.2,232.4 457.3,232.4 458.6,232.4 460.3,232.4 460.6,232.4 460.9,232.4 461.2,232.4 461.6,232.4 461.9,232.4 462.3,232.4 462.6,232.4 463,232.4 463.4,232.4 463.8,232.4 464.2,232.4 464.7,232.4 465.1,232.4 465.5,232.4 466,232.4 466.5,232.4 466.9,232.4 467.4,232.4 467.9,232.4 468.4,232.4 468.9,232.4 469.4,232.4 470,232.4 470.5,232.4 471,232.4 471.6,232.4 472.1,232.5 472.7,232.5 473.2,232.5 473.8,232.5 474.4,232.5 474.9,232.5 475.5,232.5 476.1,232.5 476.7,232.5 477.3,232.5 477.9,232.5 478.5,232.5 479.1,232.5 479.7,232.5 480.3,232.5 480.9,232.5 481.5,232.5 482.1,232.5 482.7,232.5 483.3,232.5 484,232.5 484.6,232.5 485.2,232.5 485.8,232.5 486.4,232.5 487,232.5 487.6,232.5 488.3,232.5 488.9,232.5 489.5,232.5 490.1,232.5 490.7,232.5 491.3,232.5 491.9,232.5 492.5,232.5 493.1,232.5 493.7,232.5 494.2,232.5 494.8,232.5 495.4,232.5 496,232.5 496.5,232.5 497.1,232.5 497.7,232.5 498.2,232.5 498.7,232.5 499.3,232.5 499.8,232.5 500.3,232.5 500.8,232.5 501.4,232.5 501.9,232.5 502.3,232.5 502.8,232.5 503.3,232.5 503.8,232.5 504.2,232.5 504.7,232.5 505.1,232.5 505.5,232.5 506,232.5 506.4,232.5 506.8,232.5 507.1,232.5 507.5,232.5 507.9,232.5 508.2,232.5 508.6,232.5 508.9,232.5 509.2,232.5 509.5,232.5 509.8,232.5 510,232.5 510.3,232.5 510.8,232.5" fill="none" stroke="#161616" stroke-width="1.35" stroke-linejoin="round"/>
</g>
<line x1="510.80" y1="167.40" x2="510.80" y2="232.60" stroke="#b8b8b8" stroke-width="1" />
<line x1="390.30" y1="167.40" x2="511.20" y2="167.40" stroke="#5a5a5a" stroke-width="1.35" />
<line x1="390.30" y1="166.80" x2="390.30" y2="233.10" stroke="#858585" stroke-width="1" />
<line x1="389.80" y1="232.60" x2="511.30" y2="232.60" stroke="#555" stroke-width="0.9" />
<text x="359.90" y="199.50" font-size="10" text-anchor="middle" fill="#000" transform="rotate(-90 359.90 199.50)">% of max</text>
<text x="448.45" y="262.00" font-size="10" text-anchor="middle" font-weight="normal" fill="#000" >Anti-HLA-A24-AF647</text>
<line x1="560.80" y1="232.60" x2="563.60" y2="232.60" stroke="#777" stroke-width="0.8" />
<text x="556.70" y="236.20" font-size="10" text-anchor="end" font-weight="normal" fill="#000" >0</text>
<line x1="560.80" y1="220.20" x2="563.60" y2="220.20" stroke="#777" stroke-width="0.8" />
<text x="556.70" y="223.80" font-size="10" text-anchor="end" font-weight="normal" fill="#000" >20</text>
<line x1="560.80" y1="207.80" x2="563.60" y2="207.80" stroke="#777" stroke-width="0.8" />
<text x="556.70" y="211.40" font-size="10" text-anchor="end" font-weight="normal" fill="#000" >40</text>
<line x1="560.80" y1="195.40" x2="563.60" y2="195.40" stroke="#777" stroke-width="0.8" />
<text x="556.70" y="199.00" font-size="10" text-anchor="end" font-weight="normal" fill="#000" >60</text>
<line x1="560.80" y1="183.00" x2="563.60" y2="183.00" stroke="#777" stroke-width="0.8" />
<text x="556.70" y="186.60" font-size="10" text-anchor="end" font-weight="normal" fill="#000" >80</text>
<line x1="560.80" y1="170.60" x2="563.60" y2="170.60" stroke="#777" stroke-width="0.8" />
<text x="556.70" y="174.20" font-size="10" text-anchor="end" font-weight="normal" fill="#000" >100</text>
<line x1="562.10" y1="229.50" x2="563.60" y2="229.50" stroke="#999" stroke-width="0.6" />
<line x1="562.10" y1="226.40" x2="563.60" y2="226.40" stroke="#999" stroke-width="0.6" />
<line x1="562.10" y1="223.30" x2="563.60" y2="223.30" stroke="#999" stroke-width="0.6" />
<line x1="562.10" y1="217.10" x2="563.60" y2="217.10" stroke="#999" stroke-width="0.6" />
<line x1="562.10" y1="214.00" x2="563.60" y2="214.00" stroke="#999" stroke-width="0.6" />
<line x1="562.10" y1="210.90" x2="563.60" y2="210.90" stroke="#999" stroke-width="0.6" />
<line x1="562.10" y1="204.70" x2="563.60" y2="204.70" stroke="#999" stroke-width="0.6" />
<line x1="562.10" y1="201.60" x2="563.60" y2="201.60" stroke="#999" stroke-width="0.6" />
<line x1="562.10" y1="198.50" x2="563.60" y2="198.50" stroke="#999" stroke-width="0.6" />
<line x1="562.10" y1="192.30" x2="563.60" y2="192.30" stroke="#999" stroke-width="0.6" />
<line x1="562.10" y1="189.20" x2="563.60" y2="189.20" stroke="#999" stroke-width="0.6" />
<line x1="562.10" y1="186.10" x2="563.60" y2="186.10" stroke="#999" stroke-width="0.6" />
<line x1="562.10" y1="179.90" x2="563.60" y2="179.90" stroke="#999" stroke-width="0.6" />
<line x1="562.10" y1="176.80" x2="563.60" y2="176.80" stroke="#999" stroke-width="0.6" />
<line x1="562.10" y1="173.70" x2="563.60" y2="173.70" stroke="#999" stroke-width="0.6" />
<line x1="576.10" y1="232.60" x2="576.10" y2="234.80" stroke="#666" stroke-width="0.8" />
<line x1="588.10" y1="232.60" x2="588.10" y2="234.80" stroke="#666" stroke-width="0.8" />
<line x1="616.10" y1="232.60" x2="616.10" y2="234.80" stroke="#666" stroke-width="0.8" />
<line x1="644.10" y1="232.60" x2="644.10" y2="234.80" stroke="#666" stroke-width="0.8" />
<line x1="669.80" y1="232.60" x2="669.80" y2="234.80" stroke="#666" stroke-width="0.8" />
<line x1="596.53" y1="232.60" x2="596.53" y2="234.10" stroke="#666" stroke-width="0.6" />
<line x1="601.46" y1="232.60" x2="601.46" y2="234.10" stroke="#666" stroke-width="0.6" />
<line x1="604.96" y1="232.60" x2="604.96" y2="234.10" stroke="#666" stroke-width="0.6" />
<line x1="607.67" y1="232.60" x2="607.67" y2="234.10" stroke="#666" stroke-width="0.6" />
<line x1="609.89" y1="232.60" x2="609.89" y2="234.10" stroke="#666" stroke-width="0.6" />
<line x1="611.76" y1="232.60" x2="611.76" y2="234.10" stroke="#666" stroke-width="0.6" />
<line x1="613.39" y1="232.60" x2="613.39" y2="234.10" stroke="#666" stroke-width="0.6" />
<line x1="614.82" y1="232.60" x2="614.82" y2="234.10" stroke="#666" stroke-width="0.6" />
<line x1="624.53" y1="232.60" x2="624.53" y2="234.10" stroke="#666" stroke-width="0.6" />
<line x1="629.46" y1="232.60" x2="629.46" y2="234.10" stroke="#666" stroke-width="0.6" />
<line x1="632.96" y1="232.60" x2="632.96" y2="234.10" stroke="#666" stroke-width="0.6" />
<line x1="635.67" y1="232.60" x2="635.67" y2="234.10" stroke="#666" stroke-width="0.6" />
<line x1="637.89" y1="232.60" x2="637.89" y2="234.10" stroke="#666" stroke-width="0.6" />
<line x1="639.76" y1="232.60" x2="639.76" y2="234.10" stroke="#666" stroke-width="0.6" />
<line x1="641.39" y1="232.60" x2="641.39" y2="234.10" stroke="#666" stroke-width="0.6" />
<line x1="642.82" y1="232.60" x2="642.82" y2="234.10" stroke="#666" stroke-width="0.6" />
<line x1="652.53" y1="232.60" x2="652.53" y2="234.10" stroke="#666" stroke-width="0.6" />
<line x1="657.46" y1="232.60" x2="657.46" y2="234.10" stroke="#666" stroke-width="0.6" />
<line x1="660.96" y1="232.60" x2="660.96" y2="234.10" stroke="#666" stroke-width="0.6" />
<line x1="663.67" y1="232.60" x2="663.67" y2="234.10" stroke="#666" stroke-width="0.6" />
<line x1="665.89" y1="232.60" x2="665.89" y2="234.10" stroke="#666" stroke-width="0.6" />
<line x1="667.76" y1="232.60" x2="667.76" y2="234.10" stroke="#666" stroke-width="0.6" />
<line x1="669.39" y1="232.60" x2="669.39" y2="234.10" stroke="#666" stroke-width="0.6" />
<line x1="670.82" y1="232.60" x2="670.82" y2="234.10" stroke="#666" stroke-width="0.6" />
<line x1="566.60" y1="232.60" x2="566.60" y2="234.10" stroke="#666" stroke-width="0.6" />
<line x1="569.60" y1="232.60" x2="569.60" y2="234.10" stroke="#666" stroke-width="0.6" />
<line x1="572.60" y1="232.60" x2="572.60" y2="234.10" stroke="#666" stroke-width="0.6" />
<line x1="579.60" y1="232.60" x2="579.60" y2="234.10" stroke="#666" stroke-width="0.6" />
<line x1="583.60" y1="232.60" x2="583.60" y2="234.10" stroke="#666" stroke-width="0.6" />
<text x="576.20" y="247.50" font-size="10" text-anchor="middle" font-weight="normal" fill="#000" >0</text>
<text x="582.70" y="247.50" font-size="10" fill="#000">10<tspan font-size="6.6" dy="-3.6">2</tspan></text>
<text x="610.70" y="247.50" font-size="10" fill="#000">10<tspan font-size="6.6" dy="-3.6">3</tspan></text>
<text x="638.70" y="247.50" font-size="10" fill="#000">10<tspan font-size="6.6" dy="-3.6">4</tspan></text>
<text x="664.40" y="247.50" font-size="10" fill="#000">10<tspan font-size="6.6" dy="-3.6">5</tspan></text>
<clipPath id="cd2"><rect x="563.6" y="167.4" width="120.5" height="65.19999999999999"/></clipPath>
<g clip-path="url(#cd2)">
<polygon points="569.6,232.6 569.6,232.6 569.9,232.6 570.5,232.4 571.1,231.6 571.7,230.3 572.3,228.3 572.9,223.1 573.5,216.5 574.1,209.1 574.8,201 575.5,192 576.1,183.6 576.8,177 577.4,172.5 577.9,171 578.3,171.8 578.8,174 579.3,178.7 579.9,187.3 580.6,197.3 581.2,206.4 581.9,214.6 582.5,221.3 583.2,226.4 583.7,228.7 584.3,230.2 584.9,231.4 585.5,232.1 586.2,232.4 586.6,232.6 586.6,232.6" fill="#a3a3a3"/>
<polygon points="569.6,232.6 569.6,232.6 570,232.6 570.4,232.4 570.8,231.9 571.2,231.3 571.6,230.5 572,229.3 572.4,227.4 572.8,224.2 573.2,220 573.6,215.3 574,210.7 574.4,205.9 574.8,201 575.2,195.5 575.6,190.1 576,184.9 576.4,180.7 576.8,176.8 577.2,173.9 577.6,171.8 578,171.3 578.4,172.3 578.8,174.3 579.2,177.8 579.6,182.8 580,188.3 580.4,194.3 580.8,200.1 581.2,205.7 581.6,210.8 582,215.7 582.4,220 582.8,223.4 583.2,226.4 583.6,228.1 584,229.4 584.4,230.4 584.8,231.2 585.2,231.7 585.6,232.1 586,232.6 586.4,232.6 586.4,232.6" fill="#a3a3a3"/>
<polyline points="563.6,232.6 567.6,232.6 568,232.6 568.5,232.6 569.1,232.6 569.8,232.6 570.3,232.4 571,231.4 571.6,229.9 572.2,227.6 572.9,222.4 573.5,215.9 574.1,208.5 574.8,200.4 575.5,191.4 576.1,183 576.8,176.4 577.4,171.8 577.9,170.4 578.3,171.2 578.8,173.5 579.3,178 579.9,186.4 580.6,196 581.2,205.1 581.9,213.4 582.5,220 583.2,225.2 583.7,227.7 584.3,229.6 585.1,231 585.5,231.6 586,231.9 586.5,232.1 587,232.2 587.6,232.3 588.3,232.4 588.4,232.5 587.9,232.5 587.1,232.6 586.2,232.6 585.5,232.6 585.3,232.6 585.7,232.6 587.1,232.6 589.6,232.6 593.6,232.6 593.9,232.6 594.1,232.6 594.4,232.6 594.7,232.6 595,232.6 595.3,232.6 595.6,232.6 596,232.6 596.3,232.6 596.6,232.6 597,232.6 597.3,232.6 597.7,232.6 598,232.6 598.4,232.6 598.8,232.6 599.2,232.6 599.6,232.6 600,232.6 600.4,232.6 600.8,232.6 601.2,232.6 601.6,232.6 602.1,232.6 602.5,232.6 602.9,232.6 603.4,232.6 603.8,232.6 604.3,232.6 604.7,232.6 605.2,232.6 605.7,232.6 606.2,232.6 606.6,232.6 607.1,232.6 607.6,232.6 608.1,232.6 608.6,232.6 609.1,232.6 609.6,232.6 610.2,232.6 610.7,232.6 611.2,232.6 611.7,232.6 612.3,232.6 612.8,232.6 613.3,232.6 613.9,232.6 614.4,232.6 615,232.6 615.5,232.6 616.1,232.6 616.6,232.6 617.2,232.6 617.8,232.6 618.3,232.6 618.9,232.6 619.5,232.6 620.1,232.6 620.7,232.6 621.2,232.6 621.8,232.6 622.4,232.6 623,232.6 623.6,232.6 624.2,232.6 624.8,232.6 625.4,232.6 626,232.6 626.6,232.6 627.2,232.6 627.8,232.6 628.4,232.6 629,232.6 629.7,232.6 630.3,232.6 630.9,232.6 631.5,232.6 632.1,232.6 632.7,232.6 633.3,232.6 634,232.6 634.6,232.6 635.2,232.6 635.8,232.6 636.4,232.6 637.1,232.6 637.7,232.6 638.3,232.6 638.9,232.6 639.6,232.6 640.2,232.6 640.8,232.6 641.4,232.6 642,232.6 642.7,232.6 643.3,232.6 643.9,232.6 644.5,232.6 645.1,232.6 645.7,232.6 646.4,232.6 647,232.6 647.6,232.6 648.2,232.6 648.8,232.6 649.4,232.6 650,232.6 650.6,232.6 651.2,232.6 651.8,232.6 652.4,232.6 653,232.6 653.6,232.6 654.2,232.6 654.8,232.6 655.4,232.6 656,232.6 656.5,232.6 657.1,232.6 657.7,232.6 658.3,232.6 658.9,232.6 659.4,232.6 660,232.6 660.5,232.6 661.1,232.6 661.7,232.6 662.2,232.6 662.8,232.6 663.3,232.6 663.8,232.6 664.4,232.6 664.9,232.6 665.4,232.6 666,232.6 666.5,232.6 667,232.6 667.5,232.6 668,232.6 668.5,232.6 669,232.6 669.5,232.6 670,232.6 670.5,232.6 671,232.6 671.4,232.6 671.9,232.6 672.4,232.6 672.8,232.6 673.3,232.6 673.7,232.6 674.2,232.6 674.6,232.6 675,232.6 675.5,232.6 675.9,232.6 676.3,232.6 676.7,232.6 677.1,232.6 677.5,232.6 677.9,232.6 678.2,232.6 678.6,232.6 679,232.6 679.3,232.6 679.7,232.6 680,232.6 680.4,232.6 680.7,232.6 681,232.6 681.3,232.6 681.7,232.6 682,232.6 682.2,232.6 682.5,232.6 682.8,232.6 683.1,232.6 683.3,232.6 683.6,232.6 684.1,232.6" fill="none" stroke="#161616" stroke-width="1.35" stroke-linejoin="round"/>
</g>
<line x1="684.10" y1="167.40" x2="684.10" y2="232.60" stroke="#b8b8b8" stroke-width="1" />
<line x1="563.60" y1="167.40" x2="684.50" y2="167.40" stroke="#5a5a5a" stroke-width="1.35" />
<line x1="563.60" y1="166.80" x2="563.60" y2="233.10" stroke="#858585" stroke-width="1" />
<line x1="563.10" y1="232.60" x2="684.60" y2="232.60" stroke="#555" stroke-width="0.9" />
<text x="533.20" y="199.50" font-size="10" text-anchor="middle" fill="#000" transform="rotate(-90 533.20 199.50)">% of max</text>
<text x="621.75" y="262.00" font-size="10" text-anchor="middle" font-weight="normal" fill="#000" >Anti-human IgG-AF647</text>
<line x1="390.40" y1="353.50" x2="393.20" y2="353.50" stroke="#777" stroke-width="0.8" />
<text x="386.30" y="357.10" font-size="10" text-anchor="end" font-weight="normal" fill="#000" >0</text>
<line x1="390.40" y1="341.28" x2="393.20" y2="341.28" stroke="#777" stroke-width="0.8" />
<text x="386.30" y="344.88" font-size="10" text-anchor="end" font-weight="normal" fill="#000" >20</text>
<line x1="390.40" y1="329.06" x2="393.20" y2="329.06" stroke="#777" stroke-width="0.8" />
<text x="386.30" y="332.66" font-size="10" text-anchor="end" font-weight="normal" fill="#000" >40</text>
<line x1="390.40" y1="316.84" x2="393.20" y2="316.84" stroke="#777" stroke-width="0.8" />
<text x="386.30" y="320.44" font-size="10" text-anchor="end" font-weight="normal" fill="#000" >60</text>
<line x1="390.40" y1="304.62" x2="393.20" y2="304.62" stroke="#777" stroke-width="0.8" />
<text x="386.30" y="308.22" font-size="10" text-anchor="end" font-weight="normal" fill="#000" >80</text>
<line x1="390.40" y1="292.40" x2="393.20" y2="292.40" stroke="#777" stroke-width="0.8" />
<text x="386.30" y="296.00" font-size="10" text-anchor="end" font-weight="normal" fill="#000" >100</text>
<line x1="391.70" y1="350.44" x2="393.20" y2="350.44" stroke="#999" stroke-width="0.6" />
<line x1="391.70" y1="347.39" x2="393.20" y2="347.39" stroke="#999" stroke-width="0.6" />
<line x1="391.70" y1="344.33" x2="393.20" y2="344.33" stroke="#999" stroke-width="0.6" />
<line x1="391.70" y1="338.23" x2="393.20" y2="338.23" stroke="#999" stroke-width="0.6" />
<line x1="391.70" y1="335.17" x2="393.20" y2="335.17" stroke="#999" stroke-width="0.6" />
<line x1="391.70" y1="332.12" x2="393.20" y2="332.12" stroke="#999" stroke-width="0.6" />
<line x1="391.70" y1="326.00" x2="393.20" y2="326.00" stroke="#999" stroke-width="0.6" />
<line x1="391.70" y1="322.95" x2="393.20" y2="322.95" stroke="#999" stroke-width="0.6" />
<line x1="391.70" y1="319.89" x2="393.20" y2="319.89" stroke="#999" stroke-width="0.6" />
<line x1="391.70" y1="313.78" x2="393.20" y2="313.78" stroke="#999" stroke-width="0.6" />
<line x1="391.70" y1="310.73" x2="393.20" y2="310.73" stroke="#999" stroke-width="0.6" />
<line x1="391.70" y1="307.67" x2="393.20" y2="307.67" stroke="#999" stroke-width="0.6" />
<line x1="391.70" y1="301.56" x2="393.20" y2="301.56" stroke="#999" stroke-width="0.6" />
<line x1="391.70" y1="298.51" x2="393.20" y2="298.51" stroke="#999" stroke-width="0.6" />
<line x1="391.70" y1="295.45" x2="393.20" y2="295.45" stroke="#999" stroke-width="0.6" />
<line x1="405.70" y1="353.50" x2="405.70" y2="355.70" stroke="#666" stroke-width="0.8" />
<line x1="417.70" y1="353.50" x2="417.70" y2="355.70" stroke="#666" stroke-width="0.8" />
<line x1="445.70" y1="353.50" x2="445.70" y2="355.70" stroke="#666" stroke-width="0.8" />
<line x1="473.70" y1="353.50" x2="473.70" y2="355.70" stroke="#666" stroke-width="0.8" />
<line x1="499.40" y1="353.50" x2="499.40" y2="355.70" stroke="#666" stroke-width="0.8" />
<line x1="426.13" y1="353.50" x2="426.13" y2="355.00" stroke="#666" stroke-width="0.6" />
<line x1="431.06" y1="353.50" x2="431.06" y2="355.00" stroke="#666" stroke-width="0.6" />
<line x1="434.56" y1="353.50" x2="434.56" y2="355.00" stroke="#666" stroke-width="0.6" />
<line x1="437.27" y1="353.50" x2="437.27" y2="355.00" stroke="#666" stroke-width="0.6" />
<line x1="439.49" y1="353.50" x2="439.49" y2="355.00" stroke="#666" stroke-width="0.6" />
<line x1="441.36" y1="353.50" x2="441.36" y2="355.00" stroke="#666" stroke-width="0.6" />
<line x1="442.99" y1="353.50" x2="442.99" y2="355.00" stroke="#666" stroke-width="0.6" />
<line x1="444.42" y1="353.50" x2="444.42" y2="355.00" stroke="#666" stroke-width="0.6" />
<line x1="454.13" y1="353.50" x2="454.13" y2="355.00" stroke="#666" stroke-width="0.6" />
<line x1="459.06" y1="353.50" x2="459.06" y2="355.00" stroke="#666" stroke-width="0.6" />
<line x1="462.56" y1="353.50" x2="462.56" y2="355.00" stroke="#666" stroke-width="0.6" />
<line x1="465.27" y1="353.50" x2="465.27" y2="355.00" stroke="#666" stroke-width="0.6" />
<line x1="467.49" y1="353.50" x2="467.49" y2="355.00" stroke="#666" stroke-width="0.6" />
<line x1="469.36" y1="353.50" x2="469.36" y2="355.00" stroke="#666" stroke-width="0.6" />
<line x1="470.99" y1="353.50" x2="470.99" y2="355.00" stroke="#666" stroke-width="0.6" />
<line x1="472.42" y1="353.50" x2="472.42" y2="355.00" stroke="#666" stroke-width="0.6" />
<line x1="482.13" y1="353.50" x2="482.13" y2="355.00" stroke="#666" stroke-width="0.6" />
<line x1="487.06" y1="353.50" x2="487.06" y2="355.00" stroke="#666" stroke-width="0.6" />
<line x1="490.56" y1="353.50" x2="490.56" y2="355.00" stroke="#666" stroke-width="0.6" />
<line x1="493.27" y1="353.50" x2="493.27" y2="355.00" stroke="#666" stroke-width="0.6" />
<line x1="495.49" y1="353.50" x2="495.49" y2="355.00" stroke="#666" stroke-width="0.6" />
<line x1="497.36" y1="353.50" x2="497.36" y2="355.00" stroke="#666" stroke-width="0.6" />
<line x1="498.99" y1="353.50" x2="498.99" y2="355.00" stroke="#666" stroke-width="0.6" />
<line x1="500.42" y1="353.50" x2="500.42" y2="355.00" stroke="#666" stroke-width="0.6" />
<line x1="396.20" y1="353.50" x2="396.20" y2="355.00" stroke="#666" stroke-width="0.6" />
<line x1="399.20" y1="353.50" x2="399.20" y2="355.00" stroke="#666" stroke-width="0.6" />
<line x1="402.20" y1="353.50" x2="402.20" y2="355.00" stroke="#666" stroke-width="0.6" />
<line x1="409.20" y1="353.50" x2="409.20" y2="355.00" stroke="#666" stroke-width="0.6" />
<line x1="413.20" y1="353.50" x2="413.20" y2="355.00" stroke="#666" stroke-width="0.6" />
<text x="405.80" y="368.40" font-size="10" text-anchor="middle" font-weight="normal" fill="#000" >0</text>
<text x="412.30" y="368.40" font-size="10" fill="#000">10<tspan font-size="6.6" dy="-3.6">2</tspan></text>
<text x="440.30" y="368.40" font-size="10" fill="#000">10<tspan font-size="6.6" dy="-3.6">3</tspan></text>
<text x="468.30" y="368.40" font-size="10" fill="#000">10<tspan font-size="6.6" dy="-3.6">4</tspan></text>
<text x="494.00" y="368.40" font-size="10" fill="#000">10<tspan font-size="6.6" dy="-3.6">5</tspan></text>
<clipPath id="cd3"><rect x="393.2" y="289.2" width="120.50000000000006" height="64.30000000000001"/></clipPath>
<g clip-path="url(#cd3)">
<polygon points="400.2,353.5 400.2,353.5 400.8,353.5 401.6,353.2 402.2,349.8 402.9,344.8 403.5,338.2 404.1,329.2 404.7,318.7 405.2,309.5 405.7,301.5 406.2,294.7 406.7,292.4 407.2,297.1 407.8,306.3 408.3,315.6 408.9,324 409.5,332.4 410,339.4 410.7,346.6 411.2,351.1 411.6,352.9 411.9,353.3 412.3,353.5 412.7,353.5 412.7,353.5" fill="#a3a3a3"/>
<polygon points="400.2,353.5 400.2,353.5 400.6,353.5 401,353.4 401.4,353.4 401.8,353.2 402.2,353.1 402.6,352.9 403,352.6 403.4,352.4 403.8,352 404.2,351.7 404.6,351.1 405,350.6 405.4,349.9 405.8,349.3 406.2,348.8 406.6,348.5 407,348.1 407.4,347.9 407.8,347.8 408.2,347.8 408.6,348 409,348.5 409.4,349.1 409.8,349.9 410.2,350.5 410.6,351.1 411,351.2 411.4,352 411.8,353.2 412.2,353.4 412.6,353.5 412.6,353.5" fill="#a3a3a3"/>
<polyline points="393.2,353.5 398.2,353.5 398.6,353.5 399.1,353.5 399.7,353.5 400.4,353.5 401,353.4 401.6,353.3 402.2,353.1 402.7,352.8 403.2,352.5 403.7,352.1 404.2,351.7 404.9,350.8 405.5,349.8 406.1,348.9 406.8,348.3 407.4,347.9 408,347.7 408.7,348.1 409.3,348.9 409.9,350.1 410.6,351.1 411.2,351.3 411.8,351.2 412.5,351.1 413,350.9 413.5,350.6 414,350.3 414.5,349.8 415.2,349.1 415.8,348.1 416.4,347 417.1,345.4 417.7,343.1 418.3,339.4 419,335.2 419.7,331.2 420.3,327.2 420.9,323.6 421.5,319.9 421.9,315.1 422.4,310.7 423,308.2 423.7,306.5 424.3,304.6 424.8,302.8 425.4,301.1 426,299.1 426.6,295.6 427.3,293 427.9,294.3 428.6,296.1 429.2,294.5 429.9,293 430.6,293.9 431.2,296.1 431.8,299.1 432.5,302.8 433.1,305.3 433.8,308 434.4,310.7 435.1,314.7 435.7,318.7 436.3,322.9 437,327.2 437.6,329.9 438.2,332.5 438.9,335.2 439.4,337.5 439.9,339.9 440.4,342.3 440.9,344.3 441.5,346.6 442.1,348.5 442.8,349.8 443.3,350.4 443.7,350.6 444.2,350.8 444.8,350.9 445.4,351.1 445.9,351.2 446.3,351.4 446.8,351.6 447.4,351.8 447.9,352 448.5,352.1 449.2,352.3 449.5,352.4 449.5,352.4 449.3,352.5 449.1,352.6 448.9,352.7 448.8,352.8 448.9,352.8 449.3,352.9 450,353 451.2,353 452.9,353.1 455.2,353.1 455.5,353.1 455.8,353.1 456.1,353.1 456.4,353.2 456.7,353.2 457.1,353.2 457.4,353.2 457.8,353.2 458.1,353.2 458.5,353.2 458.9,353.2 459.3,353.2 459.7,353.2 460.1,353.2 460.6,353.2 461,353.2 461.5,353.2 461.9,353.2 462.4,353.2 462.8,353.2 463.3,353.2 463.8,353.2 464.3,353.2 464.8,353.2 465.3,353.2 465.8,353.2 466.3,353.2 466.9,353.2 467.4,353.2 467.9,353.2 468.5,353.2 469,353.3 469.6,353.3 470.2,353.3 470.7,353.3 471.3,353.3 471.9,353.3 472.4,353.3 473,353.3 473.6,353.3 474.2,353.3 474.8,353.3 475.4,353.3 476,353.3 476.6,353.3 477.2,353.3 477.8,353.3 478.4,353.3 479,353.3 479.6,353.3 480.3,353.3 480.9,353.3 481.5,353.3 482.1,353.3 482.7,353.3 483.3,353.3 484,353.3 484.6,353.3 485.2,353.3 485.8,353.3 486.4,353.3 487,353.3 487.7,353.3 488.3,353.3 488.9,353.3 489.5,353.3 490.1,353.3 490.7,353.3 491.3,353.3 491.9,353.3 492.5,353.3 493.1,353.3 493.7,353.3 494.3,353.3 494.9,353.3 495.5,353.3 496,353.3 496.6,353.3 497.2,353.3 497.8,353.3 498.3,353.3 498.9,353.3 499.4,353.3 500,353.3 500.5,353.3 501,353.3 501.6,353.3 502.1,353.3 502.6,353.4 503.1,353.4 503.6,353.4 504.1,353.4 504.6,353.4 505.1,353.4 505.5,353.4 506,353.4 506.4,353.4 506.9,353.4 507.3,353.4 507.7,353.4 508.2,353.4 508.6,353.4 509,353.4 509.4,353.4 509.7,353.4 510.1,353.4 510.5,353.4 510.8,353.4 511.2,353.4 511.5,353.4 511.8,353.4 512.1,353.4 512.4,353.4 512.7,353.4 512.9,353.4 513.2,353.4 513.7,353.4" fill="none" stroke="#161616" stroke-width="1.35" stroke-linejoin="round"/>
</g>
<line x1="513.70" y1="289.20" x2="513.70" y2="353.50" stroke="#b8b8b8" stroke-width="1" />
<line x1="393.20" y1="289.20" x2="514.10" y2="289.20" stroke="#5a5a5a" stroke-width="1.35" />
<line x1="393.20" y1="288.60" x2="393.20" y2="354.00" stroke="#858585" stroke-width="1" />
<line x1="392.70" y1="353.50" x2="514.20" y2="353.50" stroke="#555" stroke-width="0.9" />
<text x="362.80" y="320.85" font-size="10" text-anchor="middle" fill="#000" transform="rotate(-90 362.80 320.85)">% of max</text>
<text x="451.35" y="382.90" font-size="10" text-anchor="middle" font-weight="normal" fill="#000" >Anti-human IgG-AF647</text>
<line x1="561.10" y1="353.50" x2="563.90" y2="353.50" stroke="#777" stroke-width="0.8" />
<text x="557.00" y="357.10" font-size="10" text-anchor="end" font-weight="normal" fill="#000" >0</text>
<line x1="561.10" y1="341.28" x2="563.90" y2="341.28" stroke="#777" stroke-width="0.8" />
<text x="557.00" y="344.88" font-size="10" text-anchor="end" font-weight="normal" fill="#000" >20</text>
<line x1="561.10" y1="329.06" x2="563.90" y2="329.06" stroke="#777" stroke-width="0.8" />
<text x="557.00" y="332.66" font-size="10" text-anchor="end" font-weight="normal" fill="#000" >40</text>
<line x1="561.10" y1="316.84" x2="563.90" y2="316.84" stroke="#777" stroke-width="0.8" />
<text x="557.00" y="320.44" font-size="10" text-anchor="end" font-weight="normal" fill="#000" >60</text>
<line x1="561.10" y1="304.62" x2="563.90" y2="304.62" stroke="#777" stroke-width="0.8" />
<text x="557.00" y="308.22" font-size="10" text-anchor="end" font-weight="normal" fill="#000" >80</text>
<line x1="561.10" y1="292.40" x2="563.90" y2="292.40" stroke="#777" stroke-width="0.8" />
<text x="557.00" y="296.00" font-size="10" text-anchor="end" font-weight="normal" fill="#000" >100</text>
<line x1="562.40" y1="350.44" x2="563.90" y2="350.44" stroke="#999" stroke-width="0.6" />
<line x1="562.40" y1="347.39" x2="563.90" y2="347.39" stroke="#999" stroke-width="0.6" />
<line x1="562.40" y1="344.33" x2="563.90" y2="344.33" stroke="#999" stroke-width="0.6" />
<line x1="562.40" y1="338.23" x2="563.90" y2="338.23" stroke="#999" stroke-width="0.6" />
<line x1="562.40" y1="335.17" x2="563.90" y2="335.17" stroke="#999" stroke-width="0.6" />
<line x1="562.40" y1="332.12" x2="563.90" y2="332.12" stroke="#999" stroke-width="0.6" />
<line x1="562.40" y1="326.00" x2="563.90" y2="326.00" stroke="#999" stroke-width="0.6" />
<line x1="562.40" y1="322.95" x2="563.90" y2="322.95" stroke="#999" stroke-width="0.6" />
<line x1="562.40" y1="319.89" x2="563.90" y2="319.89" stroke="#999" stroke-width="0.6" />
<line x1="562.40" y1="313.78" x2="563.90" y2="313.78" stroke="#999" stroke-width="0.6" />
<line x1="562.40" y1="310.73" x2="563.90" y2="310.73" stroke="#999" stroke-width="0.6" />
<line x1="562.40" y1="307.67" x2="563.90" y2="307.67" stroke="#999" stroke-width="0.6" />
<line x1="562.40" y1="301.56" x2="563.90" y2="301.56" stroke="#999" stroke-width="0.6" />
<line x1="562.40" y1="298.51" x2="563.90" y2="298.51" stroke="#999" stroke-width="0.6" />
<line x1="562.40" y1="295.45" x2="563.90" y2="295.45" stroke="#999" stroke-width="0.6" />
<line x1="576.40" y1="353.50" x2="576.40" y2="355.70" stroke="#666" stroke-width="0.8" />
<line x1="588.40" y1="353.50" x2="588.40" y2="355.70" stroke="#666" stroke-width="0.8" />
<line x1="616.40" y1="353.50" x2="616.40" y2="355.70" stroke="#666" stroke-width="0.8" />
<line x1="644.40" y1="353.50" x2="644.40" y2="355.70" stroke="#666" stroke-width="0.8" />
<line x1="670.10" y1="353.50" x2="670.10" y2="355.70" stroke="#666" stroke-width="0.8" />
<line x1="596.83" y1="353.50" x2="596.83" y2="355.00" stroke="#666" stroke-width="0.6" />
<line x1="601.76" y1="353.50" x2="601.76" y2="355.00" stroke="#666" stroke-width="0.6" />
<line x1="605.26" y1="353.50" x2="605.26" y2="355.00" stroke="#666" stroke-width="0.6" />
<line x1="607.97" y1="353.50" x2="607.97" y2="355.00" stroke="#666" stroke-width="0.6" />
<line x1="610.19" y1="353.50" x2="610.19" y2="355.00" stroke="#666" stroke-width="0.6" />
<line x1="612.06" y1="353.50" x2="612.06" y2="355.00" stroke="#666" stroke-width="0.6" />
<line x1="613.69" y1="353.50" x2="613.69" y2="355.00" stroke="#666" stroke-width="0.6" />
<line x1="615.12" y1="353.50" x2="615.12" y2="355.00" stroke="#666" stroke-width="0.6" />
<line x1="624.83" y1="353.50" x2="624.83" y2="355.00" stroke="#666" stroke-width="0.6" />
<line x1="629.76" y1="353.50" x2="629.76" y2="355.00" stroke="#666" stroke-width="0.6" />
<line x1="633.26" y1="353.50" x2="633.26" y2="355.00" stroke="#666" stroke-width="0.6" />
<line x1="635.97" y1="353.50" x2="635.97" y2="355.00" stroke="#666" stroke-width="0.6" />
<line x1="638.19" y1="353.50" x2="638.19" y2="355.00" stroke="#666" stroke-width="0.6" />
<line x1="640.06" y1="353.50" x2="640.06" y2="355.00" stroke="#666" stroke-width="0.6" />
<line x1="641.69" y1="353.50" x2="641.69" y2="355.00" stroke="#666" stroke-width="0.6" />
<line x1="643.12" y1="353.50" x2="643.12" y2="355.00" stroke="#666" stroke-width="0.6" />
<line x1="652.83" y1="353.50" x2="652.83" y2="355.00" stroke="#666" stroke-width="0.6" />
<line x1="657.76" y1="353.50" x2="657.76" y2="355.00" stroke="#666" stroke-width="0.6" />
<line x1="661.26" y1="353.50" x2="661.26" y2="355.00" stroke="#666" stroke-width="0.6" />
<line x1="663.97" y1="353.50" x2="663.97" y2="355.00" stroke="#666" stroke-width="0.6" />
<line x1="666.19" y1="353.50" x2="666.19" y2="355.00" stroke="#666" stroke-width="0.6" />
<line x1="668.06" y1="353.50" x2="668.06" y2="355.00" stroke="#666" stroke-width="0.6" />
<line x1="669.69" y1="353.50" x2="669.69" y2="355.00" stroke="#666" stroke-width="0.6" />
<line x1="671.12" y1="353.50" x2="671.12" y2="355.00" stroke="#666" stroke-width="0.6" />
<line x1="566.90" y1="353.50" x2="566.90" y2="355.00" stroke="#666" stroke-width="0.6" />
<line x1="569.90" y1="353.50" x2="569.90" y2="355.00" stroke="#666" stroke-width="0.6" />
<line x1="572.90" y1="353.50" x2="572.90" y2="355.00" stroke="#666" stroke-width="0.6" />
<line x1="579.90" y1="353.50" x2="579.90" y2="355.00" stroke="#666" stroke-width="0.6" />
<line x1="583.90" y1="353.50" x2="583.90" y2="355.00" stroke="#666" stroke-width="0.6" />
<text x="576.50" y="368.40" font-size="10" text-anchor="middle" font-weight="normal" fill="#000" >0</text>
<text x="583.00" y="368.40" font-size="10" fill="#000">10<tspan font-size="6.6" dy="-3.6">2</tspan></text>
<text x="611.00" y="368.40" font-size="10" fill="#000">10<tspan font-size="6.6" dy="-3.6">3</tspan></text>
<text x="639.00" y="368.40" font-size="10" fill="#000">10<tspan font-size="6.6" dy="-3.6">4</tspan></text>
<text x="664.70" y="368.40" font-size="10" fill="#000">10<tspan font-size="6.6" dy="-3.6">5</tspan></text>
<clipPath id="cd4"><rect x="563.9" y="289.2" width="120.5" height="64.30000000000001"/></clipPath>
<g clip-path="url(#cd4)">
<polygon points="569.9,353.5 569.9,353.5 570.2,353.5 570.8,353.3 571.4,352.5 572,351.3 572.6,349.2 573.2,344.1 573.8,337.6 574.4,330.3 575.1,322.3 575.8,313.5 576.4,305.2 577.1,298.7 577.7,294.2 578.2,292.8 578.6,293.6 579.1,295.8 579.6,300.3 580.2,308.9 580.9,318.7 581.5,327.6 582.2,335.8 582.8,342.3 583.5,347.4 584,349.7 584.6,351.2 585.2,352.3 585.8,353 586.5,353.3 586.9,353.5 586.9,353.5" fill="#a3a3a3"/>
<polygon points="569.9,353.5 569.9,353.5 570.3,353.5 570.7,353.3 571.1,352.8 571.5,352.2 571.9,351.5 572.3,350.3 572.7,348.4 573.1,345.2 573.5,341 573.9,336.5 574.3,331.9 574.7,327.2 575.1,322.3 575.5,316.9 575.9,311.6 576.3,306.5 576.7,302.3 577.1,298.5 577.5,295.7 577.9,293.6 578.3,293.1 578.7,294.1 579.1,296 579.5,299.5 579.9,304.4 580.3,309.9 580.7,315.7 581.1,321.4 581.5,327 581.9,332 582.3,336.8 582.7,341 583.1,344.4 583.5,347.4 583.9,349.1 584.3,350.3 584.7,351.3 585.1,352.1 585.5,352.6 585.9,353 586.3,353.5 586.7,353.5 586.7,353.5" fill="#a3a3a3"/>
<polyline points="563.9,353.5 567.9,353.5 568.3,353.5 568.8,353.5 569.4,353.5 570.1,353.5 570.6,353.3 571.3,352.3 571.9,350.8 572.5,348.6 573.2,343.5 573.8,337 574.4,329.7 575.1,321.7 575.8,312.9 576.4,304.6 577.1,298.1 577.7,293.6 578.2,292.2 578.6,293 579.1,295.2 579.6,299.7 580.2,307.9 580.9,317.5 581.5,326.4 582.2,334.6 582.8,341.1 583.5,346.2 584,348.7 584.6,350.6 585.4,352 585.8,352.5 586.3,352.8 586.8,353 587.3,353.1 587.9,353.2 588.6,353.3 588.7,353.4 588.2,353.4 587.4,353.5 586.5,353.5 585.8,353.5 585.6,353.5 586,353.5 587.4,353.5 589.9,353.5 593.9,353.5 594.2,353.5 594.4,353.5 594.7,353.5 595,353.5 595.3,353.5 595.6,353.5 595.9,353.5 596.3,353.5 596.6,353.5 596.9,353.5 597.3,353.5 597.6,353.5 598,353.5 598.3,353.5 598.7,353.5 599.1,353.5 599.5,353.5 599.9,353.5 600.3,353.5 600.7,353.5 601.1,353.5 601.5,353.5 601.9,353.5 602.4,353.5 602.8,353.5 603.2,353.5 603.7,353.5 604.1,353.5 604.6,353.5 605,353.5 605.5,353.5 606,353.5 606.5,353.5 606.9,353.5 607.4,353.5 607.9,353.5 608.4,353.5 608.9,353.5 609.4,353.5 609.9,353.5 610.5,353.5 611,353.5 611.5,353.5 612,353.5 612.6,353.5 613.1,353.5 613.6,353.5 614.2,353.5 614.7,353.5 615.3,353.5 615.8,353.5 616.4,353.5 616.9,353.5 617.5,353.5 618.1,353.5 618.6,353.5 619.2,353.5 619.8,353.5 620.4,353.5 621,353.5 621.5,353.5 622.1,353.5 622.7,353.5 623.3,353.5 623.9,353.5 624.5,353.5 625.1,353.5 625.7,353.5 626.3,353.5 626.9,353.5 627.5,353.5 628.1,353.5 628.7,353.5 629.3,353.5 630,353.5 630.6,353.5 631.2,353.5 631.8,353.5 632.4,353.5 633,353.5 633.6,353.5 634.3,353.5 634.9,353.5 635.5,353.5 636.1,353.5 636.7,353.5 637.4,353.5 638,353.5 638.6,353.5 639.2,353.5 639.9,353.5 640.5,353.5 641.1,353.5 641.7,353.5 642.3,353.5 643,353.5 643.6,353.5 644.2,353.5 644.8,353.5 645.4,353.5 646,353.5 646.7,353.5 647.3,353.5 647.9,353.5 648.5,353.5 649.1,353.5 649.7,353.5 650.3,353.5 650.9,353.5 651.5,353.5 652.1,353.5 652.7,353.5 653.3,353.5 653.9,353.5 654.5,353.5 655.1,353.5 655.7,353.5 656.3,353.5 656.8,353.5 657.4,353.5 658,353.5 658.6,353.5 659.2,353.5 659.7,353.5 660.3,353.5 660.8,353.5 661.4,353.5 662,353.5 662.5,353.5 663.1,353.5 663.6,353.5 664.1,353.5 664.7,353.5 665.2,353.5 665.7,353.5 666.3,353.5 666.8,353.5 667.3,353.5 667.8,353.5 668.3,353.5 668.8,353.5 669.3,353.5 669.8,353.5 670.3,353.5 670.8,353.5 671.3,353.5 671.7,353.5 672.2,353.5 672.7,353.5 673.1,353.5 673.6,353.5 674,353.5 674.5,353.5 674.9,353.5 675.3,353.5 675.8,353.5 676.2,353.5 676.6,353.5 677,353.5 677.4,353.5 677.8,353.5 678.2,353.5 678.5,353.5 678.9,353.5 679.3,353.5 679.6,353.5 680,353.5 680.3,353.5 680.7,353.5 681,353.5 681.3,353.5 681.6,353.5 682,353.5 682.3,353.5 682.5,353.5 682.8,353.5 683.1,353.5 683.4,353.5 683.6,353.5 683.9,353.5 684.4,353.5" fill="none" stroke="#161616" stroke-width="1.35" stroke-linejoin="round"/>
</g>
<line x1="684.40" y1="289.20" x2="684.40" y2="353.50" stroke="#b8b8b8" stroke-width="1" />
<line x1="563.90" y1="289.20" x2="684.80" y2="289.20" stroke="#5a5a5a" stroke-width="1.35" />
<line x1="563.90" y1="288.60" x2="563.90" y2="354.00" stroke="#858585" stroke-width="1" />
<line x1="563.40" y1="353.50" x2="684.90" y2="353.50" stroke="#555" stroke-width="0.9" />
<text x="533.50" y="320.85" font-size="10" text-anchor="middle" fill="#000" transform="rotate(-90 533.50 320.85)">% of max</text>
<text x="622.05" y="382.90" font-size="10" text-anchor="middle" font-weight="normal" fill="#000" >Anti-human IgG-AF647</text>
<text x="0.30" y="7.90" font-size="14.3" text-anchor="start" font-weight="bold" fill="#000" >a</text>
<text x="0.30" y="155.40" font-size="14.3" text-anchor="start" font-weight="bold" fill="#000" >b</text>
<text x="176.40" y="155.40" font-size="14.3" text-anchor="start" font-weight="bold" fill="#000" >c</text>
<text x="353.20" y="155.70" font-size="14.3" text-anchor="start" font-weight="bold" fill="#000" >d</text>
<text x="352.80" y="429.80" font-size="14.3" text-anchor="start" font-weight="bold" fill="#000" >e</text>
<text x="18.31" y="12.00" font-size="10" fill="#000" xml:space="preserve"><tspan dy="0">A24</tspan><tspan dy="-4.6" font-size="7">±</tspan><tspan dy="4.6"> cell lines</tspan></text>
<line x1="18.31" y1="12.90" x2="36.11" y2="12.90" stroke="#8a8a8a" stroke-width="0.9" />
<line x1="36.11" y1="8.10" x2="39.95" y2="8.10" stroke="#8a8a8a" stroke-width="0.7" />
<line x1="39.95" y1="12.90" x2="81.09" y2="12.90" stroke="#8a8a8a" stroke-width="0.9" />
<text x="18.03" y="158.80" font-size="10" fill="#000" xml:space="preserve"><tspan dy="0">A24</tspan><tspan dy="-4.6" font-size="7">−</tspan><tspan dy="4.6"> cell lines</tspan></text>
<line x1="18.03" y1="159.70" x2="35.83" y2="159.70" stroke="#8a8a8a" stroke-width="0.9" />
<line x1="35.83" y1="154.90" x2="39.92" y2="154.90" stroke="#8a8a8a" stroke-width="0.7" />
<line x1="39.92" y1="159.70" x2="81.07" y2="159.70" stroke="#8a8a8a" stroke-width="0.9" />
<text x="218.11" y="158.70" font-size="10" fill="#000" xml:space="preserve"><tspan dy="0">A24 transduced cell lines</tspan></text>
<line x1="218.11" y1="159.60" x2="329.29" y2="159.60" stroke="#8a8a8a" stroke-width="0.9" />
<text x="67.46" y="25.40" font-size="10" fill="#000" xml:space="preserve"><tspan dy="0">SaoS2 (p53</tspan><tspan dy="-4.6" font-size="7">null</tspan><tspan dy="4.6">)</tspan></text>
<line x1="67.46" y1="26.30" x2="120.29" y2="26.30" stroke="#8a8a8a" stroke-width="0.9" />
<line x1="120.29" y1="21.50" x2="131.20" y2="21.50" stroke="#8a8a8a" stroke-width="0.7" />
<text x="224.09" y="25.40" font-size="10" fill="#000" xml:space="preserve"><tspan dy="0">HepG2 (p53</tspan><tspan dy="-4.6" font-size="7">wt</tspan><tspan dy="4.6">)</tspan></text>
<line x1="224.09" y1="26.30" x2="278.57" y2="26.30" stroke="#8a8a8a" stroke-width="0.9" />
<line x1="278.57" y1="21.50" x2="285.57" y2="21.50" stroke="#8a8a8a" stroke-width="0.7" />
<text x="371.55" y="25.40" font-size="10" fill="#000" xml:space="preserve"><tspan dy="0">HT29 (p53</tspan><tspan dy="-4.6" font-size="7">R273H</tspan><tspan dy="4.6">)</tspan></text>
<line x1="371.55" y1="26.30" x2="418.80" y2="26.30" stroke="#8a8a8a" stroke-width="0.9" />
<line x1="418.80" y1="21.50" x2="440.60" y2="21.50" stroke="#8a8a8a" stroke-width="0.7" />
<text x="41.85" y="176.20" font-size="10" fill="#000" xml:space="preserve"><tspan dy="0">MDA-MB-231 (p53</tspan><tspan dy="-4.6" font-size="7">R280K</tspan><tspan dy="4.6">)</tspan></text>
<line x1="41.85" y1="177.10" x2="125.20" y2="177.10" stroke="#8a8a8a" stroke-width="0.9" />
<line x1="125.20" y1="172.30" x2="146.61" y2="172.30" stroke="#8a8a8a" stroke-width="0.7" />
<text x="56.55" y="283.00" font-size="10" fill="#000" xml:space="preserve"><tspan dy="0">BT-474 (p53</tspan><tspan dy="-4.6" font-size="7">R280K</tspan><tspan dy="4.6">)</tspan></text>
<line x1="56.55" y1="283.90" x2="111.60" y2="283.90" stroke="#8a8a8a" stroke-width="0.9" />
<line x1="111.60" y1="279.10" x2="133.00" y2="279.10" stroke="#8a8a8a" stroke-width="0.7" />
<text x="68.45" y="389.60" font-size="10" fill="#000" xml:space="preserve"><tspan dy="0">A549 (p53</tspan><tspan dy="-4.6" font-size="7">wt</tspan><tspan dy="4.6">)</tspan></text>
<line x1="68.45" y1="390.50" x2="114.61" y2="390.50" stroke="#8a8a8a" stroke-width="0.9" />
<line x1="114.61" y1="385.70" x2="121.61" y2="385.70" stroke="#8a8a8a" stroke-width="0.7" />
<text x="64.60" y="496.30" font-size="10" fill="#000" xml:space="preserve"><tspan dy="0">MCF-7 (p53</tspan><tspan dy="-4.6" font-size="7">wt</tspan><tspan dy="4.6">)</tspan></text>
<line x1="64.60" y1="497.20" x2="117.96" y2="497.20" stroke="#8a8a8a" stroke-width="0.9" />
<line x1="117.96" y1="492.40" x2="124.96" y2="492.40" stroke="#8a8a8a" stroke-width="0.7" />
<text x="230.92" y="176.40" font-size="10" fill="#000" xml:space="preserve"><tspan dy="0">231-A24 (p53</tspan><tspan dy="-4.6" font-size="7">R280K</tspan><tspan dy="4.6">)</tspan></text>
<line x1="230.92" y1="177.30" x2="291.53" y2="177.30" stroke="#8a8a8a" stroke-width="0.9" />
<line x1="291.53" y1="172.50" x2="312.94" y2="172.50" stroke="#8a8a8a" stroke-width="0.7" />
<text x="222.89" y="283.00" font-size="10" fill="#000" xml:space="preserve"><tspan dy="0">BT-474-A24 (p53</tspan><tspan dy="-4.6" font-size="7">R280K</tspan><tspan dy="4.6">)</tspan></text>
<line x1="222.89" y1="283.90" x2="299.06" y2="283.90" stroke="#8a8a8a" stroke-width="0.9" />
<line x1="299.06" y1="279.10" x2="320.47" y2="279.10" stroke="#8a8a8a" stroke-width="0.7" />
<text x="234.64" y="390.80" font-size="10" fill="#000" xml:space="preserve"><tspan dy="0">A549-A24 (p53</tspan><tspan dy="-4.6" font-size="7">wt</tspan><tspan dy="4.6">)</tspan></text>
<line x1="234.64" y1="391.70" x2="301.92" y2="391.70" stroke="#8a8a8a" stroke-width="0.9" />
<line x1="301.92" y1="386.90" x2="308.92" y2="386.90" stroke="#8a8a8a" stroke-width="0.7" />
<text x="231.69" y="496.80" font-size="10" fill="#000" xml:space="preserve"><tspan dy="0">MCF-7-A24 (p53</tspan><tspan dy="-4.6" font-size="7">wt</tspan><tspan dy="4.6">)</tspan></text>
<line x1="231.69" y1="497.70" x2="306.16" y2="497.70" stroke="#8a8a8a" stroke-width="0.9" />
<line x1="306.16" y1="492.90" x2="313.16" y2="492.90" stroke="#8a8a8a" stroke-width="0.7" />
<text x="401.24" y="160.70" font-size="10" fill="#000" xml:space="preserve"><tspan dy="0">HLA-A24 expression</tspan></text>
<line x1="401.24" y1="161.60" x2="492.96" y2="161.60" stroke="#8a8a8a" stroke-width="0.9" />
<text x="600.42" y="160.70" font-size="10" fill="#000" xml:space="preserve"><tspan dy="0">Unpulsed</tspan></text>
<line x1="600.42" y1="161.60" x2="642.68" y2="161.60" stroke="#8a8a8a" stroke-width="0.9" />
<text x="395.99" y="280.70" font-size="10" fill="#000" xml:space="preserve"><tspan dy="0">10 µM p53</tspan><tspan dy="2.6" font-size="7">125–134</tspan><tspan dy="-2.6"> peptide</tspan></text>
<line x1="395.99" y1="281.60" x2="443.45" y2="281.60" stroke="#8a8a8a" stroke-width="0.9" />
<line x1="443.45" y1="284.00" x2="470.72" y2="284.00" stroke="#8a8a8a" stroke-width="0.7" />
<line x1="470.72" y1="281.60" x2="506.31" y2="281.60" stroke="#8a8a8a" stroke-width="0.9" />
<text x="567.01" y="280.70" font-size="10" fill="#000" xml:space="preserve"><tspan dy="0">10 µM control peptide</tspan></text>
<line x1="567.01" y1="281.60" x2="663.39" y2="281.60" stroke="#8a8a8a" stroke-width="0.9" />
<text x="419.30" y="431.40" font-size="10" fill="#000" xml:space="preserve"><tspan dy="0">Resting</tspan></text>
<line x1="419.30" y1="432.30" x2="453.20" y2="432.30" stroke="#8a8a8a" stroke-width="0.9" />
<text x="409.87" y="443.80" font-size="10" fill="#000" xml:space="preserve"><tspan dy="0">A24</tspan><tspan dy="-1.8" font-size="7">±</tspan><tspan dy="1.8"> T cells</tspan></text>
<line x1="409.87" y1="444.70" x2="427.67" y2="444.70" stroke="#8a8a8a" stroke-width="0.9" />
<line x1="431.51" y1="444.70" x2="462.83" y2="444.70" stroke="#8a8a8a" stroke-width="0.9" />
<text x="517.78" y="431.40" font-size="10" fill="#000" xml:space="preserve"><tspan dy="0">Activated</tspan></text>
<line x1="517.78" y1="432.30" x2="558.92" y2="432.30" stroke="#8a8a8a" stroke-width="0.9" />
<text x="511.87" y="443.80" font-size="10" fill="#000" xml:space="preserve"><tspan dy="0">A24</tspan><tspan dy="-1.8" font-size="7">±</tspan><tspan dy="1.8"> T cells</tspan></text>
<line x1="511.87" y1="444.70" x2="529.67" y2="444.70" stroke="#8a8a8a" stroke-width="0.9" />
<line x1="533.51" y1="444.70" x2="564.83" y2="444.70" stroke="#8a8a8a" stroke-width="0.9" />
<text x="619.83" y="431.40" font-size="10" fill="#000" xml:space="preserve"><tspan dy="0">Activated</tspan></text>
<line x1="619.83" y1="432.30" x2="660.97" y2="432.30" stroke="#8a8a8a" stroke-width="0.9" />
<text x="613.80" y="443.80" font-size="10" fill="#000" xml:space="preserve"><tspan dy="0">A24</tspan><tspan dy="-1.8" font-size="7">−</tspan><tspan dy="1.8"> T cells</tspan></text>
<line x1="613.80" y1="444.70" x2="631.60" y2="444.70" stroke="#8a8a8a" stroke-width="0.9" />
<line x1="631.60" y1="442.70" x2="635.69" y2="442.70" stroke="#8a8a8a" stroke-width="0.7" />
<line x1="635.69" y1="444.70" x2="667.00" y2="444.70" stroke="#8a8a8a" stroke-width="0.9" />
<defs><filter id="bl1" x="-50%" y="-50%" width="200%" height="200%"><feGaussianBlur stdDeviation="0.8"/></filter><filter id="bl2" x="-50%" y="-50%" width="200%" height="200%"><feGaussianBlur stdDeviation="2"/></filter><filter id="bl3" x="-50%" y="-50%" width="200%" height="200%"><feGaussianBlur stdDeviation="3.5"/></filter></defs>
<clipPath id="e1"><rect x="395.2" y="448.6" width="85.0" height="85.39999999999998"/></clipPath>
<g clip-path="url(#e1)">
<ellipse cx="405.5" cy="522.4" rx="4.0" ry="3.9" fill="#000" fill-opacity="1" filter="url(#bl1)"/>
<ellipse cx="405.4" cy="518.3" rx="2.7" ry="3.4" fill="#000" fill-opacity="1" filter="url(#bl1)"/>
<path d="M403.1 522.2h0.8M407.5 520.0h0.8M402.8 521.1h0.8M406.5 524.0h0.8M403.1 518.1h0.8M406.9 522.5h0.8M408.6 523.8h0.8M405.3 520.6h0.8M410.6 520.6h0.8M403.9 518.5h0.8M405.7 521.7h0.8M404.8 521.1h0.8M406.0 523.0h0.8M407.7 521.8h0.8M401.9 523.1h0.8M402.7 520.9h0.8M402.6 521.3h0.8M403.9 521.8h0.8M412.1 521.2h0.8M407.2 518.0h0.8M404.9 523.0h0.8M405.3 522.2h0.8M405.7 518.8h0.8M406.6 519.3h0.8M409.2 520.0h0.8M406.9 521.3h0.8M407.4 519.8h0.8M407.5 521.0h0.8M408.0 522.9h0.8M405.8 519.3h0.8M407.0 522.5h0.8M408.8 520.4h0.8M406.6 522.6h0.8M406.1 521.8h0.8M405.9 519.8h0.8M403.5 520.3h0.8M406.7 525.1h0.8M407.5 523.9h0.8M407.1 523.0h0.8M405.9 523.2h0.8M409.0 520.5h0.8M404.1 526.2h0.8M406.0 523.7h0.8M407.2 518.5h0.8M410.4 525.7h0.8M405.9 523.2h0.8M405.8 519.1h0.8M405.3 522.2h0.8M407.7 523.1h0.8M405.6 524.7h0.8M404.0 523.3h0.8M407.7 520.6h0.8M401.9 519.0h0.8M406.0 522.6h0.8M408.6 518.8h0.8M405.5 522.9h0.8M405.2 515.4h0.8M407.1 527.1h0.8M407.5 519.0h0.8M404.7 521.9h0.8M410.5 522.8h0.8M405.7 525.2h0.8M405.3 526.0h0.8M404.1 520.1h0.8M406.9 524.9h0.8M406.8 522.1h0.8M401.9 519.5h0.8M404.3 520.0h0.8M406.7 520.5h0.8M407.1 521.5h0.8M404.8 521.6h0.8M406.4 523.4h0.8M404.5 520.7h0.8M402.8 525.3h0.8M408.4 520.9h0.8M404.5 518.2h0.8M405.8 521.8h0.8M409.9 521.9h0.8M403.9 515.2h0.8M408.3 521.8h0.8" stroke="#000" stroke-width="0.8" stroke-opacity="0.7" fill="none"/>
<path d="M403.0 512.2h0.7M403.0 525.4h0.7M407.4 513.8h0.7M405.3 502.9h0.7M405.4 505.3h0.7M406.6 502.9h0.7M404.1 516.4h0.7M408.2 506.8h0.7M403.1 515.0h0.7M407.0 507.6h0.7M404.5 508.7h0.7M403.7 508.8h0.7M407.6 514.3h0.7M408.9 511.2h0.7M405.4 507.6h0.7M405.4 506.2h0.7M402.8 514.3h0.7M407.9 514.8h0.7M407.7 512.5h0.7M404.5 511.8h0.7M405.0 507.1h0.7M402.9 505.6h0.7M405.6 512.1h0.7M404.8 517.2h0.7M405.9 513.8h0.7M407.5 508.2h0.7M402.4 514.5h0.7M404.5 516.7h0.7M406.1 515.5h0.7M406.8 503.2h0.7M406.8 508.8h0.7M404.4 509.8h0.7M406.8 515.0h0.7M407.2 504.9h0.7M404.7 502.0h0.7M405.4 513.9h0.7M404.4 512.5h0.7M406.0 515.5h0.7M404.3 508.2h0.7M404.4 518.5h0.7M407.3 511.0h0.7M406.0 512.0h0.7M405.9 510.7h0.7M405.1 506.5h0.7M404.6 518.1h0.7M406.5 511.8h0.7M405.3 511.8h0.7M406.2 508.9h0.7M405.9 512.5h0.7M404.4 508.3h0.7M404.0 507.2h0.7M407.0 502.1h0.7M405.2 509.1h0.7M404.6 511.9h0.7M407.4 511.8h0.7M405.4 509.1h0.7M405.4 515.1h0.7M405.0 506.9h0.7M403.6 507.1h0.7M403.4 515.9h0.7M406.2 510.6h0.7M407.9 508.9h0.7M406.8 514.7h0.7M403.1 505.3h0.7M404.1 515.1h0.7M407.7 506.6h0.7M407.3 510.0h0.7M405.0 509.3h0.7M405.1 504.2h0.7M404.0 506.6h0.7" stroke="#000" stroke-width="0.7" stroke-opacity="0.55" fill="none"/>
<path d="M407.1 517.9h0.7M412.3 493.6h0.7M402.0 492.9h0.7M403.8 516.8h0.7M407.3 489.7h0.7M408.2 502.4h0.7M402.3 491.7h0.7M405.4 497.2h0.7M406.3 493.6h0.7M406.4 491.1h0.7M403.9 512.2h0.7M406.8 501.4h0.7M402.3 495.3h0.7M407.9 484.1h0.7M408.5 493.1h0.7M406.9 495.7h0.7M406.5 509.0h0.7M405.1 512.6h0.7M404.2 487.7h0.7M407.6 486.3h0.7M405.1 506.1h0.7M408.8 479.3h0.7" stroke="#000" stroke-width="0.7" stroke-opacity="0.45" fill="none"/>
<path d="M415.8 517.2h0.6M418.2 511.9h0.6M411.9 511.8h0.6M410.0 511.8h0.6M413.3 512.1h0.6M418.1 511.9h0.6M408.9 515.1h0.6M410.2 511.4h0.6M413.5 511.6h0.6M410.5 511.9h0.6M421.6 511.0h0.6M413.5 515.3h0.6M416.6 514.4h0.6M417.0 507.6h0.6M411.0 512.8h0.6M415.7 515.7h0.6" stroke="#000" stroke-width="0.6" stroke-opacity="0.45" fill="none"/>
</g>
<line x1="411.80" y1="448.60" x2="411.80" y2="534.00" stroke="#9494f8" stroke-width="1" />
<line x1="395.20" y1="511.40" x2="480.20" y2="511.40" stroke="#9494f8" stroke-width="1" />
<path d="M395.2 534 V448.6 H480.2" fill="none" stroke="#8a8a8a" stroke-width="0.9"/>
<line x1="480.20" y1="448.60" x2="480.20" y2="534.00" stroke="#b0b0b0" stroke-width="0.9" />
<line x1="395.20" y1="534.00" x2="480.20" y2="534.00" stroke="#7a7a7a" stroke-width="0.9" />
<line x1="393.70" y1="454.10" x2="395.20" y2="454.10" stroke="#666" stroke-width="0.7" />
<line x1="393.70" y1="469.60" x2="395.20" y2="469.60" stroke="#666" stroke-width="0.7" />
<line x1="393.70" y1="485.10" x2="395.20" y2="485.10" stroke="#666" stroke-width="0.7" />
<line x1="393.70" y1="500.60" x2="395.20" y2="500.60" stroke="#666" stroke-width="0.7" />
<line x1="393.70" y1="516.10" x2="395.20" y2="516.10" stroke="#666" stroke-width="0.7" />
<line x1="393.70" y1="531.60" x2="395.20" y2="531.60" stroke="#666" stroke-width="0.7" />
<line x1="397.20" y1="534.00" x2="397.20" y2="535.40" stroke="#777" stroke-width="0.6" />
<line x1="399.20" y1="534.00" x2="399.20" y2="535.40" stroke="#777" stroke-width="0.6" />
<line x1="401.20" y1="534.00" x2="401.20" y2="535.40" stroke="#777" stroke-width="0.6" />
<line x1="403.20" y1="534.00" x2="403.20" y2="535.40" stroke="#777" stroke-width="0.6" />
<line x1="405.20" y1="534.00" x2="405.20" y2="535.40" stroke="#777" stroke-width="0.6" />
<line x1="407.20" y1="534.00" x2="407.20" y2="535.40" stroke="#777" stroke-width="0.6" />
<line x1="411.20" y1="534.00" x2="411.20" y2="535.40" stroke="#777" stroke-width="0.6" />
<line x1="413.20" y1="534.00" x2="413.20" y2="535.40" stroke="#777" stroke-width="0.6" />
<line x1="428.20" y1="534.00" x2="428.20" y2="535.40" stroke="#777" stroke-width="0.6" />
<line x1="443.20" y1="534.00" x2="443.20" y2="535.40" stroke="#777" stroke-width="0.6" />
<line x1="455.20" y1="534.00" x2="455.20" y2="535.40" stroke="#777" stroke-width="0.6" />
<line x1="467.20" y1="534.00" x2="467.20" y2="535.40" stroke="#777" stroke-width="0.6" />
<clipPath id="e2"><rect x="497.5" y="448.6" width="84.89999999999998" height="85.39999999999998"/></clipPath>
<g clip-path="url(#e2)">
<ellipse cx="511.3" cy="478.5" rx="4.6" ry="6.5" fill="#000" fill-opacity="0.8" filter="url(#bl2)"/>
<ellipse cx="520" cy="479.5" rx="3.5" ry="4.5" fill="#000" fill-opacity="0.3" filter="url(#bl2)"/>
<path d="M514.2 478.3h0.8M528.3 481.8h0.8M512.7 481.4h0.8M509.3 475.1h0.8M514.4 476.6h0.8M515.7 477.9h0.8M503.2 471.8h0.8M507.7 468.2h0.8M511.4 477.4h0.8M516.3 474.3h0.8M510.7 482.1h0.8M515.4 473.4h0.8M519.1 475.6h0.8M517.6 477.4h0.8M509.8 472.2h0.8M511.2 492.0h0.8M508.7 487.4h0.8M518.2 476.9h0.8M517.2 486.6h0.8M510.3 476.1h0.8M517.2 480.9h0.8M522.1 481.4h0.8M506.3 478.8h0.8M506.1 483.1h0.8M515.2 476.8h0.8M507.5 483.9h0.8M510.0 485.7h0.8M507.1 477.5h0.8M509.2 473.4h0.8M525.0 488.2h0.8M508.8 483.4h0.8M503.1 485.9h0.8M517.1 477.2h0.8M510.1 480.4h0.8M514.0 477.1h0.8M507.7 477.6h0.8M509.8 483.3h0.8M512.3 480.3h0.8M503.8 477.0h0.8M509.9 476.2h0.8M511.3 477.4h0.8M504.5 484.2h0.8M516.3 476.2h0.8M514.9 474.0h0.8M505.8 478.0h0.8M519.4 478.5h0.8M504.5 480.4h0.8M509.1 475.2h0.8M513.6 469.6h0.8M503.3 471.2h0.8M517.2 479.7h0.8M509.0 475.4h0.8M515.1 486.0h0.8M508.5 480.6h0.8M523.4 482.5h0.8M510.4 481.1h0.8M512.5 482.9h0.8M513.7 476.6h0.8M511.5 481.3h0.8M508.7 479.7h0.8M507.6 486.0h0.8M519.6 474.5h0.8M516.2 480.2h0.8M512.5 477.9h0.8M513.3 484.8h0.8M506.1 484.8h0.8M510.8 473.3h0.8M511.8 482.8h0.8M511.6 480.9h0.8M510.4 476.4h0.8M516.9 474.2h0.8M516.9 481.1h0.8M510.7 478.1h0.8M510.7 479.1h0.8M511.8 478.5h0.8M502.8 467.8h0.8M513.7 475.9h0.8M509.3 478.4h0.8M506.8 487.7h0.8M512.1 478.4h0.8M507.0 484.1h0.8M515.5 487.4h0.8M516.4 474.9h0.8M506.0 486.7h0.8M508.8 478.7h0.8M511.3 482.0h0.8M514.7 473.7h0.8M509.0 469.9h0.8M514.8 478.4h0.8M504.0 484.9h0.8M512.1 473.9h0.8M510.1 476.2h0.8M512.6 480.4h0.8M509.3 481.6h0.8M499.7 477.5h0.8M515.2 484.4h0.8M515.9 473.7h0.8M504.1 477.5h0.8M522.9 480.7h0.8M508.6 470.3h0.8M512.8 476.9h0.8M514.4 480.3h0.8M500.9 478.6h0.8M515.8 476.1h0.8M506.4 473.1h0.8M505.8 491.0h0.8M518.7 476.0h0.8M518.5 473.6h0.8M509.5 475.3h0.8M511.1 482.8h0.8M521.6 483.2h0.8M511.5 480.1h0.8M510.9 481.2h0.8M507.9 480.6h0.8M514.2 484.3h0.8M508.1 481.5h0.8M513.3 474.9h0.8M502.7 476.3h0.8M516.1 477.7h0.8M522.7 482.2h0.8M508.6 478.7h0.8M514.2 481.8h0.8M510.9 481.6h0.8M525.9 484.1h0.8M512.8 476.7h0.8M503.6 480.1h0.8M510.1 478.9h0.8M509.4 483.3h0.8M517.0 475.5h0.8M505.5 480.9h0.8M518.5 481.4h0.8M514.2 471.8h0.8M509.4 482.3h0.8M513.7 479.1h0.8M514.7 483.7h0.8M512.4 475.4h0.8M505.4 480.3h0.8M511.2 478.2h0.8M517.2 475.7h0.8M510.7 482.6h0.8M507.8 467.8h0.8M509.4 483.5h0.8M509.1 477.9h0.8M503.3 485.5h0.8M503.8 475.6h0.8M511.1 489.4h0.8M512.5 475.4h0.8M505.0 477.5h0.8M506.2 475.9h0.8M512.2 485.6h0.8M506.8 486.4h0.8M502.9 489.4h0.8M508.9 477.2h0.8M509.7 480.4h0.8M511.7 477.4h0.8M508.7 476.3h0.8M512.2 476.3h0.8M508.7 471.5h0.8M512.1 481.7h0.8M507.2 484.4h0.8M511.8 479.7h0.8M504.0 482.4h0.8M517.8 489.3h0.8M509.1 478.8h0.8M515.4 481.9h0.8M509.0 479.5h0.8M516.5 482.1h0.8M511.7 484.6h0.8M505.0 481.4h0.8M508.9 477.2h0.8M515.7 488.3h0.8M514.0 479.8h0.8M519.6 483.1h0.8M501.7 476.0h0.8M508.9 475.6h0.8M505.0 482.6h0.8M512.8 488.3h0.8M510.7 479.8h0.8M508.5 484.5h0.8M517.8 488.0h0.8M516.7 476.2h0.8M517.6 474.5h0.8M509.2 478.3h0.8M521.7 475.6h0.8M507.5 480.5h0.8M517.5 482.2h0.8M514.6 474.9h0.8M510.3 486.0h0.8M512.6 475.9h0.8M510.5 486.3h0.8M520.0 481.5h0.8M508.3 488.0h0.8M509.1 479.9h0.8M514.0 479.3h0.8M511.3 487.7h0.8M513.6 471.9h0.8M509.4 486.2h0.8M511.3 474.1h0.8M516.3 481.9h0.8M512.3 482.3h0.8M510.4 480.3h0.8M514.8 476.5h0.8M517.8 473.9h0.8M521.6 479.8h0.8M513.8 473.1h0.8M515.7 475.1h0.8M514.4 479.5h0.8M508.4 488.5h0.8M512.9 476.7h0.8M510.5 481.0h0.8M512.4 483.8h0.8M509.5 480.5h0.8M509.9 475.8h0.8M515.9 475.2h0.8M504.7 482.8h0.8M509.8 482.3h0.8M514.6 482.0h0.8M512.5 487.4h0.8M507.4 485.4h0.8M511.5 481.0h0.8M510.2 483.9h0.8M514.4 477.1h0.8M512.4 481.9h0.8M511.6 492.2h0.8M514.8 477.4h0.8M516.9 480.8h0.8M509.9 477.7h0.8M504.9 483.4h0.8M519.1 479.1h0.8M508.6 470.6h0.8M506.7 479.5h0.8M509.3 478.7h0.8M508.4 478.7h0.8M511.2 480.4h0.8M512.6 480.5h0.8M508.5 478.0h0.8M506.7 476.9h0.8M512.1 481.7h0.8M506.1 474.6h0.8M509.8 473.2h0.8M510.9 478.4h0.8M508.9 487.8h0.8M510.3 480.7h0.8M504.1 483.7h0.8M513.6 480.5h0.8M502.5 479.1h0.8M509.1 481.5h0.8M512.0 476.7h0.8M510.1 485.7h0.8M517.1 470.6h0.8M510.1 482.6h0.8M510.3 481.0h0.8M510.7 487.8h0.8M515.4 478.5h0.8M518.6 482.7h0.8M519.8 477.0h0.8M505.3 483.5h0.8M512.3 470.4h0.8M494.8 479.9h0.8M512.4 475.3h0.8M510.0 479.9h0.8M505.8 485.8h0.8M506.2 479.5h0.8M512.2 476.8h0.8M508.6 483.8h0.8M504.8 479.3h0.8M519.4 475.4h0.8M505.1 476.8h0.8M498.7 475.4h0.8M506.7 475.0h0.8M508.0 482.3h0.8M512.2 474.0h0.8M517.9 474.2h0.8M518.7 476.7h0.8M507.8 476.9h0.8M518.5 479.9h0.8M511.9 470.7h0.8M511.9 477.6h0.8M510.3 475.1h0.8M504.7 485.7h0.8M507.5 482.3h0.8M514.6 480.0h0.8M512.6 482.5h0.8M510.4 478.8h0.8M513.5 480.2h0.8M510.5 465.3h0.8M511.8 472.7h0.8M517.3 485.7h0.8M513.1 480.5h0.8M502.7 478.3h0.8M508.4 488.6h0.8M505.9 490.8h0.8M511.1 468.6h0.8M520.2 478.1h0.8M513.6 484.9h0.8M504.7 476.7h0.8M512.6 485.8h0.8M511.2 482.2h0.8M503.9 481.9h0.8M507.7 477.4h0.8M512.5 483.8h0.8M508.9 481.5h0.8M510.6 482.5h0.8M509.9 486.5h0.8M507.2 473.8h0.8M517.8 475.5h0.8M515.0 482.9h0.8M504.3 477.7h0.8M509.8 478.6h0.8M505.2 480.1h0.8M512.9 473.5h0.8M512.1 480.3h0.8M504.1 478.8h0.8M516.1 483.0h0.8M507.0 475.2h0.8M512.0 481.3h0.8M515.7 479.6h0.8M515.6 475.7h0.8M520.4 478.2h0.8M507.5 476.2h0.8M503.7 475.2h0.8M510.4 481.6h0.8M517.0 474.6h0.8M508.5 482.6h0.8M516.6 483.0h0.8M513.0 473.0h0.8M509.4 470.9h0.8M508.6 485.5h0.8M519.0 477.6h0.8M514.6 486.0h0.8M506.9 471.9h0.8M508.8 468.0h0.8M514.9 478.5h0.8M510.4 479.2h0.8M514.0 478.8h0.8M506.1 482.2h0.8M509.3 480.4h0.8M508.5 478.9h0.8M504.5 479.5h0.8M510.3 484.4h0.8M508.0 474.3h0.8M514.8 468.6h0.8M514.5 478.4h0.8M509.5 479.3h0.8M510.3 474.0h0.8M514.9 474.2h0.8M512.1 477.8h0.8M508.2 475.5h0.8M512.9 476.9h0.8M517.8 483.2h0.8M509.5 483.9h0.8M500.8 487.6h0.8M505.6 472.1h0.8M516.6 470.3h0.8M508.2 480.4h0.8M502.1 478.0h0.8M515.7 475.0h0.8M518.3 474.1h0.8M518.1 480.8h0.8M512.2 477.5h0.8M507.0 484.2h0.8M506.2 478.7h0.8M514.8 481.2h0.8M514.7 475.5h0.8M505.7 479.9h0.8M510.8 484.3h0.8M502.5 478.6h0.8M513.4 476.3h0.8M504.1 478.8h0.8M516.3 475.1h0.8M507.3 473.5h0.8M507.0 469.4h0.8M525.9 477.5h0.8M517.0 484.8h0.8M509.0 481.7h0.8M520.0 485.7h0.8M516.2 475.0h0.8M508.7 479.1h0.8M518.7 475.1h0.8M514.8 484.9h0.8M515.4 478.9h0.8M508.7 482.5h0.8M510.2 480.9h0.8M509.4 476.2h0.8M509.6 473.7h0.8M516.0 471.8h0.8M513.5 476.7h0.8M514.0 470.4h0.8M511.7 479.2h0.8M518.2 484.2h0.8M513.5 478.6h0.8M512.0 484.3h0.8M517.8 482.1h0.8M517.3 471.2h0.8M516.2 489.3h0.8M512.4 476.0h0.8M518.2 469.4h0.8M517.4 473.0h0.8M514.1 473.1h0.8M518.7 479.4h0.8M509.2 479.0h0.8M518.2 487.0h0.8M513.0 478.0h0.8M518.9 479.9h0.8M509.4 489.1h0.8M504.7 480.9h0.8M519.4 481.6h0.8M513.3 484.2h0.8M507.7 479.4h0.8M512.0 484.7h0.8M514.4 480.0h0.8M518.0 486.4h0.8M506.8 492.8h0.8M514.0 477.2h0.8M520.2 467.0h0.8M506.9 481.1h0.8M509.4 473.6h0.8M511.2 487.4h0.8M512.7 484.0h0.8M515.8 479.7h0.8M512.7 476.3h0.8M513.5 483.8h0.8M511.6 479.6h0.8M514.7 480.2h0.8M513.9 470.3h0.8M514.3 471.5h0.8M515.4 479.0h0.8M510.5 473.5h0.8M516.6 477.6h0.8M510.5 470.1h0.8M519.4 477.0h0.8M508.7 485.7h0.8M514.9 467.2h0.8M511.9 487.4h0.8M511.3 476.0h0.8M516.1 483.5h0.8M508.5 476.3h0.8M509.9 477.0h0.8M506.7 476.2h0.8M515.4 471.8h0.8M516.9 482.2h0.8M515.7 483.5h0.8M508.7 471.7h0.8M517.5 479.4h0.8M514.3 484.5h0.8M506.5 479.3h0.8M512.1 474.6h0.8M508.4 479.6h0.8M513.9 486.0h0.8M516.3 486.8h0.8M510.2 480.8h0.8M512.0 478.0h0.8M509.9 486.3h0.8M518.9 479.8h0.8M500.2 473.6h0.8M508.5 488.0h0.8M517.2 478.3h0.8M515.5 481.2h0.8M511.8 478.9h0.8M508.1 474.3h0.8M511.5 474.0h0.8M513.9 478.0h0.8M508.4 481.2h0.8M508.8 477.7h0.8M508.0 482.7h0.8M512.8 478.4h0.8M511.3 481.9h0.8M510.1 470.3h0.8M519.8 479.9h0.8M515.6 475.1h0.8M505.1 473.8h0.8M514.7 477.4h0.8M511.3 477.0h0.8M505.1 487.6h0.8M507.9 474.4h0.8M507.0 480.9h0.8M517.6 480.3h0.8M514.0 478.1h0.8M518.1 480.6h0.8M513.9 474.1h0.8M517.5 482.8h0.8M510.0 475.8h0.8M514.0 473.0h0.8M512.6 475.3h0.8M507.4 484.8h0.8M507.4 470.2h0.8M518.7 476.1h0.8M516.9 479.4h0.8M507.8 471.2h0.8M511.2 480.7h0.8M509.2 477.4h0.8M508.5 478.6h0.8M512.6 478.1h0.8M503.0 475.2h0.8M510.2 476.7h0.8M503.6 476.1h0.8M505.0 470.7h0.8M513.6 474.3h0.8M516.8 484.6h0.8M503.4 480.2h0.8M504.9 481.8h0.8M516.6 485.9h0.8M517.4 471.9h0.8M512.9 471.3h0.8M513.8 483.1h0.8M511.1 483.2h0.8M508.0 476.5h0.8M506.5 469.8h0.8M512.2 479.0h0.8M507.1 474.6h0.8M505.0 482.5h0.8M514.3 476.3h0.8M510.0 476.7h0.8M507.8 480.8h0.8M516.1 468.7h0.8M515.6 474.4h0.8M510.1 471.7h0.8M509.4 478.3h0.8M510.4 491.9h0.8M509.9 477.6h0.8M510.3 481.2h0.8M515.0 482.6h0.8M511.6 480.0h0.8M501.2 479.3h0.8M507.3 480.2h0.8M509.1 481.8h0.8M510.4 482.0h0.8M502.6 484.0h0.8M505.5 487.0h0.8M505.3 479.0h0.8M507.2 479.6h0.8M516.4 474.4h0.8M513.2 483.1h0.8M507.1 483.2h0.8M509.2 481.8h0.8M506.9 494.6h0.8M511.2 468.6h0.8M513.8 477.2h0.8M504.6 477.1h0.8M506.2 479.5h0.8M507.4 473.6h0.8M512.5 480.6h0.8M511.6 480.4h0.8M511.3 480.4h0.8M517.1 483.7h0.8M514.3 486.7h0.8M504.2 483.8h0.8M503.1 475.3h0.8M507.5 481.5h0.8M518.1 475.6h0.8M503.4 483.6h0.8M510.9 471.6h0.8M521.3 480.9h0.8M512.5 479.6h0.8M510.2 481.9h0.8M512.1 485.0h0.8M504.9 478.8h0.8M516.5 473.0h0.8M515.1 474.9h0.8M516.1 485.6h0.8M514.6 478.9h0.8M508.4 475.6h0.8M513.0 478.9h0.8M507.5 479.7h0.8M506.6 485.3h0.8M515.5 479.0h0.8M516.8 477.8h0.8M518.2 479.6h0.8M506.0 469.0h0.8M520.2 470.6h0.8M511.4 483.5h0.8M510.4 474.5h0.8M510.9 480.0h0.8M512.6 481.6h0.8M506.8 484.8h0.8M513.1 483.0h0.8M515.9 481.6h0.8M506.5 475.3h0.8M508.3 473.9h0.8M509.0 470.2h0.8M511.9 478.8h0.8M516.6 476.5h0.8M519.6 478.6h0.8M510.4 479.4h0.8M518.3 484.2h0.8M513.3 479.1h0.8M509.8 472.3h0.8M511.0 477.3h0.8M519.2 476.8h0.8M517.8 479.5h0.8M510.3 482.4h0.8M501.9 469.3h0.8M520.0 480.8h0.8M513.6 478.1h0.8M512.4 478.5h0.8M511.4 480.0h0.8M513.0 481.9h0.8M507.2 476.9h0.8M519.4 477.2h0.8M513.4 479.9h0.8M510.3 488.4h0.8M514.6 469.6h0.8M516.8 472.7h0.8M503.6 475.4h0.8M515.6 470.4h0.8M515.9 474.6h0.8M517.3 482.8h0.8M508.4 466.9h0.8M511.6 467.9h0.8M515.3 476.6h0.8M517.1 476.0h0.8M507.2 481.3h0.8M507.0 479.1h0.8M511.2 475.1h0.8M505.7 482.0h0.8M519.1 477.4h0.8M507.6 477.3h0.8M506.2 469.0h0.8M516.3 479.6h0.8M510.1 487.8h0.8M511.6 478.7h0.8M515.6 475.8h0.8M513.2 480.8h0.8M514.9 480.7h0.8M518.1 483.0h0.8M515.0 483.2h0.8M509.1 474.3h0.8M510.5 484.5h0.8M505.9 480.7h0.8M508.4 476.6h0.8M508.0 469.7h0.8M518.1 477.5h0.8M511.8 479.2h0.8M499.2 485.7h0.8M519.0 478.5h0.8M512.9 482.3h0.8M514.6 483.6h0.8M514.8 477.9h0.8M514.2 473.0h0.8M511.3 484.7h0.8M518.0 481.4h0.8M515.2 476.4h0.8M515.5 478.2h0.8M507.5 485.4h0.8M512.1 480.4h0.8M506.5 479.0h0.8M513.3 481.7h0.8M514.1 481.2h0.8M515.7 485.1h0.8M516.6 474.5h0.8M512.6 485.5h0.8M516.0 477.6h0.8M511.7 478.5h0.8M512.7 468.8h0.8M502.4 476.0h0.8M505.2 473.8h0.8M507.3 479.3h0.8M511.0 485.6h0.8M512.0 477.6h0.8M511.2 477.8h0.8M507.3 472.5h0.8M517.6 475.2h0.8M507.8 472.6h0.8M508.5 471.9h0.8M508.1 469.8h0.8M504.7 489.0h0.8M512.3 480.5h0.8M517.3 481.1h0.8M513.3 476.9h0.8M515.9 475.0h0.8M510.4 476.3h0.8M516.9 478.7h0.8M512.2 486.2h0.8M518.2 481.1h0.8M513.1 476.7h0.8M511.7 483.2h0.8M514.0 485.8h0.8M513.8 473.7h0.8M508.4 468.3h0.8M513.7 474.4h0.8M514.1 476.9h0.8M512.7 477.0h0.8M510.9 481.2h0.8M509.7 478.0h0.8M509.6 477.0h0.8M509.3 473.6h0.8M510.8 481.6h0.8M511.9 475.6h0.8M506.7 489.1h0.8M517.2 473.3h0.8M506.0 471.4h0.8M516.3 470.6h0.8M511.9 473.6h0.8M512.0 473.8h0.8M510.8 478.5h0.8M515.6 485.5h0.8M513.6 480.2h0.8M518.7 471.1h0.8M519.8 477.5h0.8M509.8 485.7h0.8M509.9 478.8h0.8M515.2 485.0h0.8M506.5 482.1h0.8M513.4 478.1h0.8M518.7 491.0h0.8M515.1 482.3h0.8M508.4 477.6h0.8M509.7 481.1h0.8M513.0 475.5h0.8M510.9 473.3h0.8M509.9 478.9h0.8M512.4 478.4h0.8M512.4 478.3h0.8M508.1 482.8h0.8M509.0 476.4h0.8M516.0 478.9h0.8M513.2 487.3h0.8M508.4 473.0h0.8M520.9 475.9h0.8M508.5 489.4h0.8M513.0 477.9h0.8M502.6 478.2h0.8M508.4 481.7h0.8M503.0 479.9h0.8M518.5 479.6h0.8M508.8 466.5h0.8M509.6 475.7h0.8M507.4 472.2h0.8M517.3 485.6h0.8M506.8 474.9h0.8M508.0 473.2h0.8M513.3 481.4h0.8M515.8 479.1h0.8M513.0 485.9h0.8M513.8 480.6h0.8M503.8 478.0h0.8M510.2 479.2h0.8M517.1 476.1h0.8M518.4 474.6h0.8M518.8 473.6h0.8M511.7 468.6h0.8M506.1 466.6h0.8M514.2 477.4h0.8M500.8 480.7h0.8M509.0 472.5h0.8M510.1 480.1h0.8M511.3 479.3h0.8M514.4 484.0h0.8M505.7 481.5h0.8M505.2 474.2h0.8M504.4 475.1h0.8M516.8 480.3h0.8M518.9 475.8h0.8M517.8 467.0h0.8M514.7 484.1h0.8M514.8 476.0h0.8M508.9 478.6h0.8M520.8 484.0h0.8M511.1 470.0h0.8M516.4 474.9h0.8M516.1 471.4h0.8M506.8 480.6h0.8M513.2 484.4h0.8M512.5 477.9h0.8M514.7 477.9h0.8M507.9 478.9h0.8M518.0 480.6h0.8M513.8 483.8h0.8M514.3 474.1h0.8M510.4 481.3h0.8M520.1 480.0h0.8M507.9 479.4h0.8M512.1 472.6h0.8M513.4 492.2h0.8M508.3 481.5h0.8M516.6 478.3h0.8M503.3 481.0h0.8M509.7 475.8h0.8M513.4 479.6h0.8M516.4 485.8h0.8M507.8 483.5h0.8M511.5 480.5h0.8M518.6 478.3h0.8M509.4 472.2h0.8M519.9 482.0h0.8M514.1 476.3h0.8M519.3 468.6h0.8M516.6 489.1h0.8M519.2 481.4h0.8M514.3 478.6h0.8M510.9 479.3h0.8M510.3 478.6h0.8M508.8 479.2h0.8M514.3 486.2h0.8M512.0 482.0h0.8M510.8 483.9h0.8M509.0 472.9h0.8M505.6 475.2h0.8M510.9 486.8h0.8M513.7 479.9h0.8M505.7 476.0h0.8M509.6 493.7h0.8M518.1 485.3h0.8M505.8 477.1h0.8M510.3 479.8h0.8M505.3 481.9h0.8M511.4 469.4h0.8M510.0 484.9h0.8M515.4 482.8h0.8M504.6 483.4h0.8M513.0 479.9h0.8M506.0 472.5h0.8M518.1 482.5h0.8M517.1 487.3h0.8M509.8 476.3h0.8M505.5 485.9h0.8M513.0 478.6h0.8M509.7 480.1h0.8M522.8 476.2h0.8M504.0 483.9h0.8M511.7 489.0h0.8M513.4 483.1h0.8M504.3 477.4h0.8M509.6 479.4h0.8M514.4 479.6h0.8M510.4 486.4h0.8M515.7 489.6h0.8M509.4 475.4h0.8M503.8 474.5h0.8M511.5 486.7h0.8M506.3 471.5h0.8M510.9 477.4h0.8M513.9 476.3h0.8M510.0 477.3h0.8M513.8 469.6h0.8M514.3 471.4h0.8M516.6 475.7h0.8M514.1 475.7h0.8M514.0 481.8h0.8M505.3 484.3h0.8M512.4 474.6h0.8M513.2 468.0h0.8M506.3 483.9h0.8M510.6 484.0h0.8M512.9 483.4h0.8M515.8 481.5h0.8M512.6 475.8h0.8M514.0 490.0h0.8M509.8 482.2h0.8M512.4 480.2h0.8M517.1 473.1h0.8M521.1 476.6h0.8M503.9 470.1h0.8M511.7 487.4h0.8M512.8 476.2h0.8M522.7 472.4h0.8M512.4 482.1h0.8M514.1 481.1h0.8M507.3 486.8h0.8M512.4 482.7h0.8M508.3 470.4h0.8M519.9 479.2h0.8M510.1 474.9h0.8M510.2 479.3h0.8M511.5 479.1h0.8M511.8 472.7h0.8M513.3 482.2h0.8M508.5 476.8h0.8M512.3 472.1h0.8M512.1 476.4h0.8M514.9 490.9h0.8M510.9 473.6h0.8M513.4 479.0h0.8M509.9 477.3h0.8M510.7 482.3h0.8M510.6 480.1h0.8M514.8 486.1h0.8M514.4 484.3h0.8M519.7 477.5h0.8M517.9 483.9h0.8M506.8 475.8h0.8M515.3 466.5h0.8M506.3 486.4h0.8M513.5 485.3h0.8M517.8 473.0h0.8M506.3 487.9h0.8M503.4 473.6h0.8M513.4 473.6h0.8M510.3 481.2h0.8M513.6 477.2h0.8M515.2 481.2h0.8M514.0 481.9h0.8M510.4 474.7h0.8M514.6 475.0h0.8M517.6 471.8h0.8M511.3 485.7h0.8M510.6 476.1h0.8M520.9 481.4h0.8M514.8 479.3h0.8M517.8 486.3h0.8M508.6 474.0h0.8M500.0 479.0h0.8M514.0 488.4h0.8M510.9 482.9h0.8M510.1 474.0h0.8M505.6 475.2h0.8M516.1 480.7h0.8M504.8 484.5h0.8M512.7 473.5h0.8M505.5 484.5h0.8M511.7 477.4h0.8M515.2 469.4h0.8M510.3 486.6h0.8M508.3 479.5h0.8M517.1 481.5h0.8M511.2 473.7h0.8M510.0 476.4h0.8M515.4 471.5h0.8M509.6 479.1h0.8M516.5 479.1h0.8M511.8 480.5h0.8M507.5 490.0h0.8M504.9 478.1h0.8M508.3 480.9h0.8M514.8 484.8h0.8M509.8 473.1h0.8M505.8 480.6h0.8M514.9 490.6h0.8M513.6 476.7h0.8M516.4 472.7h0.8M519.5 480.9h0.8M513.3 475.0h0.8M513.5 484.7h0.8M514.3 479.7h0.8M510.5 474.1h0.8M503.7 485.8h0.8M512.9 474.8h0.8M513.0 479.5h0.8M508.8 473.3h0.8M517.5 478.5h0.8M505.5 473.0h0.8M506.4 478.6h0.8M508.4 483.7h0.8M510.3 473.2h0.8M511.7 473.9h0.8M508.4 475.3h0.8M504.5 475.6h0.8M512.7 479.9h0.8M512.5 482.7h0.8M515.4 484.3h0.8M507.0 480.6h0.8M512.1 476.4h0.8M518.9 474.8h0.8M511.5 487.7h0.8M512.0 478.8h0.8M507.7 485.7h0.8M510.4 481.8h0.8M511.0 483.2h0.8M510.8 472.9h0.8M504.3 491.0h0.8M508.6 484.5h0.8M522.6 470.5h0.8M507.8 481.4h0.8M507.6 474.8h0.8M506.2 477.2h0.8M512.8 481.9h0.8M508.7 477.6h0.8M510.6 479.3h0.8M510.1 481.4h0.8M501.9 479.8h0.8M513.3 482.1h0.8M509.9 482.7h0.8M513.4 480.2h0.8M507.9 469.8h0.8M519.6 479.5h0.8M514.0 470.8h0.8M511.9 476.7h0.8M509.3 488.7h0.8M503.9 478.0h0.8M511.5 489.1h0.8M514.0 477.1h0.8M510.0 460.1h0.8M515.0 480.2h0.8M517.7 474.5h0.8M510.0 481.5h0.8M512.9 478.1h0.8M513.1 479.0h0.8M509.1 484.3h0.8M504.5 474.0h0.8M502.6 485.3h0.8M509.9 483.4h0.8M515.9 478.7h0.8M510.1 479.1h0.8M513.5 473.0h0.8M516.2 473.0h0.8M510.5 479.8h0.8M508.7 483.9h0.8M508.1 482.9h0.8M512.0 482.7h0.8M519.0 474.6h0.8M505.9 486.1h0.8M517.6 482.6h0.8M511.1 483.2h0.8M505.8 479.0h0.8M510.8 482.8h0.8M505.2 485.1h0.8M520.2 473.8h0.8M510.3 465.6h0.8M520.9 481.8h0.8M511.0 480.0h0.8M514.2 489.0h0.8M510.8 477.1h0.8M507.5 489.8h0.8M523.6 478.6h0.8M520.0 471.5h0.8M515.6 475.1h0.8M511.6 485.5h0.8M517.4 480.6h0.8M511.2 482.5h0.8M505.6 482.3h0.8M509.6 479.3h0.8M515.0 478.5h0.8M504.1 474.2h0.8M509.7 473.9h0.8M513.4 477.5h0.8M509.5 478.4h0.8M507.9 478.9h0.8M514.3 474.0h0.8M512.9 482.0h0.8M515.6 483.4h0.8M518.4 470.2h0.8M511.8 476.9h0.8M509.5 476.0h0.8M513.3 480.8h0.8M512.0 477.1h0.8M514.5 475.6h0.8M504.8 487.1h0.8M513.9 483.9h0.8M515.8 473.1h0.8M512.0 481.4h0.8M514.5 472.4h0.8M514.5 477.9h0.8M510.3 486.9h0.8M506.6 492.2h0.8M511.0 481.5h0.8M509.8 479.1h0.8M503.8 487.1h0.8M509.1 474.4h0.8M507.4 470.6h0.8M522.7 483.5h0.8M515.7 475.9h0.8M513.9 486.9h0.8M509.6 478.2h0.8M507.4 475.3h0.8M511.0 478.3h0.8M507.0 477.4h0.8M516.6 472.7h0.8M510.6 472.4h0.8M512.8 488.7h0.8M511.1 492.0h0.8M507.1 478.0h0.8M507.7 482.6h0.8M509.1 478.9h0.8M510.7 479.8h0.8M509.7 478.0h0.8M512.0 480.1h0.8M510.6 478.9h0.8M505.1 480.0h0.8M514.8 482.3h0.8M510.3 484.4h0.8M510.1 483.6h0.8M512.4 478.2h0.8M520.6 473.7h0.8M506.8 472.3h0.8M511.2 473.6h0.8M512.9 481.2h0.8M506.3 474.2h0.8M508.7 464.4h0.8M510.1 485.8h0.8M510.3 489.4h0.8M517.6 481.8h0.8M514.1 476.2h0.8M516.5 478.1h0.8M515.7 478.9h0.8M515.4 476.3h0.8M516.3 468.7h0.8M505.0 475.1h0.8M512.0 467.7h0.8M514.3 472.2h0.8M510.7 472.2h0.8M511.8 480.0h0.8M513.9 477.8h0.8M509.2 480.6h0.8M512.2 482.2h0.8M509.5 478.3h0.8M515.9 473.6h0.8M513.9 481.5h0.8M511.1 465.7h0.8M511.0 479.6h0.8M511.7 485.7h0.8" stroke="#000" stroke-width="0.8" stroke-opacity="0.5" fill="none"/>
<path d="M516.5 485.0h0.7M533.9 484.0h0.7M527.2 482.8h0.7M512.2 479.2h0.7M517.6 481.4h0.7M515.3 487.8h0.7M519.8 475.6h0.7M517.6 481.7h0.7M530.8 486.4h0.7M528.7 470.6h0.7M520.0 479.3h0.7M524.2 481.3h0.7M517.6 480.1h0.7M531.0 477.3h0.7M517.7 480.9h0.7M518.3 483.2h0.7M519.6 480.4h0.7M525.3 473.3h0.7M525.3 479.5h0.7M514.1 482.7h0.7M513.1 484.2h0.7M521.3 475.7h0.7M520.5 474.6h0.7M524.5 478.2h0.7M521.7 483.5h0.7M523.6 480.6h0.7M524.9 474.9h0.7M523.7 472.0h0.7M518.5 476.0h0.7M524.3 476.6h0.7M522.9 478.4h0.7M512.3 471.7h0.7M517.2 478.7h0.7M516.7 480.2h0.7M524.0 483.6h0.7M523.1 484.6h0.7M515.7 478.0h0.7M521.3 478.7h0.7M525.4 481.6h0.7M528.4 483.1h0.7M520.8 476.4h0.7M517.9 478.5h0.7M517.8 485.0h0.7M519.5 479.6h0.7M527.2 481.6h0.7M525.2 474.3h0.7M516.0 478.3h0.7M513.8 479.3h0.7M516.9 478.1h0.7M521.2 484.0h0.7M515.9 480.3h0.7M525.9 481.0h0.7M525.9 477.5h0.7M522.0 473.0h0.7M527.3 478.3h0.7M526.3 483.0h0.7M533.2 476.1h0.7M519.0 475.9h0.7M520.3 477.9h0.7M523.6 471.7h0.7M518.2 486.8h0.7M529.5 474.2h0.7M525.4 473.6h0.7M515.8 479.5h0.7M517.7 480.6h0.7M519.6 479.9h0.7M514.7 481.3h0.7M519.3 488.7h0.7M529.9 472.8h0.7M513.3 475.2h0.7M523.6 481.2h0.7M524.9 482.3h0.7M525.8 479.9h0.7M525.7 475.9h0.7M526.2 482.8h0.7M516.2 475.0h0.7M523.5 482.5h0.7M517.2 483.1h0.7M523.9 474.8h0.7M519.1 474.3h0.7M519.9 480.9h0.7M530.3 475.8h0.7M520.4 473.5h0.7M522.7 476.5h0.7M526.7 481.4h0.7M520.0 481.7h0.7M518.5 491.4h0.7M521.6 478.0h0.7M520.7 487.5h0.7M519.8 476.5h0.7M512.6 475.6h0.7M532.4 480.2h0.7M520.6 482.5h0.7M516.3 480.3h0.7M523.8 482.1h0.7M520.5 475.9h0.7M526.0 481.7h0.7M512.6 478.4h0.7M517.8 474.0h0.7M526.2 475.3h0.7M515.9 476.6h0.7M514.6 483.1h0.7M510.8 482.8h0.7M513.0 473.7h0.7M526.2 485.3h0.7M522.8 484.9h0.7M520.7 480.3h0.7M523.6 473.7h0.7M519.2 485.2h0.7M523.1 477.9h0.7M519.4 488.0h0.7M530.7 479.2h0.7M520.0 482.8h0.7M522.6 481.4h0.7M523.8 484.3h0.7M521.3 479.2h0.7M523.2 487.6h0.7M522.1 475.9h0.7M524.6 478.9h0.7M523.0 483.8h0.7M509.7 480.6h0.7M522.7 488.6h0.7M513.5 473.4h0.7M527.9 471.0h0.7M517.0 474.7h0.7M517.2 480.0h0.7M520.3 477.3h0.7M524.5 491.3h0.7M517.0 481.8h0.7M518.4 476.7h0.7M522.1 486.8h0.7M514.4 486.0h0.7M517.3 478.8h0.7M516.8 484.2h0.7M529.9 485.0h0.7M525.0 485.5h0.7M527.6 480.2h0.7M524.3 486.2h0.7M510.6 483.9h0.7M523.0 490.5h0.7M521.9 474.7h0.7M522.8 474.8h0.7M516.4 485.0h0.7M523.3 475.1h0.7M520.8 477.0h0.7M528.4 470.9h0.7M526.1 478.6h0.7M520.3 472.5h0.7M522.5 481.3h0.7M514.4 468.9h0.7M519.5 473.7h0.7M524.4 478.6h0.7M523.6 479.0h0.7M522.9 476.4h0.7M521.6 474.8h0.7M526.8 477.4h0.7M521.8 476.9h0.7M524.1 476.8h0.7M521.8 476.1h0.7M523.8 480.7h0.7M521.0 479.6h0.7M521.6 480.9h0.7M522.6 484.7h0.7M524.9 485.5h0.7M520.9 484.0h0.7M515.3 480.2h0.7M519.9 479.9h0.7M518.8 474.8h0.7M524.5 484.8h0.7M527.8 479.7h0.7M519.5 485.9h0.7M526.9 483.0h0.7M521.3 479.6h0.7M519.3 479.2h0.7M523.9 476.4h0.7M523.3 483.9h0.7M517.9 475.1h0.7M519.8 473.1h0.7M527.9 479.2h0.7M515.8 488.7h0.7M517.8 480.4h0.7M528.7 479.8h0.7M519.5 478.0h0.7M524.0 478.7h0.7M516.4 476.2h0.7M517.4 481.4h0.7M517.8 475.3h0.7M519.2 483.0h0.7M516.7 479.5h0.7M516.9 487.8h0.7M513.5 467.0h0.7M524.5 486.9h0.7M518.4 476.9h0.7M513.3 478.9h0.7M518.2 478.6h0.7M519.6 487.5h0.7M523.5 480.9h0.7M518.8 473.6h0.7M524.6 475.7h0.7M515.6 490.3h0.7M519.4 486.4h0.7M525.5 482.0h0.7M516.0 480.4h0.7M530.1 481.6h0.7M528.8 477.8h0.7M525.5 470.0h0.7M530.3 477.9h0.7M519.6 480.4h0.7M520.4 480.6h0.7M511.2 479.1h0.7M524.0 477.3h0.7M519.4 476.5h0.7M522.4 476.7h0.7M526.1 483.2h0.7M526.3 478.4h0.7M512.6 479.4h0.7M515.3 475.5h0.7M517.3 478.0h0.7M516.2 481.1h0.7M523.8 482.2h0.7M525.5 485.0h0.7M515.6 481.3h0.7M515.8 484.3h0.7M521.9 477.7h0.7M529.8 482.2h0.7M524.1 493.2h0.7M519.7 482.7h0.7M527.3 481.2h0.7M520.2 478.7h0.7M521.3 478.0h0.7M511.5 481.1h0.7M530.6 481.5h0.7M521.9 475.5h0.7M519.5 477.7h0.7M516.8 467.7h0.7M521.0 480.3h0.7M525.9 480.0h0.7M512.9 466.8h0.7M528.6 474.7h0.7M516.0 474.4h0.7M519.9 477.7h0.7M523.0 475.2h0.7M528.2 489.6h0.7M522.3 477.5h0.7M520.3 479.3h0.7M523.1 475.7h0.7M514.8 481.8h0.7M521.3 478.1h0.7M517.9 476.9h0.7M517.6 487.8h0.7M518.6 472.6h0.7M521.2 484.0h0.7M516.1 478.9h0.7M512.6 480.7h0.7M522.3 481.7h0.7M515.5 479.0h0.7M523.6 476.3h0.7M524.4 479.3h0.7M517.7 480.9h0.7M523.2 482.5h0.7M519.1 481.7h0.7M523.5 486.7h0.7M518.4 489.1h0.7M520.8 480.5h0.7M525.7 487.6h0.7M511.9 475.2h0.7M517.7 481.3h0.7M517.2 482.1h0.7M521.3 467.9h0.7M519.4 471.5h0.7M519.1 484.0h0.7M531.2 479.8h0.7M527.6 475.5h0.7M519.2 483.1h0.7M517.8 477.4h0.7M518.5 479.9h0.7M525.5 469.9h0.7M518.6 470.1h0.7M526.4 477.2h0.7M528.4 481.1h0.7M517.5 481.1h0.7M521.0 485.5h0.7M524.1 476.4h0.7M517.1 477.1h0.7M524.2 474.7h0.7M523.2 479.1h0.7M525.4 478.4h0.7M522.4 474.7h0.7M519.4 488.8h0.7M519.4 477.8h0.7M517.3 475.8h0.7M527.0 478.8h0.7M516.0 475.3h0.7M526.5 479.8h0.7M526.8 477.6h0.7M521.4 483.0h0.7M519.1 484.1h0.7M520.3 484.9h0.7M522.5 481.2h0.7M525.8 481.4h0.7M523.2 482.8h0.7M522.9 483.8h0.7M521.2 478.7h0.7M518.7 488.1h0.7M532.4 482.6h0.7M524.7 482.1h0.7M528.7 476.3h0.7M521.4 484.5h0.7M518.2 484.6h0.7M529.0 481.3h0.7M513.1 482.9h0.7M523.5 481.5h0.7M524.7 473.4h0.7M516.4 484.0h0.7M524.8 480.6h0.7M527.8 489.8h0.7M529.8 473.7h0.7M510.1 467.8h0.7M520.4 483.3h0.7M527.9 473.7h0.7M523.2 472.6h0.7M521.0 478.6h0.7M520.0 483.5h0.7M523.7 476.4h0.7M516.6 474.7h0.7M517.3 481.3h0.7M519.6 484.0h0.7M518.5 479.3h0.7M523.1 476.3h0.7M520.5 480.2h0.7M519.3 486.0h0.7M514.5 474.5h0.7M519.2 476.1h0.7M529.7 478.4h0.7M520.5 469.5h0.7M522.7 474.6h0.7M526.6 478.9h0.7M519.0 481.1h0.7M523.5 484.5h0.7M521.3 474.9h0.7M521.4 476.2h0.7M537.1 480.8h0.7M524.0 484.9h0.7M518.8 482.0h0.7M527.0 483.2h0.7M517.4 479.2h0.7M515.1 471.7h0.7M518.4 485.5h0.7M521.4 477.3h0.7M520.7 472.1h0.7M521.9 478.4h0.7M527.0 477.5h0.7M516.0 480.5h0.7M523.1 476.7h0.7M522.5 480.5h0.7M521.2 479.9h0.7M519.4 476.9h0.7M519.3 476.5h0.7M522.0 483.7h0.7M526.1 482.1h0.7M524.0 484.3h0.7M523.2 481.9h0.7M514.5 475.4h0.7M519.7 478.2h0.7M514.1 480.7h0.7M517.3 471.5h0.7M520.6 468.9h0.7M522.9 484.3h0.7M520.6 479.4h0.7M524.4 480.3h0.7M518.6 487.2h0.7M522.4 485.7h0.7M512.7 480.6h0.7M523.5 481.3h0.7M524.0 482.3h0.7M519.8 483.0h0.7M519.8 481.1h0.7M524.2 480.3h0.7M523.4 473.5h0.7M516.5 472.5h0.7" stroke="#000" stroke-width="0.7" stroke-opacity="0.4" fill="none"/>
<path d="M509.3 494.7h0.7M507.3 497.8h0.7M511.1 481.9h0.7M509.8 487.5h0.7M507.8 498.3h0.7M509.3 499.7h0.7M507.9 496.7h0.7M515.0 486.5h0.7M512.7 506.7h0.7M508.4 512.8h0.7M515.3 488.9h0.7M509.7 507.2h0.7M506.0 494.9h0.7M512.5 503.1h0.7M505.8 493.9h0.7M512.0 487.7h0.7M508.2 491.5h0.7M509.9 488.7h0.7M507.1 508.4h0.7M512.4 478.9h0.7M507.5 490.0h0.7M515.1 510.1h0.7M514.2 504.5h0.7M513.1 502.0h0.7M506.6 510.0h0.7M513.0 502.5h0.7M508.2 493.6h0.7M507.3 515.1h0.7M513.1 489.2h0.7M508.7 489.0h0.7M507.8 483.7h0.7M510.5 499.9h0.7M512.7 494.9h0.7M509.6 505.2h0.7M511.0 509.3h0.7M511.7 500.3h0.7M515.0 494.4h0.7M511.6 494.6h0.7M508.3 517.1h0.7M510.6 491.5h0.7M510.7 493.9h0.7M513.8 498.4h0.7M506.9 513.1h0.7M507.9 484.8h0.7M509.8 496.2h0.7M514.7 477.7h0.7M514.5 513.3h0.7M515.4 492.7h0.7M511.8 485.1h0.7M513.7 515.9h0.7M505.6 502.6h0.7M508.6 517.5h0.7M512.9 499.5h0.7M512.4 489.1h0.7M505.4 493.3h0.7M510.6 490.4h0.7M507.0 489.1h0.7M510.3 494.3h0.7M504.4 508.9h0.7M513.2 501.8h0.7M507.8 492.4h0.7M510.7 507.4h0.7M502.7 501.4h0.7M509.8 495.7h0.7M507.1 494.6h0.7M515.9 491.7h0.7M513.1 483.5h0.7M509.2 480.8h0.7M513.8 489.2h0.7M509.5 511.6h0.7M512.8 502.2h0.7M505.5 501.6h0.7M509.0 503.3h0.7M510.3 520.7h0.7M509.8 485.7h0.7M512.9 508.4h0.7M508.2 512.9h0.7M512.2 483.3h0.7M509.5 499.2h0.7M511.4 494.9h0.7M509.1 496.0h0.7M509.1 492.5h0.7M510.4 510.1h0.7M505.7 502.9h0.7M512.4 496.2h0.7M510.3 519.0h0.7M511.8 497.7h0.7M509.4 508.8h0.7M505.8 494.5h0.7M506.1 502.5h0.7M507.3 495.5h0.7M504.5 493.6h0.7M510.1 499.6h0.7M508.2 513.9h0.7M508.7 494.7h0.7M506.9 481.9h0.7M511.8 494.3h0.7M511.4 496.3h0.7M516.6 502.8h0.7M506.2 490.8h0.7M509.5 502.3h0.7M511.5 503.3h0.7M511.2 491.2h0.7M511.8 500.8h0.7M511.3 494.1h0.7M512.3 490.0h0.7M511.7 496.7h0.7M504.9 505.1h0.7M511.5 497.9h0.7M514.1 513.9h0.7M510.7 492.7h0.7M509.7 489.4h0.7M506.9 494.7h0.7M512.9 494.7h0.7M510.6 505.1h0.7M509.5 502.0h0.7M511.5 499.6h0.7M511.0 511.9h0.7M512.1 507.8h0.7M510.8 497.1h0.7M513.3 505.7h0.7M511.8 497.5h0.7M506.7 495.5h0.7M511.1 500.7h0.7M511.1 489.8h0.7M511.6 489.6h0.7M511.0 505.8h0.7M511.0 499.9h0.7M504.6 515.8h0.7M508.0 491.1h0.7M513.0 498.1h0.7M509.3 511.7h0.7M512.2 495.2h0.7M506.1 506.8h0.7M506.0 494.9h0.7M508.6 498.0h0.7M509.4 486.5h0.7M509.4 491.8h0.7M510.0 505.3h0.7M508.7 498.0h0.7M506.8 512.3h0.7M510.6 498.3h0.7M509.6 488.6h0.7M511.1 487.4h0.7M504.9 487.6h0.7M510.1 501.1h0.7M507.1 511.9h0.7M512.5 507.8h0.7M505.1 499.4h0.7M509.9 506.7h0.7M509.7 508.4h0.7M510.0 482.9h0.7M513.8 498.1h0.7M507.6 488.1h0.7M511.2 508.9h0.7M512.2 514.4h0.7M509.2 487.8h0.7M509.7 480.0h0.7M514.5 511.7h0.7M514.0 482.8h0.7M511.6 502.7h0.7M510.1 499.6h0.7M508.7 503.0h0.7M507.6 493.3h0.7M506.4 494.7h0.7M510.5 512.5h0.7M508.9 501.4h0.7M507.1 485.2h0.7M510.5 508.6h0.7M507.8 500.8h0.7M511.6 500.4h0.7M511.1 497.0h0.7M513.9 503.9h0.7M507.1 499.4h0.7M509.3 502.9h0.7M509.9 503.0h0.7M510.3 498.4h0.7M511.7 504.4h0.7M515.5 494.0h0.7M507.9 506.0h0.7M511.2 506.1h0.7M514.0 507.1h0.7M510.0 489.5h0.7M508.4 501.6h0.7M511.7 494.4h0.7M510.7 507.5h0.7M512.2 480.2h0.7M508.9 494.3h0.7M512.4 479.1h0.7M506.2 503.3h0.7M507.3 498.5h0.7M509.9 492.0h0.7M509.5 490.8h0.7M507.8 502.0h0.7M510.5 495.4h0.7M512.0 512.9h0.7M511.1 513.5h0.7M506.8 501.3h0.7M510.0 499.6h0.7M515.6 494.8h0.7M512.9 507.1h0.7M504.3 504.7h0.7M507.5 510.5h0.7M508.2 498.5h0.7M507.8 494.2h0.7M507.7 479.9h0.7M510.3 497.2h0.7M509.7 499.7h0.7M509.9 495.3h0.7M509.0 485.4h0.7M509.9 517.0h0.7M514.3 496.2h0.7M514.0 497.2h0.7M505.4 488.5h0.7M508.6 492.4h0.7M508.9 502.6h0.7M510.0 492.9h0.7M512.6 498.8h0.7M507.6 486.1h0.7M510.8 490.9h0.7M513.1 511.8h0.7M510.6 510.9h0.7M511.4 503.5h0.7M505.7 513.0h0.7M506.9 500.5h0.7M513.0 497.0h0.7M515.5 500.6h0.7M511.1 494.5h0.7M513.2 488.1h0.7M505.4 493.0h0.7M510.1 502.9h0.7M513.5 494.5h0.7M510.9 510.5h0.7M509.9 512.7h0.7M509.6 497.9h0.7M506.5 494.8h0.7M513.1 495.4h0.7M510.3 497.9h0.7M510.6 503.7h0.7M508.3 513.0h0.7M510.1 505.5h0.7M513.4 502.9h0.7M510.4 494.5h0.7M506.1 504.7h0.7M507.7 504.1h0.7M510.1 494.9h0.7M510.6 494.5h0.7M511.1 468.4h0.7M506.2 496.7h0.7M509.2 475.8h0.7M508.1 494.2h0.7M511.1 499.9h0.7M504.3 494.8h0.7M511.5 506.9h0.7M512.4 511.3h0.7M507.2 495.1h0.7M514.9 494.4h0.7M509.9 492.8h0.7M512.7 498.3h0.7M508.8 503.8h0.7M514.5 496.0h0.7M510.2 500.6h0.7M508.4 509.3h0.7M509.5 508.7h0.7M509.5 494.5h0.7M510.4 509.9h0.7M505.6 494.4h0.7M507.1 486.0h0.7M509.0 495.9h0.7M507.4 492.5h0.7M512.0 494.9h0.7M507.3 506.3h0.7M510.9 508.7h0.7M506.2 486.4h0.7M507.4 510.9h0.7M512.0 497.4h0.7M511.4 503.9h0.7M512.2 504.0h0.7M509.0 491.7h0.7M513.9 496.0h0.7M511.1 507.0h0.7M507.2 497.0h0.7M509.1 500.8h0.7M508.2 498.4h0.7M510.9 486.2h0.7M508.2 481.4h0.7M511.1 489.8h0.7M508.8 502.1h0.7M508.6 504.6h0.7M507.9 494.5h0.7M512.5 511.5h0.7M510.3 495.6h0.7M510.7 509.7h0.7M509.2 508.6h0.7M510.9 491.9h0.7M508.5 494.7h0.7M510.4 497.9h0.7M510.2 505.0h0.7M510.6 482.2h0.7M509.5 490.6h0.7M510.0 507.4h0.7M507.1 481.5h0.7M510.4 518.5h0.7M509.5 491.9h0.7M509.9 492.3h0.7M509.9 488.8h0.7M510.8 513.7h0.7M511.0 502.0h0.7M514.3 488.5h0.7M509.1 485.0h0.7M511.5 506.3h0.7M513.2 488.4h0.7M506.0 490.9h0.7M506.2 511.4h0.7M512.7 516.5h0.7M509.8 488.7h0.7M508.6 498.3h0.7M508.1 513.3h0.7M511.5 509.9h0.7M509.4 497.9h0.7M508.1 494.1h0.7M504.2 507.6h0.7M509.8 493.5h0.7M509.6 514.3h0.7M511.3 500.9h0.7M507.5 502.8h0.7M512.2 485.1h0.7M509.8 501.4h0.7M510.8 501.5h0.7M512.2 500.4h0.7M510.0 503.6h0.7M507.6 502.7h0.7M511.5 484.5h0.7M511.9 499.4h0.7M511.9 499.3h0.7M509.9 496.9h0.7M511.6 488.9h0.7M509.5 486.5h0.7M506.5 486.7h0.7M510.6 478.7h0.7M512.0 501.4h0.7M510.0 482.5h0.7M511.5 489.4h0.7M506.8 497.2h0.7M507.4 477.8h0.7M511.7 493.7h0.7M510.0 489.8h0.7M506.9 495.3h0.7M510.2 488.0h0.7M511.8 475.9h0.7M510.8 498.8h0.7M507.3 495.2h0.7M506.2 496.5h0.7M508.3 497.0h0.7M512.6 516.2h0.7M513.0 495.2h0.7M510.5 503.6h0.7M509.5 503.3h0.7M511.2 510.0h0.7M512.5 506.5h0.7M509.9 485.6h0.7M511.5 520.3h0.7M510.7 505.3h0.7M509.0 522.3h0.7M507.4 499.5h0.7M509.1 498.9h0.7M513.3 504.2h0.7M508.4 501.1h0.7M514.8 491.9h0.7M513.8 496.3h0.7M509.7 508.9h0.7M511.9 507.0h0.7M512.4 512.6h0.7M510.4 494.6h0.7M507.4 507.6h0.7M512.3 507.4h0.7M509.9 492.0h0.7M510.6 493.6h0.7M505.9 500.1h0.7M505.9 501.3h0.7M509.0 512.9h0.7M507.4 493.2h0.7M513.9 499.5h0.7M507.4 504.5h0.7M510.9 513.5h0.7M508.8 502.4h0.7M506.1 495.3h0.7M512.5 475.4h0.7M511.2 497.1h0.7M509.7 486.2h0.7M509.7 489.5h0.7M510.1 507.0h0.7M506.4 490.8h0.7M512.9 492.6h0.7M509.3 502.1h0.7M511.2 500.8h0.7M513.8 498.8h0.7M508.6 491.1h0.7M505.7 518.5h0.7M511.1 492.7h0.7M516.6 501.9h0.7M510.0 506.5h0.7M511.8 501.4h0.7M508.9 520.0h0.7M512.7 482.1h0.7M508.3 496.1h0.7M508.7 521.3h0.7M513.1 508.3h0.7M507.7 498.9h0.7M510.7 518.9h0.7M505.4 497.0h0.7M510.7 492.2h0.7M509.5 507.0h0.7M505.7 482.7h0.7M512.3 490.9h0.7M507.1 510.1h0.7M507.9 496.3h0.7M512.1 513.1h0.7M514.5 492.9h0.7M514.2 501.5h0.7M511.4 510.2h0.7M513.5 497.8h0.7M510.6 513.8h0.7M508.5 497.3h0.7M509.7 494.8h0.7M509.7 491.9h0.7M510.0 510.8h0.7M506.8 505.7h0.7M509.6 500.0h0.7M514.1 505.1h0.7M512.0 483.0h0.7M511.8 496.3h0.7M511.5 502.4h0.7M510.4 513.9h0.7M508.4 489.8h0.7M510.9 504.2h0.7M510.4 512.3h0.7M517.6 496.5h0.7M509.5 493.8h0.7M506.0 485.5h0.7M513.5 502.1h0.7M510.5 497.8h0.7M509.2 492.9h0.7M509.0 511.0h0.7M511.0 526.5h0.7M509.8 499.1h0.7M512.9 486.8h0.7M510.8 497.4h0.7M509.3 505.4h0.7M511.0 503.0h0.7M507.8 500.5h0.7M508.5 505.9h0.7M512.7 490.7h0.7M509.2 511.6h0.7M510.6 495.8h0.7M510.2 497.9h0.7M512.1 502.1h0.7M510.7 501.1h0.7M513.9 495.4h0.7M511.7 499.7h0.7M508.7 503.3h0.7M511.8 489.1h0.7M506.9 520.8h0.7M512.9 508.4h0.7M511.6 507.1h0.7M510.8 514.6h0.7M509.3 508.0h0.7M511.8 511.0h0.7M510.8 493.2h0.7M512.6 486.2h0.7M510.1 483.7h0.7M511.5 488.5h0.7M512.7 491.5h0.7M510.9 498.2h0.7M506.6 501.9h0.7M508.0 499.3h0.7M509.6 497.5h0.7M510.7 519.5h0.7M509.5 510.9h0.7M509.1 501.2h0.7M511.4 504.3h0.7M514.4 509.9h0.7M511.9 503.1h0.7M511.1 504.5h0.7M509.7 514.4h0.7M510.2 507.8h0.7M512.7 516.3h0.7M510.3 508.0h0.7M510.5 493.5h0.7M514.0 491.6h0.7M510.4 504.4h0.7M512.9 490.2h0.7M512.8 518.3h0.7M509.0 506.6h0.7M511.9 501.6h0.7M513.4 503.6h0.7M509.3 493.2h0.7M508.5 491.7h0.7M511.7 483.6h0.7M511.5 504.6h0.7M507.7 497.9h0.7M506.2 498.0h0.7M513.5 498.7h0.7M508.4 493.4h0.7M509.8 508.5h0.7M513.8 498.0h0.7M512.8 499.8h0.7M510.0 520.0h0.7M509.9 500.3h0.7M504.4 496.2h0.7M512.5 510.2h0.7M510.1 500.3h0.7M508.8 509.9h0.7M509.8 494.3h0.7M511.3 498.0h0.7M504.5 502.2h0.7M510.7 501.1h0.7M505.8 485.3h0.7M509.4 505.1h0.7M512.8 498.9h0.7M510.5 495.6h0.7M511.9 514.0h0.7M507.7 493.6h0.7M505.8 490.6h0.7M507.8 499.5h0.7M509.2 500.3h0.7M510.2 477.0h0.7M508.5 487.1h0.7M509.6 475.5h0.7M507.1 493.1h0.7M508.3 501.5h0.7M507.1 494.2h0.7M512.0 503.4h0.7M511.4 506.9h0.7M518.9 499.5h0.7M510.9 490.5h0.7M511.1 501.1h0.7M512.3 495.2h0.7M510.9 526.6h0.7M507.4 477.6h0.7M507.4 494.5h0.7M510.1 506.5h0.7M514.6 498.3h0.7M511.9 496.1h0.7M506.8 501.8h0.7M515.4 501.1h0.7M505.7 500.1h0.7M512.0 485.9h0.7M508.3 490.4h0.7M506.4 515.8h0.7M514.2 507.0h0.7M514.2 500.9h0.7M514.6 509.4h0.7M503.8 491.8h0.7M510.8 497.6h0.7M510.6 507.1h0.7M509.7 501.9h0.7M508.4 497.0h0.7M515.5 511.0h0.7M508.5 499.7h0.7M509.8 499.6h0.7M510.2 500.5h0.7M510.2 498.6h0.7M514.9 479.8h0.7M510.2 476.8h0.7M505.5 483.7h0.7M515.9 498.3h0.7M507.9 505.3h0.7M508.6 496.2h0.7M510.4 505.3h0.7M514.1 496.2h0.7M510.1 505.1h0.7M509.7 507.6h0.7M509.6 492.5h0.7M511.8 491.9h0.7M510.4 509.4h0.7M510.6 500.8h0.7M511.1 497.5h0.7M510.2 516.4h0.7M511.6 494.0h0.7M511.2 501.9h0.7M508.2 499.5h0.7M510.2 481.0h0.7M511.8 511.7h0.7M510.5 483.0h0.7M510.9 478.9h0.7M513.6 490.9h0.7M510.1 497.6h0.7M510.4 492.2h0.7M511.9 513.9h0.7M511.9 493.4h0.7M512.4 497.8h0.7M505.9 496.6h0.7M508.3 499.8h0.7M511.6 509.1h0.7M510.0 495.3h0.7M511.5 494.7h0.7M508.8 498.5h0.7M512.0 496.2h0.7M502.7 489.8h0.7M510.2 481.2h0.7M508.2 494.5h0.7M509.1 513.4h0.7M507.2 499.5h0.7M509.9 498.8h0.7M505.4 496.7h0.7M507.3 507.0h0.7M509.0 493.4h0.7M509.0 505.9h0.7M506.8 499.9h0.7M512.7 492.6h0.7M512.5 511.7h0.7M511.2 492.8h0.7M510.9 495.0h0.7M512.6 479.9h0.7M513.8 503.4h0.7M513.5 497.8h0.7M512.5 508.3h0.7M510.6 505.9h0.7M507.6 509.7h0.7M509.0 489.0h0.7M511.1 497.5h0.7M506.7 510.2h0.7M512.1 501.8h0.7M507.5 510.4h0.7M509.6 497.6h0.7M509.4 503.5h0.7M510.4 494.1h0.7M508.0 505.0h0.7M510.7 486.9h0.7M512.4 514.6h0.7M511.3 502.8h0.7M513.0 499.0h0.7M509.7 496.6h0.7M512.1 477.8h0.7M509.9 488.0h0.7M511.3 503.9h0.7M512.0 498.5h0.7M509.8 500.7h0.7M508.2 492.2h0.7M510.0 490.5h0.7M510.3 501.5h0.7M505.8 488.4h0.7M510.4 509.0h0.7M509.3 515.0h0.7M504.2 505.8h0.7M513.0 489.9h0.7M505.0 499.9h0.7M510.5 504.8h0.7M512.6 511.7h0.7M514.7 509.0h0.7M512.8 505.0h0.7M511.5 505.4h0.7M515.7 502.4h0.7M511.2 513.5h0.7M511.6 503.5h0.7M505.6 471.8h0.7M511.2 490.9h0.7M507.2 472.8h0.7M508.8 500.1h0.7M511.6 498.8h0.7M510.0 481.6h0.7M515.6 484.3h0.7M510.3 485.2h0.7M512.1 507.5h0.7M511.0 496.6h0.7M509.7 491.4h0.7M508.6 511.3h0.7M511.5 502.0h0.7M512.3 516.3h0.7M507.8 490.2h0.7M507.8 507.7h0.7M512.9 494.3h0.7M510.7 503.9h0.7M515.5 495.6h0.7M509.2 507.8h0.7M515.8 508.9h0.7M516.9 504.1h0.7M506.1 494.3h0.7M512.5 514.5h0.7M512.3 502.0h0.7M508.9 503.3h0.7M510.7 488.3h0.7M510.2 503.8h0.7M515.3 502.8h0.7M507.9 500.9h0.7M507.6 504.5h0.7M507.6 481.3h0.7M508.8 498.4h0.7M509.2 503.0h0.7M510.9 497.9h0.7M512.2 497.9h0.7M513.4 513.5h0.7M513.0 491.4h0.7M514.7 488.7h0.7M511.8 492.1h0.7M509.0 488.1h0.7M510.6 496.5h0.7M512.6 509.5h0.7M507.2 491.8h0.7M508.1 485.3h0.7M509.7 488.9h0.7M506.8 511.5h0.7M512.7 486.6h0.7M514.1 504.4h0.7M508.4 482.9h0.7M510.6 518.0h0.7M514.1 512.7h0.7M513.5 499.7h0.7M507.4 500.5h0.7M511.2 493.1h0.7M510.7 502.4h0.7M510.5 495.8h0.7M517.9 484.6h0.7M507.7 512.2h0.7M508.7 496.3h0.7M514.1 509.3h0.7M508.3 504.4h0.7M510.9 520.1h0.7M513.4 502.5h0.7M509.4 494.6h0.7M508.4 498.9h0.7M511.4 495.3h0.7M509.9 494.5h0.7M508.1 502.1h0.7M510.8 493.1h0.7M508.8 493.8h0.7M513.3 499.9h0.7M506.9 496.0h0.7M508.8 504.6h0.7M506.2 499.9h0.7M508.4 507.9h0.7M510.5 489.2h0.7M510.9 506.5h0.7M509.3 494.6h0.7M512.8 478.5h0.7M513.0 492.8h0.7M511.3 483.5h0.7M513.7 497.7h0.7M507.7 489.4h0.7M509.3 488.1h0.7M512.7 499.5h0.7M509.1 512.8h0.7M510.2 487.5h0.7M510.2 491.1h0.7M510.9 486.5h0.7M512.8 512.5h0.7M510.8 501.3h0.7M510.6 498.7h0.7M515.4 494.0h0.7" stroke="#000" stroke-width="0.7" stroke-opacity="0.45" fill="none"/>
<path d="M509.6 521.0h0.8M506.8 518.2h0.8M508.7 521.3h0.8M508.6 521.5h0.8M509.0 522.5h0.8M508.2 520.2h0.8M509.0 521.9h0.8M507.0 520.1h0.8M508.0 521.7h0.8M510.0 518.5h0.8M510.9 521.4h0.8M511.2 520.8h0.8M506.8 519.5h0.8M509.4 518.9h0.8M506.3 524.2h0.8M506.9 518.4h0.8M508.2 517.5h0.8M506.4 521.6h0.8M508.6 518.9h0.8M509.3 524.7h0.8M511.0 521.4h0.8M508.3 519.5h0.8M509.0 519.9h0.8M509.0 519.3h0.8M509.7 517.4h0.8M506.1 519.2h0.8M510.7 520.1h0.8M508.4 521.1h0.8M507.8 521.1h0.8M508.0 519.9h0.8M507.0 521.1h0.8M507.7 518.3h0.8M509.4 518.2h0.8M507.5 519.9h0.8M510.3 519.7h0.8M509.8 520.7h0.8M507.6 517.6h0.8M507.5 517.9h0.8M509.0 520.4h0.8M506.7 521.1h0.8M509.5 519.3h0.8M508.4 519.0h0.8M506.3 520.9h0.8M507.4 521.0h0.8M508.3 521.1h0.8M508.4 521.9h0.8M510.1 522.0h0.8M510.9 517.8h0.8M510.0 518.3h0.8M506.6 522.3h0.8M508.4 521.7h0.8M510.0 522.1h0.8M508.2 522.0h0.8M509.3 518.9h0.8M508.6 521.3h0.8M507.2 520.1h0.8M506.8 522.0h0.8M508.7 519.5h0.8M511.7 521.0h0.8M507.2 519.2h0.8" stroke="#000" stroke-width="0.8" stroke-opacity="0.5" fill="none"/>
<path d="M528.7 494.0h0.6M510.3 500.3h0.6M523.4 490.6h0.6M517.1 499.5h0.6M524.5 495.1h0.6M511.9 493.0h0.6M533.7 492.5h0.6M528.6 496.5h0.6M524.5 502.1h0.6M509.5 484.1h0.6M510.0 484.6h0.6M527.3 485.1h0.6M526.6 485.8h0.6M536.8 484.4h0.6M502.6 496.9h0.6M522.2 498.3h0.6M538.8 479.5h0.6M514.6 488.8h0.6M522.5 495.4h0.6M520.9 511.6h0.6M533.2 503.3h0.6M531.2 484.4h0.6M508.2 493.6h0.6M518.5 505.6h0.6M521.6 488.9h0.6M516.7 498.1h0.6M509.1 500.4h0.6M520.8 500.8h0.6M537.5 472.4h0.6M512.9 488.9h0.6M523.1 494.4h0.6M513.7 487.3h0.6M529.1 489.7h0.6M527.7 488.6h0.6M532.1 489.2h0.6M521.2 499.6h0.6M517.8 490.7h0.6M520.1 510.5h0.6M524.1 479.2h0.6M525.4 509.4h0.6M526.2 494.2h0.6M503.9 483.2h0.6M510.8 480.7h0.6M515.3 507.6h0.6M521.4 479.3h0.6M509.4 480.0h0.6M521.4 508.1h0.6M524.9 495.1h0.6M512.9 499.6h0.6M519.3 494.3h0.6M505.9 486.1h0.6M523.0 493.0h0.6M524.8 499.2h0.6M521.7 495.5h0.6M529.0 482.9h0.6M533.4 494.1h0.6M528.8 500.6h0.6M526.2 490.3h0.6M522.0 507.9h0.6M523.8 495.8h0.6M518.4 487.7h0.6M531.2 501.3h0.6M535.3 480.2h0.6M524.0 513.0h0.6M517.5 496.0h0.6M528.3 494.3h0.6M510.3 496.6h0.6M505.8 497.7h0.6M523.5 492.8h0.6M526.0 502.6h0.6" stroke="#000" stroke-width="0.6" stroke-opacity="0.35" fill="none"/>
<path d="M534.8 462.7h0.6M545.0 476.5h0.6M546.9 487.5h0.6M530.3 460.4h0.6M566.2 471.5h0.6M566.1 472.9h0.6M554.1 499.1h0.6M560.9 473.2h0.6M544.7 477.5h0.6M547.0 484.8h0.6" stroke="#000" stroke-width="0.6" stroke-opacity="0.3" fill="none"/>
</g>
<line x1="514.40" y1="448.60" x2="514.40" y2="534.00" stroke="#9494f8" stroke-width="1" />
<line x1="497.50" y1="511.10" x2="582.40" y2="511.10" stroke="#9494f8" stroke-width="1" />
<path d="M497.5 534 V448.6 H582.4" fill="none" stroke="#8a8a8a" stroke-width="0.9"/>
<line x1="582.40" y1="448.60" x2="582.40" y2="534.00" stroke="#b0b0b0" stroke-width="0.9" />
<line x1="497.50" y1="534.00" x2="582.40" y2="534.00" stroke="#7a7a7a" stroke-width="0.9" />
<line x1="496.00" y1="454.10" x2="497.50" y2="454.10" stroke="#666" stroke-width="0.7" />
<line x1="496.00" y1="469.60" x2="497.50" y2="469.60" stroke="#666" stroke-width="0.7" />
<line x1="496.00" y1="485.10" x2="497.50" y2="485.10" stroke="#666" stroke-width="0.7" />
<line x1="496.00" y1="500.60" x2="497.50" y2="500.60" stroke="#666" stroke-width="0.7" />
<line x1="496.00" y1="516.10" x2="497.50" y2="516.10" stroke="#666" stroke-width="0.7" />
<line x1="496.00" y1="531.60" x2="497.50" y2="531.60" stroke="#666" stroke-width="0.7" />
<line x1="499.50" y1="534.00" x2="499.50" y2="535.40" stroke="#777" stroke-width="0.6" />
<line x1="501.50" y1="534.00" x2="501.50" y2="535.40" stroke="#777" stroke-width="0.6" />
<line x1="503.50" y1="534.00" x2="503.50" y2="535.40" stroke="#777" stroke-width="0.6" />
<line x1="505.50" y1="534.00" x2="505.50" y2="535.40" stroke="#777" stroke-width="0.6" />
<line x1="507.50" y1="534.00" x2="507.50" y2="535.40" stroke="#777" stroke-width="0.6" />
<line x1="509.50" y1="534.00" x2="509.50" y2="535.40" stroke="#777" stroke-width="0.6" />
<line x1="513.50" y1="534.00" x2="513.50" y2="535.40" stroke="#777" stroke-width="0.6" />
<line x1="515.50" y1="534.00" x2="515.50" y2="535.40" stroke="#777" stroke-width="0.6" />
<line x1="530.50" y1="534.00" x2="530.50" y2="535.40" stroke="#777" stroke-width="0.6" />
<line x1="545.50" y1="534.00" x2="545.50" y2="535.40" stroke="#777" stroke-width="0.6" />
<line x1="557.50" y1="534.00" x2="557.50" y2="535.40" stroke="#777" stroke-width="0.6" />
<line x1="569.50" y1="534.00" x2="569.50" y2="535.40" stroke="#777" stroke-width="0.6" />
<clipPath id="e3"><rect x="599.5" y="448.9" width="86.5" height="85.10000000000002"/></clipPath>
<g clip-path="url(#e3)">
<ellipse cx="609.8" cy="522.5" rx="3.4" ry="3.6" fill="#000" fill-opacity="1" filter="url(#bl1)"/>
<path d="M607.2 520.6h0.8M610.5 520.3h0.8M607.4 518.1h0.8M610.9 521.2h0.8M608.2 519.4h0.8M604.6 521.9h0.8M607.7 521.6h0.8M612.5 520.9h0.8M609.3 523.9h0.8M609.1 522.0h0.8M607.3 519.7h0.8M606.3 524.0h0.8M612.1 520.7h0.8M609.4 521.0h0.8M615.1 524.2h0.8M609.5 523.6h0.8M612.5 519.7h0.8M611.1 523.4h0.8M609.9 523.8h0.8M612.2 522.1h0.8M609.1 524.2h0.8M610.2 523.0h0.8M613.8 523.0h0.8M609.8 519.1h0.8M610.6 522.9h0.8M611.1 523.4h0.8M611.3 522.7h0.8M610.2 523.4h0.8M608.5 519.9h0.8M607.9 522.4h0.8M606.4 521.0h0.8M609.5 522.8h0.8M607.9 522.3h0.8M610.0 520.9h0.8M610.0 521.7h0.8M607.7 521.3h0.8M608.1 526.4h0.8M609.4 520.7h0.8M607.0 522.1h0.8M610.6 522.2h0.8M607.2 519.8h0.8M607.8 522.6h0.8M608.2 521.9h0.8M613.4 517.9h0.8M609.4 522.1h0.8M606.9 524.5h0.8M609.4 523.0h0.8M611.0 525.3h0.8M608.6 520.7h0.8M607.4 519.3h0.8M613.5 521.1h0.8M606.5 523.7h0.8M613.4 519.9h0.8M609.8 518.9h0.8M605.9 521.7h0.8M607.5 519.4h0.8M609.9 523.0h0.8M609.5 525.0h0.8M608.6 521.3h0.8M611.6 527.2h0.8M613.9 524.3h0.8M610.2 519.0h0.8M612.8 521.9h0.8M614.5 522.2h0.8M606.0 524.7h0.8M610.2 520.8h0.8M610.2 522.1h0.8M610.5 518.0h0.8M609.9 523.1h0.8M607.4 525.1h0.8M609.6 517.4h0.8M613.1 521.2h0.8M610.0 521.6h0.8M613.8 522.2h0.8M608.5 520.6h0.8M611.0 523.5h0.8M608.6 524.3h0.8M608.5 522.5h0.8M611.0 522.8h0.8M610.4 522.8h0.8M608.9 522.6h0.8M610.6 519.3h0.8M607.0 522.8h0.8M609.8 522.5h0.8M611.4 523.0h0.8M608.8 523.3h0.8M608.5 526.1h0.8M612.0 522.1h0.8M608.6 523.3h0.8M609.6 520.4h0.8M610.9 522.4h0.8M611.6 521.7h0.8M613.7 526.1h0.8M606.7 517.5h0.8M608.0 525.7h0.8M611.2 522.4h0.8M610.5 519.3h0.8M610.3 519.8h0.8M610.4 521.4h0.8M608.9 521.0h0.8M611.1 526.5h0.8M606.5 523.8h0.8M609.1 525.6h0.8M612.1 520.2h0.8M610.1 525.4h0.8M613.2 520.7h0.8M607.9 522.8h0.8M612.6 524.3h0.8M610.6 523.4h0.8M611.0 522.3h0.8M608.1 523.7h0.8M610.8 524.2h0.8M609.8 521.0h0.8M611.4 524.1h0.8M613.5 519.1h0.8M609.0 521.6h0.8M614.2 516.9h0.8M611.8 520.3h0.8M607.8 524.1h0.8M611.4 514.8h0.8" stroke="#000" stroke-width="0.8" stroke-opacity="0.7" fill="none"/>
<path d="M608.0 495.6h0.7M609.5 508.3h0.7M608.8 492.5h0.7M606.1 501.6h0.7M610.5 503.8h0.7M609.1 516.4h0.7M609.2 515.3h0.7M614.1 484.9h0.7M610.8 487.9h0.7M606.9 501.6h0.7M610.5 510.6h0.7M613.6 475.6h0.7M609.8 499.7h0.7M612.1 496.9h0.7M608.8 492.3h0.7M611.7 480.1h0.7M607.7 480.1h0.7M609.0 509.7h0.7M609.4 502.7h0.7M613.0 508.4h0.7M610.8 493.3h0.7M610.3 491.0h0.7M608.9 500.0h0.7M612.1 488.0h0.7M608.5 494.3h0.7M610.4 503.6h0.7M610.7 495.7h0.7M607.3 489.2h0.7M609.7 487.2h0.7M611.2 494.7h0.7M608.8 499.3h0.7M612.6 521.5h0.7M610.2 489.0h0.7M612.0 513.8h0.7M609.2 502.0h0.7M609.9 504.8h0.7M608.9 489.7h0.7M609.8 492.7h0.7M607.8 491.7h0.7M608.7 515.9h0.7M613.0 487.7h0.7M609.4 498.7h0.7M609.2 488.3h0.7M611.7 507.2h0.7M611.3 510.6h0.7M610.4 493.2h0.7M609.5 489.5h0.7M608.7 510.7h0.7M612.1 492.8h0.7M610.5 484.4h0.7M611.6 492.4h0.7M610.0 490.9h0.7M607.3 488.0h0.7M613.3 484.8h0.7M608.5 491.4h0.7M608.4 482.9h0.7M608.0 483.3h0.7M610.3 468.0h0.7M607.4 478.8h0.7M610.3 483.8h0.7M611.0 484.6h0.7M612.4 474.2h0.7M613.9 479.8h0.7M609.6 482.4h0.7M609.7 510.9h0.7M611.9 488.2h0.7M611.2 513.8h0.7M611.5 490.8h0.7M611.0 499.3h0.7M606.8 488.0h0.7M610.5 515.3h0.7M611.7 497.3h0.7M607.2 489.4h0.7M607.4 495.7h0.7M609.2 503.6h0.7M610.3 494.9h0.7M611.0 505.2h0.7M609.7 488.7h0.7M610.6 530.1h0.7M609.2 485.4h0.7M611.1 477.2h0.7M611.4 481.6h0.7M609.7 491.6h0.7M608.6 500.0h0.7M610.3 506.0h0.7M611.5 489.6h0.7M611.8 501.8h0.7M610.6 497.2h0.7M612.6 487.5h0.7M612.8 497.4h0.7M611.5 506.7h0.7M615.6 484.2h0.7M607.6 507.1h0.7M609.6 495.2h0.7M607.4 507.3h0.7M611.0 476.9h0.7M612.4 494.1h0.7M609.3 474.7h0.7M614.0 484.4h0.7M611.7 487.5h0.7M608.4 506.1h0.7M611.7 501.8h0.7M609.5 500.7h0.7M611.6 510.4h0.7M610.1 498.7h0.7M611.8 468.5h0.7M610.9 512.2h0.7M611.6 499.1h0.7M611.9 509.1h0.7M606.9 487.3h0.7M608.6 478.7h0.7M612.3 484.2h0.7M610.6 501.8h0.7M612.7 478.3h0.7M607.4 472.5h0.7M611.1 484.1h0.7M611.2 506.2h0.7M614.0 483.0h0.7M610.6 495.1h0.7M606.3 503.3h0.7M613.2 479.9h0.7M611.6 498.3h0.7M610.7 482.7h0.7M608.3 521.5h0.7M612.7 496.5h0.7M612.7 483.0h0.7M611.6 489.1h0.7M605.2 483.1h0.7M611.8 504.0h0.7M611.6 494.6h0.7M610.9 476.1h0.7M610.1 529.8h0.7M610.6 489.0h0.7M614.5 493.5h0.7M609.9 495.4h0.7M611.0 480.1h0.7M610.4 490.3h0.7M606.8 497.7h0.7M610.2 488.0h0.7M609.3 506.1h0.7M604.6 503.8h0.7M610.5 494.7h0.7M609.6 490.8h0.7M612.0 484.4h0.7M613.9 479.9h0.7M611.5 492.2h0.7M613.6 502.8h0.7M607.0 499.3h0.7M608.5 499.2h0.7M610.2 484.0h0.7M608.4 495.3h0.7M610.1 491.1h0.7M607.8 498.5h0.7M608.7 472.2h0.7M606.9 516.2h0.7M609.8 484.2h0.7M608.6 490.9h0.7M610.1 492.9h0.7M611.9 488.5h0.7M611.2 495.4h0.7M609.6 502.6h0.7M611.4 485.5h0.7M611.8 490.3h0.7M607.6 518.4h0.7M613.4 474.1h0.7M611.0 497.9h0.7M609.8 485.2h0.7M611.1 498.1h0.7M609.6 503.9h0.7M607.3 465.3h0.7M612.1 512.9h0.7M607.1 482.1h0.7M614.8 493.7h0.7M612.6 508.9h0.7M610.7 483.9h0.7M613.7 498.9h0.7M608.1 481.0h0.7M610.5 476.3h0.7M615.0 502.4h0.7M612.2 492.0h0.7M611.4 468.5h0.7M608.8 499.3h0.7M607.6 483.0h0.7M607.8 504.3h0.7M612.3 491.8h0.7M611.3 491.6h0.7M607.2 482.9h0.7M609.0 500.3h0.7M610.1 505.8h0.7M608.8 502.6h0.7M610.5 510.5h0.7M610.7 503.8h0.7M606.1 500.5h0.7M610.2 502.2h0.7M610.8 480.0h0.7M614.3 516.2h0.7M611.3 510.5h0.7M610.7 516.5h0.7M608.5 506.8h0.7M611.3 477.8h0.7M609.8 504.0h0.7M608.3 488.0h0.7M610.2 490.8h0.7M610.5 495.3h0.7M610.8 488.3h0.7M610.4 482.3h0.7M613.1 490.4h0.7M610.9 490.6h0.7M611.9 488.0h0.7M614.2 501.0h0.7M610.7 511.6h0.7M612.5 496.3h0.7M608.3 497.7h0.7M611.2 486.6h0.7M611.4 491.4h0.7M612.0 493.1h0.7M608.4 471.1h0.7M608.7 474.6h0.7M614.9 510.7h0.7M613.3 499.4h0.7M611.9 477.5h0.7M610.0 479.5h0.7M611.8 494.3h0.7M613.5 483.9h0.7M611.2 507.0h0.7M609.4 497.6h0.7M612.8 476.9h0.7M610.4 491.9h0.7M609.8 468.8h0.7M609.5 468.9h0.7M613.4 490.6h0.7M610.3 485.3h0.7M610.6 485.1h0.7M610.2 505.2h0.7M610.2 498.0h0.7M611.3 502.5h0.7M610.5 497.3h0.7M610.1 473.6h0.7M608.8 510.8h0.7M610.7 492.9h0.7M608.0 488.2h0.7M612.4 516.8h0.7M611.2 481.6h0.7M606.7 490.1h0.7M614.2 503.2h0.7M608.7 493.5h0.7M610.2 509.3h0.7M613.4 507.7h0.7M606.8 508.3h0.7M613.8 489.1h0.7M611.6 500.4h0.7M607.1 475.0h0.7M609.1 487.3h0.7M611.2 483.0h0.7M608.5 488.2h0.7M613.0 490.2h0.7M612.6 505.4h0.7M609.4 499.0h0.7M608.8 495.2h0.7M611.7 492.5h0.7M610.2 494.7h0.7M609.4 510.8h0.7M607.5 495.0h0.7M607.9 487.9h0.7M610.2 521.1h0.7M610.1 492.8h0.7M611.0 489.0h0.7M607.9 503.4h0.7M611.4 490.8h0.7M609.7 508.3h0.7M609.5 483.3h0.7M608.8 461.1h0.7M612.3 499.7h0.7M611.4 474.8h0.7M612.1 492.1h0.7M610.4 512.1h0.7M612.1 476.8h0.7M609.4 493.7h0.7M609.9 486.6h0.7M610.5 495.1h0.7M609.4 504.4h0.7M608.3 491.5h0.7M607.6 493.8h0.7M611.9 513.8h0.7M608.6 476.5h0.7M608.1 489.4h0.7M611.9 480.6h0.7M610.0 517.9h0.7M611.0 503.6h0.7M611.4 483.8h0.7M612.9 515.1h0.7M610.1 493.7h0.7M609.4 503.7h0.7M609.8 513.1h0.7M610.5 499.8h0.7M612.1 483.4h0.7M606.3 498.5h0.7M608.8 474.5h0.7M609.5 503.4h0.7M609.3 506.3h0.7M609.2 491.4h0.7M606.1 484.0h0.7M610.4 493.9h0.7M607.6 497.4h0.7M616.2 506.8h0.7M611.0 480.7h0.7M607.6 493.2h0.7M608.3 504.2h0.7M608.6 494.6h0.7M609.7 495.7h0.7M609.3 489.6h0.7M610.3 501.6h0.7M610.4 482.3h0.7M608.3 488.3h0.7M608.8 489.3h0.7M610.2 514.6h0.7M610.2 488.4h0.7M611.6 503.3h0.7M610.9 485.5h0.7M610.7 507.1h0.7M607.6 495.0h0.7M609.5 505.5h0.7M613.8 493.1h0.7M610.9 508.4h0.7M613.6 521.3h0.7M610.1 521.2h0.7M610.7 503.0h0.7M609.4 503.5h0.7M609.3 504.5h0.7M609.6 498.0h0.7M608.3 482.3h0.7M610.6 501.1h0.7M611.6 496.6h0.7M607.6 493.3h0.7M613.8 487.0h0.7M611.2 502.5h0.7M610.7 499.1h0.7M612.9 497.5h0.7M615.7 486.2h0.7M611.9 496.3h0.7M608.0 513.3h0.7M612.1 502.4h0.7M612.8 480.7h0.7M611.4 507.6h0.7M610.0 489.6h0.7M612.4 481.8h0.7M609.2 502.7h0.7M614.1 508.2h0.7M611.4 509.3h0.7M609.5 480.2h0.7M610.9 486.2h0.7M609.7 488.1h0.7M609.5 476.4h0.7M607.2 499.0h0.7M610.2 493.2h0.7M610.7 502.7h0.7M609.0 474.8h0.7M611.0 520.9h0.7M611.1 506.5h0.7M611.4 487.4h0.7M610.8 492.3h0.7M609.4 516.3h0.7M609.8 490.1h0.7M608.0 495.9h0.7M615.0 499.9h0.7M614.9 499.1h0.7M609.4 479.2h0.7M609.4 501.3h0.7M605.5 496.2h0.7M612.3 502.4h0.7M606.2 476.1h0.7M609.0 468.1h0.7M609.7 483.3h0.7M610.9 493.7h0.7M610.4 493.0h0.7M610.9 497.0h0.7M607.0 501.4h0.7M611.2 479.6h0.7M609.3 502.0h0.7M608.7 497.9h0.7M607.5 493.5h0.7M614.3 509.5h0.7M613.2 512.1h0.7M610.6 495.1h0.7M612.1 492.5h0.7M607.7 507.5h0.7M612.8 502.7h0.7M611.9 485.2h0.7M611.5 496.0h0.7M611.3 489.7h0.7M609.6 479.2h0.7M610.8 478.6h0.7M606.9 490.2h0.7M610.1 486.9h0.7M612.8 501.8h0.7M607.8 487.3h0.7M608.9 527.5h0.7M608.7 488.1h0.7M611.0 501.4h0.7M610.0 512.3h0.7M607.3 506.0h0.7M608.8 515.0h0.7M613.3 491.9h0.7M610.9 485.9h0.7M608.5 497.8h0.7M606.0 512.9h0.7M607.8 520.9h0.7M610.2 486.0h0.7M608.5 500.0h0.7M605.7 502.1h0.7M608.9 484.8h0.7M608.8 489.7h0.7M611.8 503.3h0.7M611.7 475.9h0.7M613.2 498.4h0.7M610.7 478.8h0.7M612.0 492.3h0.7M611.4 505.1h0.7M614.3 498.4h0.7M607.6 500.8h0.7M608.0 494.8h0.7M607.9 509.1h0.7M614.7 469.1h0.7M608.3 489.8h0.7M605.8 482.9h0.7M610.2 496.7h0.7M606.4 494.4h0.7M611.5 503.3h0.7M608.4 483.4h0.7M608.8 511.9h0.7M611.8 479.0h0.7M611.1 490.5h0.7M608.6 501.1h0.7M609.9 506.7h0.7M613.4 487.0h0.7M611.5 511.4h0.7M609.5 487.9h0.7M609.8 500.1h0.7M607.3 500.6h0.7M609.4 503.0h0.7M610.6 526.1h0.7M610.4 507.4h0.7M610.7 508.3h0.7M611.2 472.2h0.7M606.4 482.2h0.7M609.7 512.1h0.7M609.3 501.6h0.7M609.3 499.7h0.7M609.6 490.1h0.7M609.6 476.9h0.7M612.3 496.5h0.7M608.7 481.5h0.7M610.1 493.6h0.7M610.4 488.8h0.7M613.7 497.2h0.7M609.2 498.1h0.7M611.6 503.7h0.7M610.1 492.5h0.7M608.2 493.6h0.7M611.9 486.3h0.7M611.8 508.2h0.7M611.2 497.8h0.7M612.5 486.1h0.7M609.6 501.4h0.7M611.7 504.3h0.7M606.2 508.2h0.7M608.5 497.1h0.7M608.7 495.1h0.7M608.4 494.9h0.7M611.0 505.6h0.7M610.5 490.2h0.7M606.8 478.7h0.7M608.5 488.3h0.7M612.6 481.4h0.7M610.4 495.4h0.7M612.3 488.6h0.7M610.3 496.1h0.7M611.0 513.4h0.7M609.5 490.9h0.7M610.6 474.9h0.7" stroke="#000" stroke-width="0.7" stroke-opacity="0.4" fill="none"/>
<path d="M636.6 512.5h0.6M620.1 513.4h0.6M622.1 517.0h0.6M646.5 518.5h0.6M642.7 528.6h0.6M635.1 506.7h0.6M620.6 535.4h0.6M602.5 538.7h0.6M621.5 508.5h0.6M622.4 507.5h0.6M619.1 505.5h0.6M626.0 510.5h0.6M611.1 533.0h0.6M611.2 501.8h0.6M630.1 495.7h0.6" stroke="#000" stroke-width="0.6" stroke-opacity="0.35" fill="none"/>
</g>
<line x1="614.30" y1="448.90" x2="614.30" y2="534.00" stroke="#9494f8" stroke-width="1" />
<line x1="599.50" y1="517.50" x2="686.00" y2="517.50" stroke="#9494f8" stroke-width="1" />
<path d="M599.5 534 V448.9 H686" fill="none" stroke="#8a8a8a" stroke-width="0.9"/>
<line x1="599.50" y1="534.00" x2="686.00" y2="534.00" stroke="#7a7a7a" stroke-width="0.9" />
<line x1="598.00" y1="454.40" x2="599.50" y2="454.40" stroke="#666" stroke-width="0.7" />
<line x1="598.00" y1="469.90" x2="599.50" y2="469.90" stroke="#666" stroke-width="0.7" />
<line x1="598.00" y1="485.40" x2="599.50" y2="485.40" stroke="#666" stroke-width="0.7" />
<line x1="598.00" y1="500.90" x2="599.50" y2="500.90" stroke="#666" stroke-width="0.7" />
<line x1="598.00" y1="516.40" x2="599.50" y2="516.40" stroke="#666" stroke-width="0.7" />
<line x1="598.00" y1="531.90" x2="599.50" y2="531.90" stroke="#666" stroke-width="0.7" />
<line x1="601.50" y1="534.00" x2="601.50" y2="535.40" stroke="#777" stroke-width="0.6" />
<line x1="603.50" y1="534.00" x2="603.50" y2="535.40" stroke="#777" stroke-width="0.6" />
<line x1="605.50" y1="534.00" x2="605.50" y2="535.40" stroke="#777" stroke-width="0.6" />
<line x1="607.50" y1="534.00" x2="607.50" y2="535.40" stroke="#777" stroke-width="0.6" />
<line x1="609.50" y1="534.00" x2="609.50" y2="535.40" stroke="#777" stroke-width="0.6" />
<line x1="611.50" y1="534.00" x2="611.50" y2="535.40" stroke="#777" stroke-width="0.6" />
<line x1="615.50" y1="534.00" x2="615.50" y2="535.40" stroke="#777" stroke-width="0.6" />
<line x1="617.50" y1="534.00" x2="617.50" y2="535.40" stroke="#777" stroke-width="0.6" />
<line x1="632.50" y1="534.00" x2="632.50" y2="535.40" stroke="#777" stroke-width="0.6" />
<line x1="647.50" y1="534.00" x2="647.50" y2="535.40" stroke="#777" stroke-width="0.6" />
<line x1="659.50" y1="534.00" x2="659.50" y2="535.40" stroke="#777" stroke-width="0.6" />
<line x1="671.50" y1="534.00" x2="671.50" y2="535.40" stroke="#777" stroke-width="0.6" />
<text x="386.2" y="482" font-size="8.6" text-anchor="middle" fill="#000" transform="rotate(-90 386.2 482)">Anti-CD25 -FITC</text>
<text x="415.80" y="548.40" font-size="8.6" text-anchor="start" font-weight="normal" fill="#000" >Anti-human IgG-AF647</text>
<path d="M383.6 545.5 V521.5 M383.6 545.5 H407.5" fill="none" stroke="#000" stroke-width="1.1"/>
<path d="M380.6 522.6 L383.6 517.6 L386.6 522.6 Z M406.5 542.4 L411.3 545.5 L406.5 548.6 Z" fill="#000"/>
</svg></body></html>
